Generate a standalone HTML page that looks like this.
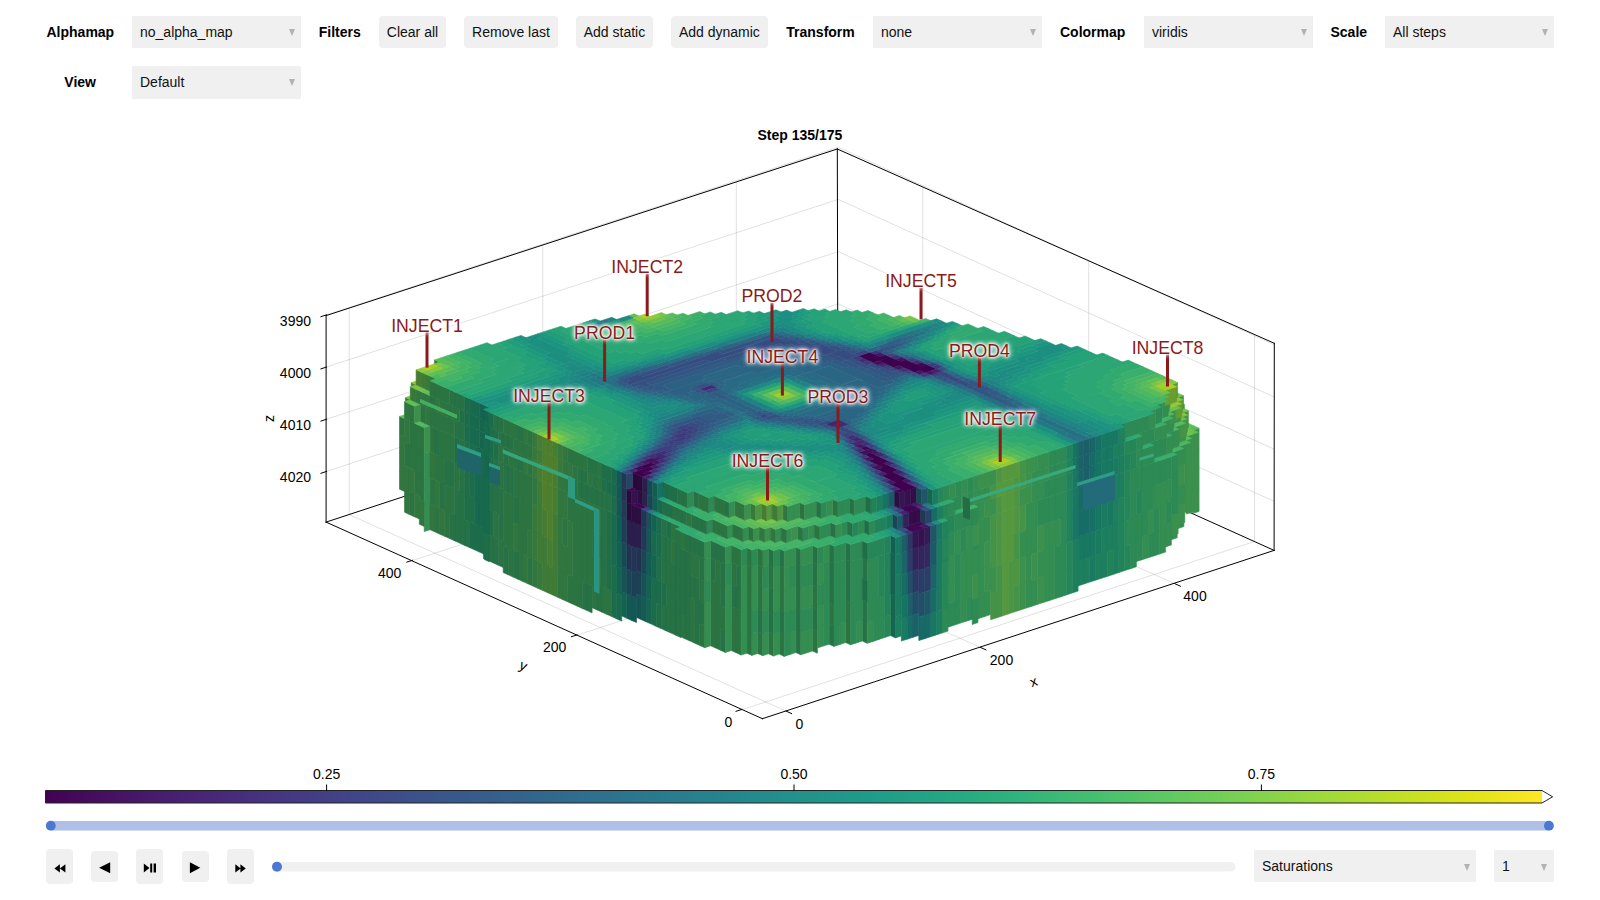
<!DOCTYPE html>
<html><head><meta charset="utf-8"><title>Reservoir plot</title>
<style>
html,body{margin:0;padding:0;background:#fff}
body{width:1600px;height:900px;position:relative;overflow:hidden;font-family:"Liberation Sans",sans-serif;font-size:14px;color:#000}
.lb{position:absolute;font-weight:bold;height:32px;line-height:33.4px;top:16px;white-space:nowrap}
.mn{position:absolute;background:#f0f0f0;height:32px;line-height:33.6px;top:16px;box-sizing:border-box;padding-left:8px;white-space:nowrap;color:#111}
.mn:after{content:"";position:absolute;right:6.5px;top:13.2px;border-left:3.9px solid transparent;border-right:3.9px solid transparent;border-top:7.8px solid #b2b2b2}
.bt{position:absolute;background:#f0f0f0;height:32px;line-height:33.6px;top:16px;border-radius:4px;text-align:center;white-space:nowrap;color:#111}
.pb{position:absolute;background:#f0f0f0;border-radius:4px;width:27px}
svg{position:absolute;left:0;top:0}
svg text{font-family:"Liberation Sans",sans-serif;font-size:14px;fill:#000}
.g{stroke:#000;stroke-opacity:.12;stroke-width:1}
.f{stroke:#000;stroke-width:1;stroke-linecap:square}
.wl{position:absolute;width:120px;text-align:center;font-size:17.7px;line-height:20px;color:#8b1a1a;white-space:nowrap;text-shadow:0 0 2px #fff,0 0 3px #fff,0 0 4px #fff,0 0 5px #fff,0 0 6px rgba(255,255,255,.9)}
</style></head><body>
<div class="lb" style="left:46.5px">Alphamap</div>
<div class="mn" style="left:132px;width:169px">no_alpha_map</div>
<div class="lb" style="left:318.7px">Filters</div>
<div class="bt" style="left:379px;width:67px">Clear all</div>
<div class="bt" style="left:464.2px;width:93.6px">Remove last</div>
<div class="bt" style="left:575.9px;width:77.1px">Add static</div>
<div class="bt" style="left:671px;width:96.8px">Add dynamic</div>
<div class="lb" style="left:786.3px">Transform</div>
<div class="mn" style="left:873px;width:169px">none</div>
<div class="lb" style="left:1060px">Colormap</div>
<div class="mn" style="left:1144px;width:169px">viridis</div>
<div class="lb" style="left:1330.5px">Scale</div>
<div class="mn" style="left:1385px;width:169px">All steps</div>
<div class="lb" style="left:64.3px;top:66.2px">View</div>
<div class="mn" style="left:132px;width:169px;top:66px;height:32.7px">Default</div>

<div class="pb" style="left:46px;top:849px;height:34.6px"></div>
<div class="pb" style="left:91px;top:851px;height:31.4px"></div>
<div class="pb" style="left:136.3px;top:849px;height:34.6px"></div>
<div class="pb" style="left:181.8px;top:851px;height:31.4px"></div>
<div class="pb" style="left:227px;top:849px;height:34.6px"></div>
<svg width="1600" height="900" viewBox="0 0 1600 900">
<defs><linearGradient id="cb" x1="0" x2="1" y1="0" y2="0"><stop offset="0.000" stop-color="#440154"/><stop offset="0.050" stop-color="#471365"/><stop offset="0.100" stop-color="#482475"/><stop offset="0.150" stop-color="#463480"/><stop offset="0.200" stop-color="#414487"/><stop offset="0.250" stop-color="#3b528b"/><stop offset="0.300" stop-color="#355f8d"/><stop offset="0.350" stop-color="#2f6c8e"/><stop offset="0.400" stop-color="#2a788e"/><stop offset="0.450" stop-color="#25848e"/><stop offset="0.500" stop-color="#21918c"/><stop offset="0.550" stop-color="#1e9c89"/><stop offset="0.600" stop-color="#22a884"/><stop offset="0.650" stop-color="#2fb47c"/><stop offset="0.700" stop-color="#44bf70"/><stop offset="0.750" stop-color="#5ec962"/><stop offset="0.800" stop-color="#7ad151"/><stop offset="0.850" stop-color="#9bd93c"/><stop offset="0.900" stop-color="#bddf26"/><stop offset="0.950" stop-color="#dfe318"/><stop offset="1.000" stop-color="#fde725"/></linearGradient></defs>
<text x="799.9" y="139.6" text-anchor="middle" font-weight="bold">Step 135/175</text>
<g><line x1="786.1" y1="711.1" x2="349.2" y2="514.6" class="g"/><line x1="349.2" y1="514.6" x2="349.2" y2="308.1" class="g"/><line x1="980.5" y1="647.4" x2="542.8" y2="451.5" class="g"/><line x1="542.8" y1="451.5" x2="542.8" y2="245.0" class="g"/><line x1="1174.9" y1="583.7" x2="736.3" y2="388.4" class="g"/><line x1="736.3" y1="388.4" x2="736.3" y2="181.9" class="g"/><line x1="741.7" y1="709.8" x2="1254.5" y2="541.5" class="g"/><line x1="1254.5" y1="541.5" x2="1254.5" y2="334.5" class="g"/><line x1="577.3" y1="635.1" x2="1088.7" y2="467.8" class="g"/><line x1="1088.7" y1="467.8" x2="1088.7" y2="260.8" class="g"/><line x1="412.5" y1="560.5" x2="922.8" y2="394.0" class="g"/><line x1="922.8" y1="394.0" x2="922.8" y2="187.0" class="g"/><line x1="326.6" y1="314.8" x2="838.2" y2="147.2" class="g"/><line x1="838.2" y1="147.2" x2="1274.1" y2="344.7" class="g"/><line x1="326.6" y1="367.0" x2="838.2" y2="199.4" class="g"/><line x1="838.2" y1="199.4" x2="1274.1" y2="396.9" class="g"/><line x1="326.6" y1="419.2" x2="838.2" y2="251.6" class="g"/><line x1="838.2" y1="251.6" x2="1274.1" y2="449.1" class="g"/><line x1="326.6" y1="471.4" x2="838.2" y2="303.8" class="g"/><line x1="838.2" y1="303.8" x2="1274.1" y2="501.3" class="g"/></g>
<g><line x1="326.1" y1="315.6" x2="837.3" y2="149.0" class="f"/><line x1="837.3" y1="149.0" x2="1274.3" y2="343.3" class="f"/><line x1="837.3" y1="149.0" x2="837.8" y2="353.8" class="f"/><line x1="326.1" y1="522.1" x2="837.8" y2="353.8" class="f"/><line x1="1274.1" y1="550.4" x2="837.8" y2="353.8" class="f"/><line x1="326.1" y1="315.6" x2="326.1" y2="522.1" class="f"/><line x1="1274.3" y1="343.3" x2="1274.1" y2="550.4" class="f"/></g>
<g stroke-width="0.6" stroke-linejoin="round"><path fill="#2b7442" stroke="#2b7442" d="M779.3 565.7l4.9 2.3 0 22.1-4.9-2.3zM779.3 587.8l4.9 2.3 0 22.1-4.9-2.3zM779.3 632l4.9 2.3 0 22.1-4.9-2.3zM592.1 503.7l4.9 2.2 0 26-4.9-2.2zM592.1 555.7l4.9 2.2 0 26-4.9-2.2zM592.1 581.7l4.9 2.2 0 26-4.9-2.2zM582.2 499.2l5 2.2 0 27.3-5-2.2zM582.2 526.5l5 2.2 0 27.3-5-2.2zM582.2 553.8l5 2.2 0 27.3-5-2.2zM572.4 494.7l4.9 2.3 0 27.3-4.9-2.3zM572.4 522l4.9 2.3 0 27.3-4.9-2.3zM572.4 549.3l4.9 2.3 0 27.3-4.9-2.3zM572.4 576.6l4.9 2.3 0 27.3-4.9-2.3zM845.7 601l4.9 2.2 0 20.8-4.9-2.2zM845.7 621.8l4.9 2.2 0 20.8-4.9-2.2zM671.1 539.5l4.9 2.2 0 23.4-4.9-2.2zM606.9 588.4l5 2.2 0 26-5-2.2zM399.5 416.4l5 2.2 0 18.2-5-2.2zM597 505.9l5 2.3 0 26-5-2.3zM597 557.9l5 2.3 0 26-5-2.3zM715.6 559.6l4.9 2.3 0 22.1-4.9-2.3zM715.6 581.7l4.9 2.3 0 22.1-4.9-2.3zM715.6 603.8l4.9 2.3 0 22.1-4.9-2.3zM715.6 625.9l4.9 2.3 0 22.1-4.9-2.3zM694.9 554.8l4.9 2.3 0 22.1-4.9-2.3zM414.3 423.1l5 2.3 0 23.4-5-2.3zM414.3 446.5l5 2.3 0 23.4-5-2.3zM414.3 469.9l5 2.3 0 23.4-5-2.3zM404.5 442l4.9 2.3 0 23.4-4.9-2.3zM768.5 565.4l4.9 2.3 0 22.1-4.9-2.3zM768.5 631.7l4.9 2.3 0 22.1-4.9-2.3zM720.5 606.1l4.9 2.2 0 22.1-4.9-2.2zM699.8 579.2l5 2.2 0 22.1-5-2.2zM699.8 623.4l5 2.2 0 22.1-5-2.2zM710.6 579.5l5 2.2 0 22.1-5-2.2zM710.6 601.6l5 2.2 0 22.1-5-2.2zM710.6 623.7l5 2.2 0 22.1-5-2.2zM690 552.6l4.9 2.2 0 22.1-4.9-2.2zM690 596.8l4.9 2.2 0 22.1-4.9-2.2zM690 618.9l4.9 2.2 0 22.1-4.9-2.2zM829.1 602.6l4.9 2.2 0 20.8-4.9-2.2zM680.1 614.4l4.9 2.3 0 22.1-4.9-2.3zM493.3 510.9l5 2.3 0 26-5-2.3zM747 564.8l4.9 2.2 0 22.1-4.9-2.2zM747 586.9l4.9 2.2 0 22.1-4.9-2.2zM747 609l4.9 2.2 0 22.1-4.9-2.2zM747 631.1l4.9 2.2 0 22.1-4.9-2.2zM419.3 425.4l4.9 2.2 0 24.7-4.9-2.2zM419.3 450.1l4.9 2.2 0 24.7-4.9-2.2zM419.3 474.8l4.9 2.2 0 24.7-4.9-2.2zM439.9 430.2l5 2.2 0 26-5-2.2zM439.9 456.2l5 2.2 0 26-5-2.2zM757.7 565.1l5 2.2 0 22.1-5-2.2zM757.7 587.2l5 2.2 0 22.1-5-2.2zM757.7 631.4l5 2.2 0 22.1-5-2.2zM409.4 420.9l4.9 2.2 0 23.4-4.9-2.2zM409.4 444.3l4.9 2.2 0 23.4-4.9-2.2zM409.4 491.1l4.9 2.2 0 23.4-4.9-2.2zM430 425.7l5 2.2 0 26-5-2.2zM430 477.7l5 2.2 0 26-5-2.2zM527.9 474.6l4.9 2.2 0 27.3-4.9-2.2zM527.9 501.9l4.9 2.2 0 27.3-4.9-2.2zM527.9 556.5l4.9 2.2 0 27.3-4.9-2.2zM518 470.1l5 2.3 0 27.3-5-2.3zM518 497.4l5 2.3 0 27.3-5-2.3zM518 524.7l5 2.3 0 27.3-5-2.3zM518 552l5 2.3 0 27.3-5-2.3zM508.2 492.9l4.9 2.3 0 27.3-4.9-2.3zM508.2 520.2l4.9 2.3 0 27.3-4.9-2.3zM508.2 547.5l4.9 2.3 0 27.3-4.9-2.3zM736.2 608.6l4.9 2.3 0 22.1-4.9-2.3zM736.2 630.7l4.9 2.3 0 22.1-4.9-2.3zM562.5 517.6l4.9 2.2 0 27.3-4.9-2.2zM498.3 461.2l4.9 2.2 0 26-4.9-2.2zM498.3 539.2l4.9 2.2 0 26-4.9-2.2zM454.7 462.9l5 2.2 0 26-5-2.2zM444.9 432.4l4.9 2.2 0 26-4.9-2.2zM444.9 484.4l4.9 2.2 0 26-4.9-2.2zM444.9 510.4l4.9 2.2 0 26-4.9-2.2zM435 453.9l4.9 2.3 0 26-4.9-2.3zM435 505.9l4.9 2.3 0 26-4.9-2.3zM812.5 584.7l4.9 2.2 0 22.1-4.9-2.2zM812.5 628.9l4.9 2.2 0 22.1-4.9-2.2zM587.2 501.4l4.9 2.3 0 27.3-4.9-2.3zM587.2 528.7l4.9 2.3 0 27.3-4.9-2.3zM587.2 556l4.9 2.3 0 27.3-4.9-2.3zM523 472.4l4.9 2.2 0 27.3-4.9-2.2zM523 499.7l4.9 2.2 0 27.3-4.9-2.2zM523 527l4.9 2.2 0 27.3-4.9-2.2zM577.3 497l4.9 2.2 0 27.3-4.9-2.2zM577.3 524.3l4.9 2.2 0 27.3-4.9-2.2zM577.3 551.6l4.9 2.2 0 27.3-4.9-2.2zM577.3 578.9l4.9 2.2 0 27.3-4.9-2.2zM513.1 467.9l4.9 2.2 0 27.3-4.9-2.2zM567.4 492.5l5 2.2 0 27.3-5-2.2zM567.4 574.4l5 2.2 0 27.3-5-2.2zM503.2 490.7l5 2.2 0 27.3-5-2.2zM503.2 518l5 2.2 0 27.3-5-2.2zM731.3 562.2l4.9 2.2 0 22.1-4.9-2.2zM731.3 606.4l4.9 2.2 0 22.1-4.9-2.2zM731.3 628.5l4.9 2.2 0 22.1-4.9-2.2zM449.8 434.6l4.9 2.3 0 26-4.9-2.3zM449.8 486.6l4.9 2.3 0 26-4.9-2.3zM602 586.2l4.9 2.2 0 26-4.9-2.2z"/>
<path fill="#267145" stroke="#267145" d="M779.3 609.9l4.9 2.3 0 22.1-4.9-2.3zM592.1 529.7l4.9 2.2 0 26-4.9-2.2zM582.2 581.1l5 2.2 0 27.3-5-2.2zM795.9 564.2l4.9 2.2 0 22.1-4.9-2.2zM795.9 586.3l4.9 2.2 0 22.1-4.9-2.2zM795.9 608.4l4.9 2.2 0 22.1-4.9-2.2zM795.9 630.5l4.9 2.2 0 22.1-4.9-2.2zM845.7 559.4l4.9 2.2 0 20.8-4.9-2.2zM845.7 580.2l4.9 2.2 0 20.8-4.9-2.2zM671.1 562.9l4.9 2.2 0 23.4-4.9-2.2zM671.1 586.3l4.9 2.2 0 23.4-4.9-2.2zM671.1 609.7l4.9 2.2 0 23.4-4.9-2.2zM661.2 535l5 2.3 0 23.4-5-2.3zM661.2 558.4l5 2.3 0 23.4-5-2.3zM661.2 605.2l5 2.3 0 23.4-5-2.3zM597 531.9l5 2.3 0 26-5-2.3zM597 583.9l5 2.3 0 26-5-2.3zM694.9 576.9l4.9 2.3 0 22.1-4.9-2.3zM694.9 599l4.9 2.3 0 22.1-4.9-2.3zM694.9 621.1l4.9 2.3 0 22.1-4.9-2.3zM685 550.4l5 2.2 0 22.1-5-2.2zM685 572.5l5 2.2 0 22.1-5-2.2zM685 594.6l5 2.2 0 22.1-5-2.2zM685 616.7l5 2.2 0 22.1-5-2.2zM675.2 545.9l4.9 2.2 0 22.1-4.9-2.2zM675.2 568l4.9 2.2 0 22.1-4.9-2.2zM675.2 590.1l4.9 2.2 0 22.1-4.9-2.2zM675.2 612.2l4.9 2.2 0 22.1-4.9-2.2zM676 541.7l5 2.3 0 23.4-5-2.3zM676 565.1l5 2.3 0 23.4-5-2.3zM676 588.5l5 2.3 0 23.4-5-2.3zM676 611.9l5 2.3 0 23.4-5-2.3zM666.2 537.3l4.9 2.2 0 23.4-4.9-2.2zM666.2 560.7l4.9 2.2 0 23.4-4.9-2.2zM666.2 584.1l4.9 2.2 0 23.4-4.9-2.2zM666.2 607.5l4.9 2.2 0 23.4-4.9-2.2zM768.5 587.5l4.9 2.3 0 22.1-4.9-2.3zM768.5 609.6l4.9 2.3 0 22.1-4.9-2.3zM720.5 561.9l4.9 2.2 0 22.1-4.9-2.2zM720.5 584l4.9 2.2 0 22.1-4.9-2.2zM720.5 628.2l4.9 2.2 0 22.1-4.9-2.2zM699.8 557.1l5 2.2 0 22.1-5-2.2zM699.8 601.3l5 2.2 0 22.1-5-2.2zM710.6 557.4l5 2.2 0 22.1-5-2.2zM690 574.7l4.9 2.2 0 22.1-4.9-2.2zM862.3 557.8l4.9 2.3 0 20.8-4.9-2.3zM862.3 599.4l4.9 2.3 0 20.8-4.9-2.3zM862.3 620.2l4.9 2.3 0 20.8-4.9-2.3zM829.1 561l4.9 2.2 0 20.8-4.9-2.2zM829.1 581.8l4.9 2.2 0 20.8-4.9-2.2zM829.1 623.4l4.9 2.2 0 20.8-4.9-2.2zM680.1 548.1l4.9 2.3 0 22.1-4.9-2.3zM680.1 570.2l4.9 2.3 0 22.1-4.9-2.3zM680.1 592.3l4.9 2.3 0 22.1-4.9-2.3zM493.3 458.9l5 2.3 0 26-5-2.3zM493.3 484.9l5 2.3 0 26-5-2.3zM493.3 536.9l5 2.3 0 26-5-2.3zM439.9 482.2l5 2.2 0 26-5-2.2zM757.7 609.3l5 2.2 0 22.1-5-2.2zM508.2 465.6l4.9 2.3 0 27.3-4.9-2.3zM736.2 564.4l4.9 2.3 0 22.1-4.9-2.3zM736.2 586.5l4.9 2.3 0 22.1-4.9-2.3zM464.6 519.4l4.9 2.2 0 26-4.9-2.2zM498.3 487.2l4.9 2.2 0 26-4.9-2.2zM498.3 513.2l4.9 2.2 0 26-4.9-2.2zM454.7 488.9l5 2.2 0 26-5-2.2zM454.7 514.9l5 2.2 0 26-5-2.2zM488.4 482.7l4.9 2.2 0 26-4.9-2.2zM488.4 534.7l4.9 2.2 0 26-4.9-2.2zM444.9 458.4l4.9 2.2 0 26-4.9-2.2zM435 427.9l4.9 2.3 0 26-4.9-2.3zM812.5 562.6l4.9 2.2 0 22.1-4.9-2.2zM812.5 606.8l4.9 2.2 0 22.1-4.9-2.2zM587.2 583.3l4.9 2.3 0 27.3-4.9-2.3zM513.1 495.2l4.9 2.2 0 27.3-4.9-2.2zM513.1 549.8l4.9 2.2 0 27.3-4.9-2.2zM503.2 463.4l5 2.2 0 27.3-5-2.2zM503.2 545.3l5 2.2 0 27.3-5-2.2zM731.3 584.3l4.9 2.2 0 22.1-4.9-2.2zM459.7 439.1l4.9 2.3 0 26-4.9-2.3zM459.7 465.1l4.9 2.3 0 26-4.9-2.3zM459.7 491.1l4.9 2.3 0 26-4.9-2.3zM459.7 517.1l4.9 2.3 0 26-4.9-2.3zM449.8 460.6l4.9 2.3 0 26-4.9-2.3zM449.8 512.6l4.9 2.3 0 26-4.9-2.3zM602 508.2l4.9 2.2 0 26-4.9-2.2zM602 534.2l4.9 2.2 0 26-4.9-2.2zM602 560.2l4.9 2.2 0 26-4.9-2.2z"/>
<path fill="#348d51" stroke="#348d51" d="M784.2 568l5.8-1.9 0 22.1-5.8 1.9zM784.2 590.1l5.8-1.9 0 22.1-5.8 1.9zM1171.4 456.5l5.8-1.9 0 20.8-5.8 1.9zM1171.4 498.1l5.8-1.9 0 20.8-5.8 1.9zM1171.4 518.9l5.8-1.9 0 20.8-5.8 1.9zM800.8 588.5l5.8-1.9 0 22.1-5.8 1.9zM800.8 632.7l5.8-1.9 0 22.1-5.8 1.9zM1184.8 444.4l5.9-1.9 0 16.9-5.9 1.9zM1184.8 461.3l5.9-1.9 0 16.9-5.9 1.9zM1184.8 478.2l5.9-1.9 0 16.9-5.9 1.9zM1184.8 495.1l5.9-1.9 0 16.9-5.9 1.9zM1048.9 522.7l5.8-1.9 0 26-5.8 1.9zM1048.9 548.7l5.8-1.9 0 26-5.8 1.9zM1048.9 574.7l5.8-1.9 0 26-5.8 1.9zM948.9 556.7l5.8-1.9 0 23.4-5.8 1.9zM948.9 580.1l5.8-1.9 0 23.4-5.8 1.9zM1192.5 434.2l5.8-1.9 0 19.5-5.8 1.9zM1192.5 453.7l5.8-1.9 0 19.5-5.8 1.9zM1192.5 492.7l5.8-1.9 0 19.5-5.8 1.9zM978.9 519.6l5.9-1.9 0 24.7-5.9 1.9zM978.9 544.3l5.9-1.9 0 24.7-5.9 1.9zM978.9 569l5.9-1.9 0 24.7-5.9 1.9zM978.9 593.7l5.9-1.9 0 24.7-5.9 1.9zM1153.9 485.7l5.8-1.9 0 23.4-5.8 1.9zM966.4 527.6l5.8-1.9 0 23.4-5.8 1.9zM966.4 551l5.8-1.9 0 23.4-5.8 1.9zM966.4 574.4l5.8-1.9 0 23.4-5.8 1.9zM806.6 586.6l5.9-1.9 0 22.1-5.9 1.9zM806.6 630.8l5.9-1.9 0 22.1-5.9 1.9zM773.4 567.7l5.9-2 0 22.1-5.9 2zM773.4 589.8l5.9-2 0 22.1-5.9 2zM773.4 634l5.9-2 0 22.1-5.9 2zM725.4 586.2l5.9-1.9 0 22.1-5.9 1.9zM725.4 608.3l5.9-1.9 0 22.1-5.9 1.9zM725.4 630.4l5.9-1.9 0 22.1-5.9 1.9zM704.8 559.3l5.8-1.9 0 22.1-5.8 1.9zM704.8 603.5l5.8-1.9 0 22.1-5.8 1.9zM704.8 625.6l5.8-1.9 0 22.1-5.8 1.9zM1142.2 536.3l5.9-1.9 0 23.4-5.9 1.9zM856.5 622.1l5.8-1.9 0 20.8-5.8 1.9zM1031.4 502.4l5.8-1.9 0 26-5.8 1.9zM1031.4 528.4l5.8-1.9 0 26-5.8 1.9zM1031.4 580.4l5.8-1.9 0 26-5.8 1.9zM954.7 531.4l5.8-1.9 0 23.4-5.8 1.9zM1165.6 480.6l5.8-2 0 22.1-5.8 2zM1165.6 524.8l5.8-2 0 22.1-5.8 2zM1054.7 520.8l5.9-1.9 0 26-5.9 1.9zM867.2 622.5l5.9-1.9 0 20.8-5.9 1.9zM751.9 567l5.8-1.9 0 22.1-5.8 1.9zM751.9 589.1l5.8-1.9 0 22.1-5.8 1.9zM751.9 633.3l5.8-1.9 0 22.1-5.8 1.9zM1019.8 532.2l5.8-1.9 0 26-5.8 1.9zM424.2 453.6l5.8-1.9 0 26-5.8 1.9zM424.2 479.6l5.8-1.9 0 26-5.8 1.9zM424.2 505.6l5.8-1.9 0 26-5.8 1.9zM1043.1 524.6l5.8-1.9 0 26-5.8 1.9zM1043.1 550.6l5.8-1.9 0 26-5.8 1.9zM1043.1 576.6l5.8-1.9 0 26-5.8 1.9zM762.7 589.4l5.8-1.9 0 22.1-5.8 1.9zM762.7 633.6l5.8-1.9 0 22.1-5.8 1.9zM984.8 517.7l5.8-1.9 0 24.7-5.8 1.9zM984.8 591.8l5.8-1.9 0 24.7-5.8 1.9zM1159.7 483.8l5.9-1.9 0 23.4-5.9 1.9zM1159.7 507.2l5.9-1.9 0 23.4-5.9 1.9zM1159.7 530.6l5.9-1.9 0 23.4-5.9 1.9zM790 588.2l5.9-1.9 0 22.1-5.9 1.9zM790 632.4l5.9-1.9 0 22.1-5.9 1.9zM972.2 550.4l5.8-1.9 0 24.7-5.8 1.9zM741.1 566.7l5.9-1.9 0 22.1-5.9 1.9zM741.1 588.8l5.9-1.9 0 22.1-5.9 1.9zM741.1 610.9l5.9-1.9 0 22.1-5.9 1.9zM741.1 633l5.9-1.9 0 22.1-5.9 1.9zM973.1 546.2l5.8-1.9 0 24.7-5.8 1.9zM973.1 570.9l5.8-1.9 0 24.7-5.8 1.9zM973.1 595.6l5.8-1.9 0 24.7-5.8 1.9zM1148.1 511l5.8-1.9 0 23.4-5.8 1.9zM1037.2 552.5l5.9-1.9 0 26-5.9 1.9zM960.5 552.9l5.9-1.9 0 23.4-5.9 1.9zM960.5 576.3l5.9-1.9 0 23.4-5.9 1.9zM960.5 599.7l5.9-1.9 0 23.4-5.9 1.9zM839.9 623.7l5.8-1.9 0 20.8-5.8 1.9zM817.4 564.8l5.9-1.9 0 20.8-5.9 1.9zM817.4 606.4l5.9-1.9 0 20.8-5.9 1.9zM817.4 627.2l5.9-1.9 0 20.8-5.9 1.9zM1025.6 504.3l5.8-1.9 0 26-5.8 1.9zM1025.6 530.3l5.8-1.9 0 26-5.8 1.9zM1025.6 556.3l5.8-1.9 0 26-5.8 1.9zM1025.6 582.3l5.8-1.9 0 26-5.8 1.9zM1178.1 450.5l5.8-1.9 0 19.5-5.8 1.9zM1178.1 470l5.8-1.9 0 19.5-5.8 1.9zM1178.1 489.5l5.8-1.9 0 19.5-5.8 1.9zM1178.1 509l5.8-1.9 0 19.5-5.8 1.9zM1179 446.3l5.8-1.9 0 19.5-5.8 1.9zM1179 485.3l5.8-1.9 0 19.5-5.8 1.9z"/>
<path fill="#2e8a54" stroke="#2e8a54" d="M784.2 612.2l5.8-1.9 0 22.1-5.8 1.9zM784.2 634.3l5.8-1.9 0 22.1-5.8 1.9zM823.3 562.9l5.8-1.9 0 20.8-5.8 1.9zM823.3 583.7l5.8-1.9 0 20.8-5.8 1.9zM823.3 604.5l5.8-1.9 0 20.8-5.8 1.9zM823.3 625.3l5.8-1.9 0 20.8-5.8 1.9zM1171.4 477.3l5.8-1.9 0 20.8-5.8 1.9zM1060.6 492.9l5.8-2 0 26-5.8 2zM1060.6 518.9l5.8-2 0 26-5.8 2zM1060.6 544.9l5.8-2 0 26-5.8 2zM1060.6 570.9l5.8-2 0 26-5.8 2zM800.8 566.4l5.8-1.9 0 22.1-5.8 1.9zM800.8 610.6l5.8-1.9 0 22.1-5.8 1.9zM873.1 558.2l5.8-2 0 20.8-5.8 2zM873.1 579l5.8-2 0 20.8-5.8 2zM873.1 599.8l5.8-2 0 20.8-5.8 2zM873.1 620.6l5.8-2 0 20.8-5.8 2zM850.6 561.6l5.9-1.9 0 20.8-5.9 1.9zM850.6 582.5l5.9-1.9 0 20.8-5.9 1.9zM850.6 603.2l5.9-1.9 0 20.8-5.9 1.9zM850.6 624l5.9-1.9 0 20.8-5.9 1.9zM1048.9 496.7l5.8-1.9 0 26-5.8 1.9zM1172.3 452.4l5.8-1.9 0 20.8-5.8 1.9zM1172.3 473.2l5.8-1.9 0 20.8-5.8 1.9zM1172.3 494l5.8-1.9 0 20.8-5.8 1.9zM1136.4 468l5.8-1.9 0 23.4-5.8 1.9zM1136.4 514.8l5.8-1.9 0 23.4-5.8 1.9zM1136.4 538.2l5.8-1.9 0 23.4-5.8 1.9zM948.9 533.3l5.8-1.9 0 23.4-5.8 1.9zM948.9 603.5l5.8-1.9 0 23.4-5.8 1.9zM1124.7 521.2l5.9-1.9 0 24.7-5.9 1.9zM1153.9 462.3l5.8-1.9 0 23.4-5.8 1.9zM1153.9 509.1l5.8-1.9 0 23.4-5.8 1.9zM1153.9 532.5l5.8-1.9 0 23.4-5.8 1.9zM966.4 597.8l5.8-1.9 0 23.4-5.8 1.9zM806.6 564.5l5.9-1.9 0 22.1-5.9 1.9zM806.6 608.7l5.9-1.9 0 22.1-5.9 1.9zM773.4 611.9l5.9-2 0 22.1-5.9 2zM725.4 564.1l5.9-1.9 0 22.1-5.9 1.9zM704.8 581.4l5.8-1.9 0 22.1-5.8 1.9zM1142.2 466.1l5.9-1.9 0 23.4-5.9 1.9zM1142.2 489.5l5.9-1.9 0 23.4-5.9 1.9zM1142.2 512.9l5.9-1.9 0 23.4-5.9 1.9zM856.5 559.7l5.8-1.9 0 20.8-5.8 1.9zM856.5 580.5l5.8-1.9 0 20.8-5.8 1.9zM856.5 601.3l5.8-1.9 0 20.8-5.8 1.9zM954.7 554.8l5.8-1.9 0 23.4-5.8 1.9zM954.7 578.2l5.8-1.9 0 23.4-5.8 1.9zM954.7 601.6l5.8-1.9 0 23.4-5.8 1.9zM1165.6 458.5l5.8-2 0 22.1-5.8 2zM1165.6 502.7l5.8-2 0 22.1-5.8 2zM1054.7 494.8l5.9-1.9 0 26-5.9 1.9zM1054.7 546.8l5.9-1.9 0 26-5.9 1.9zM1054.7 572.8l5.9-1.9 0 26-5.9 1.9zM867.2 560.1l5.9-1.9 0 20.8-5.9 1.9zM867.2 580.9l5.9-1.9 0 20.8-5.9 1.9zM867.2 601.7l5.9-1.9 0 20.8-5.9 1.9zM834 563.2l5.9-1.9 0 20.8-5.9 1.9zM834 584l5.9-1.9 0 20.8-5.9 1.9zM834 604.8l5.9-1.9 0 20.8-5.9 1.9zM834 625.6l5.9-1.9 0 20.8-5.9 1.9zM751.9 611.2l5.8-1.9 0 22.1-5.8 1.9zM942.1 609.6l5.9-1.9 0 23.4-5.9 1.9zM1043.1 498.6l5.8-1.9 0 26-5.8 1.9zM762.7 567.3l5.8-1.9 0 22.1-5.8 1.9zM762.7 611.5l5.8-1.9 0 22.1-5.8 1.9zM1159.7 460.4l5.9-1.9 0 23.4-5.9 1.9zM790 566.1l5.9-1.9 0 22.1-5.9 1.9zM790 610.3l5.9-1.9 0 22.1-5.9 1.9zM972.2 525.7l5.8-1.9 0 24.7-5.8 1.9zM972.2 599.8l5.8-1.9 0 24.7-5.8 1.9zM1148.1 464.2l5.8-1.9 0 23.4-5.8 1.9zM1148.1 487.6l5.8-1.9 0 23.4-5.8 1.9zM1148.1 534.4l5.8-1.9 0 23.4-5.8 1.9zM1037.2 500.5l5.9-1.9 0 26-5.9 1.9zM960.5 529.5l5.9-1.9 0 23.4-5.9 1.9zM839.9 561.3l5.8-1.9 0 20.8-5.8 1.9zM839.9 582.1l5.8-1.9 0 20.8-5.8 1.9zM839.9 602.9l5.8-1.9 0 20.8-5.8 1.9zM817.4 585.6l5.9-1.9 0 20.8-5.9 1.9zM1130.6 469.9l5.8-1.9 0 24.7-5.8 1.9zM1130.6 494.6l5.8-1.9 0 24.7-5.8 1.9zM1130.6 519.3l5.8-1.9 0 24.7-5.8 1.9zM1130.6 544l5.8-1.9 0 24.7-5.8 1.9zM878.9 597.8l5.8-1.9 0 20.8-5.8 1.9zM878.9 618.6l5.8-1.9 0 20.8-5.8 1.9zM943 558.6l5.9-1.9 0 23.4-5.9 1.9zM943 582l5.9-1.9 0 23.4-5.9 1.9zM943 605.4l5.9-1.9 0 23.4-5.9 1.9z"/>
<path fill="#1c6b4b" stroke="#1c6b4b" d="M656.3 532.8l4.9 2.2 0 23.4-4.9-2.2zM656.3 579.6l4.9 2.2 0 23.4-4.9-2.2zM484.4 532.2l4.9 2.2 0 27.3-4.9-2.2zM474.5 523.8l4.9 2.3 0 26-4.9-2.3zM651.4 577.3l4.9 2.3 0 23.4-4.9-2.3zM651.4 600.7l4.9 2.3 0 23.4-4.9-2.3zM483.5 454.5l4.9 2.2 0 26-4.9-2.2zM483.5 506.5l4.9 2.2 0 26-4.9-2.2zM479.4 526.1l5 2.2 0 26-5-2.2zM469.5 443.6l5 2.2 0 26-5-2.2zM469.5 469.6l5 2.2 0 26-5-2.2zM469.5 521.6l5 2.2 0 26-5-2.2zM611.9 564.6l4.9 2.3 0 26-4.9-2.3zM611.9 590.6l4.9 2.3 0 26-4.9-2.3z"/>
<path fill="#206e48" stroke="#206e48" d="M656.3 556.2l4.9 2.2 0 23.4-4.9-2.2zM656.3 603l4.9 2.2 0 23.4-4.9-2.2zM606.9 510.4l5 2.2 0 26-5-2.2zM606.9 536.4l5 2.2 0 26-5-2.2zM606.9 562.4l5 2.2 0 26-5-2.2zM661.2 581.8l5 2.3 0 23.4-5-2.3zM862.3 578.6l4.9 2.3 0 20.8-4.9-2.3zM483.5 480.5l4.9 2.2 0 26-4.9-2.2zM483.5 532.5l4.9 2.2 0 26-4.9-2.2zM464.6 441.4l4.9 2.2 0 26-4.9-2.2zM464.6 467.4l4.9 2.2 0 26-4.9-2.2zM464.6 493.4l4.9 2.2 0 26-4.9-2.2zM454.7 436.9l5 2.2 0 26-5-2.2zM488.4 456.7l4.9 2.2 0 26-4.9-2.2zM488.4 508.7l4.9 2.2 0 26-4.9-2.2zM469.5 495.6l5 2.2 0 26-5-2.2z"/>
<path fill="#15654f" stroke="#15654f" d="M484.4 450.3l4.9 2.2 0 27.3-4.9-2.2zM646.4 598.5l5 2.2 0 23.4-5-2.2zM890.6 594l4.9 2.3 0 20.8-4.9-2.3zM890.6 614.8l4.9 2.3 0 20.8-4.9-2.3zM651.4 553.9l4.9 2.3 0 23.4-4.9-2.3z"/>
<path fill="#18694d" stroke="#18694d" d="M484.4 477.6l4.9 2.2 0 27.3-4.9-2.2zM484.4 504.9l4.9 2.2 0 27.3-4.9-2.2zM474.5 445.8l4.9 2.3 0 26-4.9-2.3zM474.5 471.8l4.9 2.3 0 26-4.9-2.3zM474.5 497.8l4.9 2.3 0 26-4.9-2.3zM616.8 592.9l4.9 2.2 0 26-4.9-2.2zM651.4 530.5l4.9 2.3 0 23.4-4.9-2.3zM479.4 448.1l5 2.2 0 26-5-2.2zM479.4 474.1l5 2.2 0 26-5-2.2zM479.4 500.1l5 2.2 0 26-5-2.2zM611.9 512.6l4.9 2.3 0 26-4.9-2.3zM611.9 538.6l4.9 2.3 0 26-4.9-2.3z"/>
<path fill="#1d7f5d" stroke="#1d7f5d" d="M1118.9 473.7l5.8-1.9 0 24.7-5.8 1.9zM895.5 617.1l5.8-2 0 20.8-5.8 2zM1083.9 559.3l5.8-1.9 0 24.7-5.8 1.9zM1113.1 475.7l5.8-2 0 24.7-5.8 2zM1113.1 500.4l5.8-2 0 24.7-5.8 2zM1113.1 525.1l5.8-2 0 24.7-5.8 2zM1113.1 549.8l5.8-2 0 24.7-5.8 2zM936.3 611.5l5.8-1.9 0 23.4-5.8 1.9zM1101.4 528.9l5.8-1.9 0 24.7-5.8 1.9zM1101.4 553.6l5.8-1.9 0 24.7-5.8 1.9zM1107.2 527l5.9-1.9 0 24.7-5.9 1.9zM1072.2 541l5.9-1.9 0 26-5.9 1.9zM1072.2 567l5.9-1.9 0 26-5.9 1.9zM1095.6 555.5l5.8-1.9 0 24.7-5.8 1.9zM1078.1 561.2l5.8-1.9 0 24.7-5.8 1.9z"/>
<path fill="#22835b" stroke="#22835b" d="M1118.9 498.4l5.8-1.9 0 24.7-5.8 1.9zM1118.9 523.1l5.8-1.9 0 24.7-5.8 1.9zM1118.9 547.8l5.8-1.9 0 24.7-5.8 1.9zM942.1 539.4l5.9-1.9 0 23.4-5.9 1.9zM1107.2 551.7l5.9-1.9 0 24.7-5.9 1.9zM884.7 554.3l5.9-1.9 0 20.8-5.9 1.9zM884.7 575.1l5.9-1.9 0 20.8-5.9 1.9zM884.7 595.9l5.9-1.9 0 20.8-5.9 1.9zM1066.4 490.9l5.8-1.9 0 26-5.8 1.9zM1066.4 516.9l5.8-1.9 0 26-5.8 1.9z"/>
<path fill="#55983d" stroke="#55983d" d="M1008.1 510.1l5.8-2 0 26-5.8 2zM1008.1 536.1l5.8-2 0 26-5.8 2zM1002.3 512l5.8-1.9 0 26-5.8 1.9zM1002.3 538l5.8-1.9 0 26-5.8 1.9zM1002.3 564l5.8-1.9 0 26-5.8 1.9zM1002.3 590l5.8-1.9 0 26-5.8 1.9z"/>
<path fill="#4d9543" stroke="#4d9543" d="M1008.1 562.1l5.8-2 0 26-5.8 2zM1008.1 588.1l5.8-2 0 26-5.8 2zM996.4 513.9l5.9-1.9 0 26-5.9 1.9zM996.4 539.9l5.9-1.9 0 26-5.9 1.9zM1013.9 508.1l5.9-1.9 0 26-5.9 1.9zM1013.9 560.1l5.9-1.9 0 26-5.9 1.9z"/>
<path fill="#145754" stroke="#145754" d="M646.4 528.3l5 2.2 0 23.4-5-2.2zM626.7 593.5l4.9 2.2 0 24.7-4.9-2.2zM631.6 595.7l4.9 2.2 0 24.7-4.9-2.2z"/>
<path fill="#125c53" stroke="#125c53" d="M646.4 551.7l5 2.2 0 23.4-5-2.2zM616.8 514.9l4.9 2.2 0 26-4.9-2.2zM641.5 596.3l4.9 2.2 0 23.4-4.9-2.2z"/>
<path fill="#136350" stroke="#136350" d="M646.4 575.1l5 2.2 0 23.4-5-2.2zM890.6 552.4l4.9 2.3 0 20.8-4.9-2.3zM890.6 573.2l4.9 2.3 0 20.8-4.9-2.3zM616.8 566.9l4.9 2.2 0 26-4.9-2.2zM621.7 591.2l5 2.3 0 24.7-5-2.3z"/>
<path fill="#2a1f4c" stroke="#2a1f4c" d="M636.5 523.8l5 2.3 0 23.4-5-2.3zM626.7 519.4l4.9 2.2 0 24.7-4.9-2.2zM631.6 521.6l4.9 2.2 0 24.7-4.9-2.2z"/>
<path fill="#233153" stroke="#233153" d="M636.5 547.2l5 2.3 0 23.4-5-2.3zM626.7 544.1l4.9 2.2 0 24.7-4.9-2.2z"/>
<path fill="#1c4155" stroke="#1c4155" d="M636.5 570.6l5 2.3 0 23.4-5-2.3zM631.6 571l4.9 2.2 0 24.7-4.9-2.2z"/>
<path fill="#155355" stroke="#155355" d="M636.5 594l5 2.3 0 23.4-5-2.3zM641.5 572.9l4.9 2.2 0 23.4-4.9-2.2zM621.7 566.5l5 2.3 0 24.7-5-2.3z"/>
<path fill="#187862" stroke="#187862" d="M895.5 554.7l5.8-2 0 20.8-5.8 2zM1083.9 534.6l5.8-1.9 0 24.7-5.8 1.9zM1107.2 502.3l5.9-1.9 0 24.7-5.9 1.9zM1072.2 489l5.9-1.9 0 26-5.9 1.9zM1072.2 515l5.9-1.9 0 26-5.9 1.9zM1095.6 506.1l5.8-1.9 0 24.7-5.8 1.9zM1089.7 532.7l5.9-1.9 0 24.7-5.9 1.9zM1078.1 536.5l5.8-1.9 0 24.7-5.8 1.9zM930.5 613.4l5.8-1.9 0 23.4-5.8 1.9z"/>
<path fill="#1a7b60" stroke="#1a7b60" d="M895.5 575.5l5.8-2 0 20.8-5.8 2zM895.5 596.3l5.8-2 0 20.8-5.8 2zM936.3 541.3l5.8-1.9 0 23.4-5.8 1.9zM936.3 564.7l5.8-1.9 0 23.4-5.8 1.9zM936.3 588.1l5.8-1.9 0 23.4-5.8 1.9zM1101.4 479.5l5.8-1.9 0 24.7-5.8 1.9zM1101.4 504.2l5.8-1.9 0 24.7-5.8 1.9zM1107.2 477.6l5.9-1.9 0 24.7-5.9 1.9zM1095.6 530.8l5.8-1.9 0 24.7-5.8 1.9zM901.3 619l5.9-1.9 0 22.1-5.9 1.9zM1089.7 557.4l5.9-1.9 0 24.7-5.9 1.9z"/>
<path fill="#1a4555" stroke="#1a4555" d="M626.7 568.8l4.9 2.2 0 24.7-4.9-2.2z"/>
<path fill="#459347" stroke="#459347" d="M996.4 565.9l5.9-1.9 0 26-5.9 1.9zM996.4 591.9l5.9-1.9 0 26-5.9 1.9zM990.6 515.8l5.8-1.9 0 26-5.8 1.9zM990.6 541.8l5.8-1.9 0 26-5.8 1.9zM990.6 593.8l5.8-1.9 0 26-5.8 1.9zM1013.9 534.1l5.9-1.9 0 26-5.9 1.9zM1013.9 586.1l5.9-1.9 0 26-5.9 1.9zM1019.8 506.2l5.8-1.9 0 26-5.8 1.9z"/>
<path fill="#3c904d" stroke="#3c904d" d="M1186.6 436.1l5.9-1.9 0 19.5-5.9 1.9zM1186.6 455.6l5.9-1.9 0 19.5-5.9 1.9zM1186.6 475.1l5.9-1.9 0 19.5-5.9 1.9zM1186.6 494.6l5.9-1.9 0 19.5-5.9 1.9zM1172.3 514.8l5.8-1.9 0 20.8-5.8 1.9zM990.6 567.8l5.8-1.9 0 26-5.8 1.9zM1192.5 473.2l5.8-1.9 0 19.5-5.8 1.9zM1193.3 430.1l5.8-1.9 0 20.8-5.8 1.9zM1193.3 450.9l5.8-1.9 0 20.8-5.8 1.9zM1193.3 471.7l5.8-1.9 0 20.8-5.8 1.9zM1193.3 492.5l5.8-1.9 0 20.8-5.8 1.9zM1031.4 554.4l5.8-1.9 0 26-5.8 1.9zM1019.8 558.2l5.8-1.9 0 26-5.8 1.9zM1019.8 584.2l5.8-1.9 0 26-5.8 1.9zM424.2 427.6l5.8-1.9 0 26-5.8 1.9zM984.8 542.4l5.8-1.9 0 24.7-5.8 1.9zM984.8 567.1l5.8-1.9 0 24.7-5.8 1.9zM1185.7 440.3l5.9-1.9 0 18.2-5.9 1.9zM1185.7 458.5l5.9-1.9 0 18.2-5.9 1.9zM1185.7 476.7l5.9-1.9 0 18.2-5.9 1.9zM1185.7 494.9l5.9-1.9 0 18.2-5.9 1.9zM972.2 575.1l5.8-1.9 0 24.7-5.8 1.9zM973.1 521.5l5.8-1.9 0 24.7-5.8 1.9zM1037.2 526.5l5.9-1.9 0 26-5.9 1.9zM1037.2 578.5l5.9-1.9 0 26-5.9 1.9zM1179 465.8l5.8-1.9 0 19.5-5.8 1.9zM1179 504.8l5.8-1.9 0 19.5-5.8 1.9z"/>
<path fill="#126052" stroke="#126052" d="M616.8 540.9l4.9 2.2 0 26-4.9-2.2z"/>
<path fill="#196567" stroke="#196567" d="M1083.9 485.2l5.8-1.9 0 24.7-5.8 1.9zM901.3 552.7l5.9-1.9 0 22.1-5.9 1.9zM930.5 566.6l5.8-1.9 0 23.4-5.8 1.9z"/>
<path fill="#176d66" stroke="#176d66" d="M1083.9 509.9l5.8-1.9 0 24.7-5.8 1.9zM907.2 617.1l5.8-1.9 0 22.1-5.8 1.9zM901.3 574.8l5.9-1.9 0 22.1-5.9 1.9zM1078.1 511.8l5.8-1.9 0 24.7-5.8 1.9zM930.5 590l5.8-1.9 0 23.4-5.8 1.9z"/>
<path fill="#31763f" stroke="#31763f" d="M399.5 434.6l5 2.2 0 18.2-5-2.2zM399.5 452.8l5 2.2 0 18.2-5-2.2zM399.5 471l5 2.2 0 18.2-5-2.2zM414.3 493.3l5 2.3 0 23.4-5-2.3zM404.5 418.6l4.9 2.3 0 23.4-4.9-2.3zM404.5 465.4l4.9 2.3 0 23.4-4.9-2.3zM404.5 488.8l4.9 2.3 0 23.4-4.9-2.3zM419.3 499.5l4.9 2.2 0 24.7-4.9-2.2zM439.9 508.2l5 2.2 0 26-5-2.2zM409.4 467.7l4.9 2.2 0 23.4-4.9-2.2zM430 451.7l5 2.2 0 26-5-2.2zM430 503.7l5 2.2 0 26-5-2.2zM527.9 529.2l4.9 2.2 0 27.3-4.9-2.2zM562.5 490.3l4.9 2.2 0 27.3-4.9-2.2zM562.5 544.9l4.9 2.2 0 27.3-4.9-2.2zM562.5 572.2l4.9 2.2 0 27.3-4.9-2.2zM435 479.9l4.9 2.3 0 26-4.9-2.3zM532.8 476.8l5 2.3 0 27.3-5-2.3zM532.8 558.7l5 2.3 0 27.3-5-2.3zM523 554.3l4.9 2.2 0 27.3-4.9-2.2zM513.1 522.5l4.9 2.2 0 27.3-4.9-2.2zM567.4 519.8l5 2.2 0 27.3-5-2.2zM567.4 547.1l5 2.2 0 27.3-5-2.2zM557.5 488l5 2.3 0 27.3-5-2.3zM557.5 515.3l5 2.3 0 27.3-5-2.3zM557.5 542.6l5 2.3 0 27.3-5-2.3zM557.5 569.9l5 2.3 0 27.3-5-2.3z"/>
<path fill="#278658" stroke="#278658" d="M1136.4 491.4l5.8-1.9 0 23.4-5.8 1.9zM1124.7 471.8l5.9-1.9 0 24.7-5.9 1.9zM1124.7 496.5l5.9-1.9 0 24.7-5.9 1.9zM1124.7 545.9l5.9-1.9 0 24.7-5.9 1.9zM942.1 562.8l5.9-1.9 0 23.4-5.9 1.9zM942.1 586.2l5.9-1.9 0 23.4-5.9 1.9zM884.7 616.7l5.9-1.9 0 20.8-5.9 1.9zM1066.4 542.9l5.8-1.9 0 26-5.8 1.9zM1066.4 568.9l5.8-1.9 0 26-5.8 1.9zM878.9 556.2l5.8-1.9 0 20.8-5.8 1.9zM878.9 577l5.8-1.9 0 20.8-5.8 1.9zM943 535.2l5.9-1.9 0 23.4-5.9 1.9z"/>
<path fill="#1f3b55" stroke="#1f3b55" d="M641.5 526.1l4.9 2.2 0 23.4-4.9-2.2z"/>
<path fill="#194855" stroke="#194855" d="M641.5 549.5l4.9 2.2 0 23.4-4.9-2.2z"/>
<path fill="#223554" stroke="#223554" d="M631.6 546.3l4.9 2.2 0 24.7-4.9-2.2z"/>
<path fill="#33255d" stroke="#33255d" d="M918.8 547l5.9-1.9 0 23.4-5.9 1.9z"/>
<path fill="#2b3c66" stroke="#2b3c66" d="M918.8 570.4l5.9-1.9 0 23.4-5.9 1.9zM907.2 550.8l5.8-1.9 0 22.1-5.8 1.9z"/>
<path fill="#224f68" stroke="#224f68" d="M918.8 593.8l5.9-1.9 0 23.4-5.9 1.9zM907.2 572.9l5.8-1.9 0 22.1-5.8 1.9z"/>
<path fill="#186a66" stroke="#186a66" d="M918.8 617.2l5.9-1.9 0 23.4-5.9 1.9zM924.7 615.3l5.8-1.9 0 23.4-5.8 1.9zM1089.7 483.3l5.9-1.9 0 24.7-5.9 1.9zM1078.1 487.1l5.8-1.9 0 24.7-5.8 1.9z"/>
<path fill="#1c5f68" stroke="#1c5f68" d="M907.2 595l5.8-1.9 0 22.1-5.8 1.9z"/>
<path fill="#167463" stroke="#167463" d="M1095.6 481.4l5.8-1.9 0 24.7-5.8 1.9zM901.3 596.9l5.9-1.9 0 22.1-5.9 1.9z"/>
<path fill="#467d32" stroke="#467d32" d="M552.6 485.8l4.9 2.2 0 27.3-4.9-2.2zM542.7 508.6l5 2.2 0 27.3-5-2.2zM547.7 538.1l4.9 2.3 0 27.3-4.9-2.3z"/>
<path fill="#3f7b37" stroke="#3f7b37" d="M552.6 513.1l4.9 2.2 0 27.3-4.9-2.2zM552.6 540.4l4.9 2.2 0 27.3-4.9-2.2zM552.6 567.7l4.9 2.2 0 27.3-4.9-2.2zM542.7 535.9l5 2.2 0 27.3-5-2.2zM542.7 563.2l5 2.2 0 27.3-5-2.2zM547.7 565.4l4.9 2.3 0 27.3-4.9-2.3zM537.8 479.1l4.9 2.2 0 27.3-4.9-2.2zM537.8 506.4l4.9 2.2 0 27.3-4.9-2.2zM537.8 533.7l4.9 2.2 0 27.3-4.9-2.2z"/>
<path fill="#4f7f2d" stroke="#4f7f2d" d="M542.7 481.3l5 2.2 0 27.3-5-2.2zM547.7 483.5l4.9 2.3 0 27.3-4.9-2.3zM547.7 510.8l4.9 2.3 0 27.3-4.9-2.3z"/>
<path fill="#322a5f" stroke="#322a5f" d="M924.7 545.1l5.8-1.9 0 23.4-5.8 1.9z"/>
<path fill="#294066" stroke="#294066" d="M924.7 568.5l5.8-1.9 0 23.4-5.8 1.9z"/>
<path fill="#1f5768" stroke="#1f5768" d="M924.7 591.9l5.8-1.9 0 23.4-5.8 1.9z"/>
<path fill="#38793b" stroke="#38793b" d="M532.8 504.1l5 2.3 0 27.3-5-2.3zM532.8 531.4l5 2.3 0 27.3-5-2.3zM537.8 561l4.9 2.2 0 27.3-4.9-2.2z"/>
<path fill="#167065" stroke="#167065" d="M1089.7 508l5.9-1.9 0 24.7-5.9 1.9z"/>
<path fill="#34215a" stroke="#34215a" d="M913 548.9l5.8-1.9 0 22.1-5.8 1.9z"/>
<path fill="#2d3764" stroke="#2d3764" d="M913 571l5.8-1.9 0 22.1-5.8 1.9z"/>
<path fill="#234c68" stroke="#234c68" d="M913 593.1l5.8-1.9 0 22.1-5.8 1.9z"/>
<path fill="#1a6267" stroke="#1a6267" d="M913 615.2l5.8-1.9 0 22.1-5.8 1.9z"/>
<path fill="#1d3e55" stroke="#1d3e55" d="M621.7 517.1l5 2.3 0 24.7-5-2.3z"/>
<path fill="#184a55" stroke="#184a55" d="M621.7 541.8l5 2.3 0 24.7-5-2.3z"/>
<path fill="#1d5a68" stroke="#1d5a68" d="M930.5 543.2l5.8-1.9 0 23.4-5.8 1.9z"/>
<path fill="#31aa70" stroke="#31aa70" d="M1153.9 462.3l5.8-1.9-4.9-2.3-5.8 1.9z"/>
<path fill="#3aaf6b" stroke="#3aaf6b" d="M1159.7 460.4l17.5-5.8-4.9-2.2-17.5 5.7z"/>
<path fill="#43b367" stroke="#43b367" d="M1172.3 452.4l11.6-3.8-4.9-2.3-11.7 3.9zM1148 414.1l5.8-1.9-4.9-2.3-5.8 1.9z"/>
<path fill="#4cb762" stroke="#4cb762" d="M1179 446.3l11.7-3.8-5-2.2-11.6 3.8zM1168.7 418.9l5.8-1.9-4.9-2.3-5.9 1.9zM424.2 427.6l5.8-1.9-4.9-2.3-5.8 2z"/>
<path fill="#62be55" stroke="#62be55" d="M1185.7 440.3l5.9-1.9-5-2.3-5.8 1.9zM1192.5 434.2l5.8-1.9-4.9-2.2-5.9 1.9zM1188.4 427.8l5.8-1.9-4.9-2.2-5.8 1.9zM1183.5 425.6l5.8-1.9-4.9-2.3-5.9 2zM404.5 418.6l5.8-1.9-4.9-2.2-5.9 1.9z"/>
<path fill="#6dc24e" stroke="#6dc24e" d="M1186.6 436.1l5.9-1.9-5-2.2-5.8 1.9zM1187.5 432l5.9-1.9-5-2.3-5.8 1.9z"/>
<path fill="#58bb5b" stroke="#58bb5b" d="M1193.3 430.1l5.8-1.9-5-2.3-5.8 1.9zM419.3 425.4l5.8-2-4.9-2.2-5.9 1.9z"/>
<path fill="#267145" stroke="#267145" d="M779.3 548.7l4.9 2.3 0 17-4.9-2.3zM592.1 486.7l4.9 2.2 0 17-4.9-2.2zM582.2 482.2l5 2.2 0 17-5-2.2zM795.9 547.2l4.9 2.2 0 17-4.9-2.2zM845.7 542.4l4.9 2.2 0 17-4.9-2.2zM606.9 493.4l5 2.2 0 17-5-2.2zM661.2 518l5 2.3 0 17-5-2.3zM597 488.9l5 2.3 0 17-5-2.3zM715.6 542.6l4.9 2.3 0 17-4.9-2.3zM694.9 537.8l4.9 2.3 0 17-4.9-2.3zM685 533.4l5 2.2 0 17-5-2.2zM675.2 528.9l4.9 2.2 0 17-4.9-2.2zM676 524.7l5 2.3 0 17-5-2.3zM768.5 548.4l4.9 2.3 0 17-4.9-2.3zM720.5 544.9l4.9 2.2 0 17-4.9-2.2zM699.8 540.1l5 2.2 0 17-5-2.2zM710.6 540.4l5 2.2 0 17-5-2.2zM690 535.6l4.9 2.2 0 17-4.9-2.2zM829.1 544l4.9 2.2 0 17-4.9-2.2zM518 453.1l5 2.3 0 17-5-2.3zM454.7 419.9l5 2.2 0 17-5-2.2zM812.5 545.6l4.9 2.2 0 17-4.9-2.2zM587.2 484.4l4.9 2.3 0 17-4.9-2.3zM577.3 480l4.9 2.2 0 17-4.9-2.2zM503.2 446.4l5 2.2 0 17-5-2.2zM459.7 422.1l4.9 2.3 0 17-4.9-2.3zM602 491.2l4.9 2.2 0 17-4.9-2.2z"/>
<path fill="#348d51" stroke="#348d51" d="M784.2 551l5.8-1.9 0 17-5.8 1.9zM823.3 545.9l5.8-1.9 0 17-5.8 1.9zM1173.2 431.2l5.8-1.9 0 17-5.8 1.9zM800.8 549.4l5.8-1.9 0 17-5.8 1.9zM978.9 502.6l5.9-1.9 0 17-5.9 1.9zM806.6 547.5l5.9-1.9 0 17-5.9 1.9zM725.4 547.1l5.9-1.9 0 17-5.9 1.9zM1167.3 433.2l5.9-2 0 17-5.9 2zM704.8 542.3l5.8-1.9 0 17-5.8 1.9zM1031.4 485.4l5.8-1.9 0 17-5.8 1.9zM762.7 550.3l5.8-1.9 0 17-5.8 1.9zM790 549.1l5.9-1.9 0 17-5.9 1.9zM973.1 504.5l5.8-1.9 0 17-5.8 1.9zM1174.1 427.1l5.8-1.9 0 17-5.8 1.9zM1037.2 483.5l5.9-1.9 0 17-5.9 1.9zM1166.4 437.3l5.9-1.9 0 17-5.9 1.9z"/>
<path fill="#1c6b4b" stroke="#1c6b4b" d="M656.3 515.8l4.9 2.2 0 17-4.9-2.2zM464.6 424.4l4.9 2.2 0 17-4.9-2.2zM488.4 439.7l4.9 2.2 0 17-4.9-2.2zM611.9 495.6l4.9 2.3 0 17-4.9-2.3z"/>
<path fill="#15654f" stroke="#15654f" d="M484.4 433.3l4.9 2.2 0 17-4.9-2.2zM479.4 431.1l5 2.2 0 17-5-2.2z"/>
<path fill="#1d7f5d" stroke="#1d7f5d" d="M1118.9 456.7l5.8-1.9 0 17-5.8 1.9z"/>
<path fill="#55983d" stroke="#55983d" d="M1008.1 493.1l5.8-2 0 17-5.8 2zM1002.3 495l5.8-1.9 0 17-5.8 1.9z"/>
<path fill="#155355" stroke="#155355" d="M646.4 511.3l5 2.2 0 17-5-2.2z"/>
<path fill="#18694d" stroke="#18694d" d="M474.5 428.8l4.9 2.3 0 17-4.9-2.3zM483.5 437.5l4.9 2.2 0 17-4.9-2.2zM469.5 426.6l5 2.2 0 17-5-2.2z"/>
<path fill="#2b0f40" stroke="#2b0f40" d="M636.5 506.8l5 2.3 0 17-5-2.3zM631.6 504.6l4.9 2.2 0 17-4.9-2.2z"/>
<path fill="#2b7442" stroke="#2b7442" d="M572.4 477.7l4.9 2.3 0 17-4.9-2.3zM671.1 522.5l4.9 2.2 0 17-4.9-2.2zM680.1 531.1l4.9 2.3 0 17-4.9-2.3zM747 547.8l4.9 2.2 0 17-4.9-2.2zM439.9 413.2l5 2.2 0 17-5-2.2zM757.7 548.1l5 2.2 0 17-5-2.2zM409.4 403.9l4.9 2.2 0 17-4.9-2.2zM430 408.7l5 2.2 0 17-5-2.2zM527.9 457.6l4.9 2.2 0 17-4.9-2.2zM420.2 404.2l4.9 2.2 0 17-4.9-2.2zM508.2 448.6l4.9 2.3 0 17-4.9-2.3zM736.2 547.4l4.9 2.3 0 17-4.9-2.3zM498.3 444.2l4.9 2.2 0 17-4.9-2.2zM444.9 415.4l4.9 2.2 0 17-4.9-2.2zM435 410.9l4.9 2.3 0 17-4.9-2.3zM513.1 450.9l4.9 2.2 0 17-4.9-2.2zM731.3 545.2l4.9 2.2 0 17-4.9-2.2zM449.8 417.6l4.9 2.3 0 17-4.9-2.3z"/>
<path fill="#126052" stroke="#126052" d="M890.6 535.4l4.9 2.3 0 17-4.9-2.3z"/>
<path fill="#187862" stroke="#187862" d="M895.5 537.7l5.8-2 0 17-5.8 2zM936.3 524.3l5.8-1.9 0 17-5.8 1.9zM1101.4 462.5l5.8-1.9 0 17-5.8 1.9zM1107.2 460.6l5.9-1.9 0 17-5.9 1.9zM1072.2 472l5.9-1.9 0 17-5.9 1.9z"/>
<path fill="#2b0a3b" stroke="#2b0a3b" d="M626.7 502.4l4.9 2.2 0 17-4.9-2.2z"/>
<path fill="#4d9543" stroke="#4d9543" d="M996.4 496.9l5.9-1.9 0 17-5.9 1.9zM1013.9 491.1l5.9-1.9 0 17-5.9 1.9zM1181.7 416.9l5.8-1.9 0 17-5.8 1.9z"/>
<path fill="#2e8a54" stroke="#2e8a54" d="M1060.6 475.9l5.8-2 0 17-5.8 2zM850.6 544.6l5.9-1.9 0 17-5.9 1.9zM1149 443l5.8-1.9 0 17-5.8 1.9zM1048.9 479.7l5.8-1.9 0 17-5.8 1.9zM1136.4 451l5.8-1.9 0 17-5.8 1.9zM1160.6 439.2l5.8-1.9 0 17-5.8 1.9zM966.4 510.6l5.8-1.9 0 17-5.8 1.9zM773.4 550.7l5.9-2 0 17-5.9 2zM1142.2 449.1l5.9-1.9 0 17-5.9 1.9zM856.5 542.7l5.8-1.9 0 17-5.8 1.9zM1154.8 441.1l5.8-1.9 0 17-5.8 1.9zM954.7 514.4l5.8-1.9 0 17-5.8 1.9zM1054.7 477.8l5.9-1.9 0 17-5.9 1.9zM834 546.2l5.9-1.9 0 17-5.9 1.9zM751.9 550l5.8-1.9 0 17-5.8 1.9zM1043.1 481.6l5.8-1.9 0 17-5.8 1.9zM972.2 508.7l5.8-1.9 0 17-5.8 1.9zM741.1 549.7l5.9-1.9 0 17-5.9 1.9zM1148.1 447.2l5.8-1.9 0 17-5.8 1.9zM960.5 512.5l5.9-1.9 0 17-5.9 1.9zM839.9 544.3l5.8-1.9 0 17-5.8 1.9zM817.4 547.8l5.9-1.9 0 17-5.9 1.9z"/>
<path fill="#278658" stroke="#278658" d="M873.1 541.2l5.8-2 0 17-5.8 2zM948.9 516.3l5.8-1.9 0 17-5.8 1.9zM867.2 543.1l5.9-1.9 0 17-5.9 1.9zM1130.6 452.9l5.8-1.9 0 17-5.8 1.9zM878.9 539.2l5.8-1.9 0 17-5.8 1.9zM943 518.2l5.9-1.9 0 17-5.9 1.9z"/>
<path fill="#145754" stroke="#145754" d="M616.8 497.9l4.9 2.2 0 17-4.9-2.2z"/>
<path fill="#1c5f68" stroke="#1c5f68" d="M1083.9 468.2l5.8-1.9 0 17-5.8 1.9zM901.3 535.7l5.9-1.9 0 17-5.9 1.9z"/>
<path fill="#1a7b60" stroke="#1a7b60" d="M1113.1 458.7l5.8-2 0 17-5.8 2z"/>
<path fill="#136350" stroke="#136350" d="M651.4 513.5l4.9 2.3 0 17-4.9-2.3z"/>
<path fill="#3c904d" stroke="#3c904d" d="M1178.5 406.4l5.9-2 0 17-5.9 2zM990.6 498.8l5.8-1.9 0 17-5.8 1.9zM1019.8 489.2l5.8-1.9 0 17-5.8 1.9zM414.3 406.1l5.9-1.9 0 17-5.9 1.9zM984.8 500.7l5.8-1.9 0 17-5.8 1.9zM1025.6 487.3l5.8-1.9 0 17-5.8 1.9zM1179.9 425.2l5.8-1.9 0 17-5.8 1.9z"/>
<path fill="#223554" stroke="#223554" d="M641.5 509.1l4.9 2.2 0 17-4.9-2.2z"/>
<path fill="#22835b" stroke="#22835b" d="M1124.7 454.8l5.9-1.9 0 17-5.9 1.9zM942.1 522.4l5.9-1.9 0 17-5.9 1.9zM884.7 537.3l5.9-1.9 0 17-5.9 1.9zM1066.4 473.9l5.8-1.9 0 17-5.8 1.9z"/>
<path fill="#31763f" stroke="#31763f" d="M404.5 401.6l4.9 2.3 0 17-4.9-2.3zM405.4 397.5l4.9 2.2 0 17-4.9-2.2zM562.5 473.3l4.9 2.2 0 17-4.9-2.2zM425.1 406.4l4.9 2.3 0 17-4.9-2.3zM523 455.4l4.9 2.2 0 17-4.9-2.2zM567.4 475.5l5 2.2 0 17-5-2.2zM557.5 471l5 2.3 0 17-5-2.3z"/>
<path fill="#206e48" stroke="#206e48" d="M666.2 520.3l4.9 2.2 0 17-4.9-2.2zM862.3 540.8l4.9 2.3 0 17-4.9-2.3zM493.3 441.9l5 2.3 0 17-5-2.3z"/>
<path fill="#35124e" stroke="#35124e" d="M918.8 530l5.9-1.9 0 17-5.9 1.9z"/>
<path fill="#2d3764" stroke="#2d3764" d="M907.2 533.8l5.8-1.9 0 17-5.8 1.9z"/>
<path fill="#167463" stroke="#167463" d="M1095.6 464.4l5.8-1.9 0 17-5.8 1.9z"/>
<path fill="#467d32" stroke="#467d32" d="M552.6 468.8l4.9 2.2 0 17-4.9-2.2zM537.8 462.1l4.9 2.2 0 17-4.9-2.2z"/>
<path fill="#4f7f2d" stroke="#4f7f2d" d="M542.7 464.3l5 2.2 0 17-5-2.2zM547.7 466.5l4.9 2.3 0 17-4.9-2.3z"/>
<path fill="#351b56" stroke="#351b56" d="M924.7 528.1l5.8-1.9 0 17-5.8 1.9z"/>
<path fill="#38793b" stroke="#38793b" d="M532.8 459.8l5 2.3 0 17-5-2.3z"/>
<path fill="#186a66" stroke="#186a66" d="M1089.7 466.3l5.9-1.9 0 17-5.9 1.9z"/>
<path fill="#351652" stroke="#351652" d="M913 531.9l5.8-1.9 0 17-5.8 1.9z"/>
<path fill="#459347" stroke="#459347" d="M1180.8 421l5.8-1.9 0 17-5.8 1.9zM1182.6 412.7l5.8-1.9 0 17-5.8 1.9z"/>
<path fill="#196567" stroke="#196567" d="M1078.1 470.1l5.8-1.9 0 17-5.8 1.9z"/>
<path fill="#1f3b55" stroke="#1f3b55" d="M621.7 500.1l5 2.3 0 17-5-2.3z"/>
<path fill="#1f5768" stroke="#1f5768" d="M930.5 526.2l5.8-1.9 0 17-5.8 1.9z"/>
<path fill="#1d947f" stroke="#1d947f" d="M895.5 537.7l5.8-2-4.9-2.2-5.8 1.9z"/>
<path fill="#257384" stroke="#257384" d="M901.3 535.7l5.9-1.9-5-2.2-5.8 1.9z"/>
<path fill="#403579" stroke="#403579" d="M907.2 533.8l5.8-1.9-5-2.2-5.8 1.9z"/>
<path fill="#410755" stroke="#410755" d="M913 531.9l11.7-3.8-5-2.2-11.7 3.8zM908 529.7l17.5-5.7-4.9-2.3-17.5 5.8zM641.5 509.1l5.8-1.9-4.9-2.3-5.9 1.9zM636.5 506.8l5.9-1.9-5-2.2-5.8 1.9z"/>
<path fill="#431763" stroke="#431763" d="M924.7 528.1l5.8-1.9-5-2.2-5.8 1.9z"/>
<path fill="#2b6584" stroke="#2b6584" d="M930.5 526.2l5.8-1.9-4.9-2.3-5.9 2z"/>
<path fill="#1c8f80" stroke="#1c8f80" d="M936.3 524.3l5.8-1.9-4.9-2.3-5.8 1.9z"/>
<path fill="#2ba674" stroke="#2ba674" d="M942.1 522.4l5.9-1.9-5-2.3-5.8 1.9zM873.1 541.2l11.6-3.9-4.9-2.2-11.7 3.8zM874 537l5.8-1.9-5-2.2-5.8 1.9zM666.2 520.3l5.8-2-4.9-2.2-5.9 1.9z"/>
<path fill="#31aa70" stroke="#31aa70" d="M867.2 543.1l5.9-1.9-5-2.3-5.8 1.9zM954.7 514.4l5.8-1.9-4.9-2.2-5.8 1.9zM850.6 544.6l23.4-7.6-5-2.2-23.3 7.6zM1142.2 449.1l11.7-3.8-4.9-2.3-11.7 3.9zM834 546.2l35-11.4-4.9-2.3-35 11.5zM834.9 542.1l17.5-5.7-4.9-2.3-17.5 5.7zM699.8 540.1l5.9-1.9-5-2.3-5.8 1.9zM694.9 537.8l5.8-1.9-4.9-2.2-5.8 1.9zM690 535.6l11.6-3.8-4.9-2.3-11.7 3.9zM685 533.4l11.7-3.9-4.9-2.2-11.7 3.8zM680.1 531.1l11.7-3.8-5-2.2-11.6 3.8zM681 527l5.8-1.9-4.9-2.3-5.9 1.9zM676 524.7l5.9-1.9-5-2.2-5.8 1.9zM671.1 522.5l5.8-1.9-4.9-2.3-5.8 2z"/>
<path fill="#25a277" stroke="#25a277" d="M884.7 537.3l5.9-1.9-5-2.2-5.8 1.9zM879.8 535.1l5.8-1.9-4.9-2.3-5.9 2zM661.2 518l5.9-1.9-5-2.2-5.8 1.9z"/>
<path fill="#1e997d" stroke="#1e997d" d="M890.6 535.4l5.8-1.9-5-2.2-5.8 1.9zM656.3 515.8l5.8-1.9-4.9-2.3-5.8 1.9z"/>
<path fill="#208183" stroke="#208183" d="M896.4 533.5l5.8-1.9-4.9-2.2-5.9 1.9z"/>
<path fill="#345182" stroke="#345182" d="M902.2 531.6l5.8-1.9-4.9-2.2-5.8 1.9z"/>
<path fill="#3aaf6b" stroke="#3aaf6b" d="M960.5 512.5l11.7-3.8-4.9-2.3-11.7 3.9zM1166.4 437.3l5.9-1.9-5-2.2-5.8 1.9zM817.4 547.8l17.5-5.7-4.9-2.3-17.5 5.8zM800.8 549.4l35-11.5-4.9-2.2-35 11.5zM784.2 551l5.8-1.9-4.9-2.3-5.8 1.9zM813.4 541.4l5.8-1.9-4.9-2.2-5.9 1.9zM741.1 549.7l5.9-1.9-5-2.3-5.8 1.9zM736.2 547.4l5.8-1.9-4.9-2.2-5.8 1.9zM725.4 547.1l5.9-1.9-5-2.2-5.8 1.9zM720.5 544.9l5.8-1.9-4.9-2.3-5.8 1.9zM715.6 542.6l5.8-1.9-5-2.2-5.8 1.9zM704.8 542.3l17.5-5.7-5-2.3-17.5 5.8zM705.7 538.2l11.6-3.9-4.9-2.2-11.7 3.8zM700.7 535.9l5.9-1.9-5-2.2-5.8 1.9z"/>
<path fill="#43b367" stroke="#43b367" d="M972.2 508.7l5.8-1.9-4.9-2.3-5.8 1.9zM790 549.1l23.4-7.7-5-2.2-23.3 7.6zM773.4 550.7l29.2-9.6-4.9-2.2-29.2 9.5zM762.7 550.3l11.6-3.8-4.9-2.2-11.7 3.8zM751.9 550l11.7-3.8-5-2.3-11.6 3.9zM747 547.8l11.6-3.9-4.9-2.2-11.7 3.8zM742 545.5l5.9-1.9-5-2.2-5.8 1.9zM731.3 545.2l11.6-3.8-4.9-2.3-11.7 3.9zM726.3 543l11.7-3.9-5-2.2-11.6 3.8zM721.4 540.7l5.8-1.9-4.9-2.2-5.9 1.9z"/>
<path fill="#219d7a" stroke="#219d7a" d="M885.6 533.2l5.8-1.9-4.9-2.3-5.8 1.9z"/>
<path fill="#1d8b82" stroke="#1d8b82" d="M891.4 531.3l5.9-1.9-5-2.3-5.8 1.9z"/>
<path fill="#4cb762" stroke="#4cb762" d="M1173.2 431.2l5.8-1.9-4.9-2.2-5.9 1.9zM774.3 546.5l11.7-3.8-4.9-2.3-11.7 3.9zM763.6 546.2l11.6-3.8-4.9-2.3-11.7 3.8zM758.6 543.9l5.9-1.9-5-2.2-5.8 1.9zM747.9 543.6l5.8-1.9-4.9-2.2-5.9 1.9z"/>
<path fill="#58bb5b" stroke="#58bb5b" d="M1174.1 427.1l11.6-3.8-4.9-2.3-11.7 3.9zM1178.5 406.4l5.9-2-5-2.2-5.8 1.9zM1173.6 404.1l5.8-1.9-4.9-2.2-5.8 1.9z"/>
<path fill="#6dc24e" stroke="#6dc24e" d="M1180.8 421l5.8-1.9-4.9-2.2-5.8 1.9z"/>
<path fill="#86c83e" stroke="#86c83e" d="M1181.7 416.9l5.8-1.9-4.9-2.3-5.9 2z"/>
<path fill="#7ac546" stroke="#7ac546" d="M1182.6 412.7l5.8-1.9-4.9-2.2-5.9 1.9zM410.3 399.7l5.8-1.9-4.9-2.2-5.8 1.9z"/>
<path fill="#227d84" stroke="#227d84" d="M651.4 513.5l5.8-1.9-4.9-2.2-5.9 1.9z"/>
<path fill="#394680" stroke="#394680" d="M646.4 511.3l5.9-1.9-5-2.2-5.8 1.9z"/>
<path fill="#62be55" stroke="#62be55" d="M414.3 406.1l5.9-1.9-5-2.2-5.8 1.9zM409.4 403.9l5.8-1.9-4.9-2.3-5.8 1.9z"/>
<path fill="#206e48" stroke="#206e48" d="M864.1 519.5l4.9 2.3 0 13-4.9-2.3zM662.1 500.9l5 2.2 0 13-5-2.2zM667.1 503.1l4.9 2.2 0 13-4.9-2.2zM493.3 428.9l5 2.3 0 13-5-2.3zM488.4 426.7l4.9 2.2 0 13-4.9-2.2zM459.7 409.1l4.9 2.3 0 13-4.9-2.3zM602 478.2l4.9 2.2 0 13-4.9-2.2z"/>
<path fill="#2e8a54" stroke="#2e8a54" d="M869 521.8l5.8-1.9 0 13-5.8 1.9zM1060.6 462.9l5.8-2 0 13-5.8 2zM1149 430l5.8-1.9 0 13-5.8 1.9zM1048.9 466.7l5.8-1.9 0 13-5.8 1.9zM1136.4 438l5.8-1.9 0 13-5.8 1.9zM1137.3 433.9l5.8-1.9 0 13-5.8 1.9zM948.9 503.3l5.8-1.9 0 13-5.8 1.9zM841.6 523l5.9-1.9 0 13-5.9 1.9zM819.2 526.5l5.8-1.9 0 13-5.8 1.9zM1054.7 464.8l5.9-1.9 0 13-5.9 1.9zM1143.1 432l5.9-2 0 13-5.9 2zM706.6 521l5.8-1.9 0 13-5.8 1.9zM825 524.6l5.9-1.9 0 13-5.9 1.9zM802.6 528.1l5.8-1.9 0 13-5.8 1.9zM949.8 499.2l5.8-1.9 0 13-5.8 1.9zM967.3 493.4l5.8-1.9 0 13-5.8 1.9zM955.6 497.3l5.8-2 0 13-5.8 2zM858.2 521.4l5.9-1.9 0 13-5.9 1.9z"/>
<path fill="#267145" stroke="#267145" d="M830.9 522.7l4.9 2.2 0 13-4.9-2.2zM592.1 473.7l4.9 2.2 0 13-4.9-2.2zM582.2 469.2l5 2.2 0 13-5-2.2zM676.9 507.6l5 2.2 0 13-5-2.2zM701.6 518.8l5 2.2 0 13-5-2.2zM430 395.7l5 2.2 0 13-5-2.2zM691.8 514.3l4.9 2.2 0 13-4.9-2.2zM681.9 509.8l4.9 2.3 0 13-4.9-2.3zM508.2 435.6l4.9 2.3 0 13-4.9-2.3zM672 505.3l4.9 2.3 0 13-4.9-2.3zM498.3 431.2l4.9 2.2 0 13-4.9-2.2zM847.5 521.1l4.9 2.3 0 13-4.9-2.3zM696.7 516.5l4.9 2.3 0 13-4.9-2.3zM577.3 467l4.9 2.2 0 13-4.9-2.2zM503.2 433.4l5 2.2 0 13-5-2.2z"/>
<path fill="#348d51" stroke="#348d51" d="M835.8 524.9l5.8-1.9 0 13-5.8 1.9zM1161.5 422.1l5.8-1.9 0 13-5.8 1.9zM1160.6 426.2l5.8-1.9 0 13-5.8 1.9zM978.9 489.6l5.9-1.9 0 13-5.9 1.9zM727.2 525.8l5.8-1.9 0 13-5.8 1.9zM1167.3 420.2l5.9-2 0 13-5.9 2zM1031.4 472.4l5.8-1.9 0 13-5.8 1.9zM1154.8 428.1l5.8-1.9 0 13-5.8 1.9zM775.2 529.4l5.9-2 0 13-5.9 2zM1043.1 468.6l5.8-1.9 0 13-5.8 1.9zM961.4 495.3l5.9-1.9 0 13-5.9 1.9zM742.9 528.4l5.9-1.9 0 13-5.9 1.9zM984.8 487.7l5.8-1.9 0 13-5.8 1.9zM973.1 491.5l5.8-1.9 0 13-5.8 1.9zM1037.2 470.5l5.9-1.9 0 13-5.9 1.9zM1168.2 416l5.9-1.9 0 13-5.9 1.9zM808.4 526.2l5.9-1.9 0 13-5.9 1.9zM786 529.7l5.8-1.9 0 13-5.8 1.9z"/>
<path fill="#15654f" stroke="#15654f" d="M484.4 420.3l4.9 2.2 0 13-4.9-2.2zM479.4 418.1l5 2.2 0 13-5-2.2z"/>
<path fill="#1d7f5d" stroke="#1d7f5d" d="M1118.9 443.7l5.8-1.9 0 13-5.8 1.9zM1113.1 445.7l5.8-2 0 13-5.8 2zM937.2 507.1l5.8-1.9 0 13-5.8 1.9z"/>
<path fill="#55983d" stroke="#55983d" d="M1008.1 480.1l5.8-2 0 13-5.8 2zM996.4 483.9l5.9-1.9 0 13-5.9 1.9zM1002.3 482l5.8-1.9 0 13-5.8 1.9z"/>
<path fill="#2b7442" stroke="#2b7442" d="M748.8 526.5l4.9 2.2 0 13-4.9-2.2zM572.4 464.7l4.9 2.3 0 13-4.9-2.3zM717.3 521.3l5 2.3 0 13-5-2.3zM597 475.9l5 2.3 0 13-5-2.3zM814.3 524.3l4.9 2.2 0 13-4.9-2.2zM722.3 523.6l4.9 2.2 0 13-4.9-2.2zM686.8 512.1l5 2.2 0 13-5-2.2zM733 523.9l5 2.2 0 13-5-2.2zM439.9 400.2l5 2.2 0 13-5-2.2zM527.9 444.6l4.9 2.2 0 13-4.9-2.2zM738 526.1l4.9 2.3 0 13-4.9-2.3zM518 440.1l5 2.3 0 13-5-2.3zM797.7 525.9l4.9 2.2 0 13-4.9-2.2zM454.7 406.9l5 2.2 0 13-5-2.2zM444.9 402.4l4.9 2.2 0 13-4.9-2.2zM587.2 471.4l4.9 2.3 0 13-4.9-2.3zM523 442.4l4.9 2.2 0 13-4.9-2.2zM513.1 437.9l4.9 2.2 0 13-4.9-2.2zM449.8 404.6l4.9 2.3 0 13-4.9-2.3zM781.1 527.5l4.9 2.3 0 13-4.9-2.3zM712.4 519.1l4.9 2.2 0 13-4.9-2.2z"/>
<path fill="#3c904d" stroke="#3c904d" d="M753.7 528.7l5.8-1.9 0 13-5.8 1.9zM764.5 529l5.8-1.9 0 13-5.8 1.9zM1175 409.9l5.8-1.9 0 13-5.8 1.9zM791.8 527.8l5.9-1.9 0 13-5.9 1.9zM1025.6 474.3l5.8-1.9 0 13-5.8 1.9zM1169.1 411.9l5.9-2 0 13-5.9 2z"/>
<path fill="#176d66" stroke="#176d66" d="M931.4 509l5.8-1.9 0 13-5.8 1.9z"/>
<path fill="#18694d" stroke="#18694d" d="M474.5 415.8l4.9 2.3 0 13-4.9-2.3zM657.2 498.6l4.9 2.3 0 13-4.9-2.3zM483.5 424.5l4.9 2.2 0 13-4.9-2.2zM469.5 413.6l5 2.2 0 13-5-2.2zM611.9 482.6l4.9 2.3 0 13-4.9-2.3z"/>
<path fill="#31763f" stroke="#31763f" d="M759.5 526.8l5 2.2 0 13-5-2.2zM770.3 527.1l4.9 2.3 0 13-4.9-2.3zM420.2 391.2l4.9 2.2 0 13-4.9-2.2zM562.5 460.3l4.9 2.2 0 13-4.9-2.2zM435 397.9l4.9 2.3 0 13-4.9-2.3zM425.1 393.4l4.9 2.3 0 13-4.9-2.3zM415.2 389l5 2.2 0 13-5-2.2zM567.4 462.5l5 2.2 0 13-5-2.2z"/>
<path fill="#2b0a3b" stroke="#2b0a3b" d="M626.7 489.4l4.9 2.2 0 13-4.9-2.2z"/>
<path fill="#35124e" stroke="#35124e" d="M631.6 491.6l5.8-1.9 0 13-5.8 1.9z"/>
<path fill="#467d32" stroke="#467d32" d="M411.2 382.6l4.9 2.2 0 13-4.9-2.2z"/>
<path fill="#145754" stroke="#145754" d="M616.8 484.9l4.9 2.2 0 13-4.9-2.2z"/>
<path fill="#1c5f68" stroke="#1c5f68" d="M1083.9 455.2l5.8-1.9 0 13-5.8 1.9z"/>
<path fill="#1c6b4b" stroke="#1c6b4b" d="M606.9 480.4l5 2.2 0 13-5-2.2zM464.6 411.4l4.9 2.2 0 13-4.9-2.2z"/>
<path fill="#459347" stroke="#459347" d="M1177.6 397.5l5.9-1.9 0 13-5.9 1.9zM990.6 485.8l5.8-1.9 0 13-5.8 1.9zM1019.8 476.2l5.8-1.9 0 13-5.8 1.9z"/>
<path fill="#187862" stroke="#187862" d="M1101.4 449.5l5.8-1.9 0 13-5.8 1.9zM1107.2 447.6l5.9-1.9 0 13-5.9 1.9z"/>
<path fill="#278658" stroke="#278658" d="M1124.7 441.8l5.9-1.9 0 13-5.9 1.9zM852.4 523.4l5.8-2 0 13-5.8 2zM1130.6 439.9l5.8-1.9 0 13-5.8 1.9zM943 505.2l5.9-1.9 0 13-5.9 1.9z"/>
<path fill="#4d9543" stroke="#4d9543" d="M1013.9 478.1l5.9-1.9 0 13-5.9 1.9z"/>
<path fill="#126052" stroke="#126052" d="M652.3 496.4l4.9 2.2 0 13-4.9-2.2z"/>
<path fill="#29224e" stroke="#29224e" d="M642.4 491.9l4.9 2.3 0 13-4.9-2.3z"/>
<path fill="#340c48" stroke="#340c48" d="M908.9 512.5l5.9-1.9 0 13-5.9 1.9zM914.8 510.6l5.8-1.9 0 13-5.8 1.9z"/>
<path fill="#1a4555" stroke="#1a4555" d="M647.3 494.2l5 2.2 0 13-5-2.2zM892.3 514.1l5 2.3 0 13-5-2.3z"/>
<path fill="#1a7b60" stroke="#1a7b60" d="M886.5 516l5.8-1.9 0 13-5.8 1.9z"/>
<path fill="#2b0f40" stroke="#2b0f40" d="M637.4 489.7l5 2.2 0 13-5-2.2z"/>
<path fill="#1f5768" stroke="#1f5768" d="M897.3 516.4l5.8-1.9 0 13-5.8 1.9z"/>
<path fill="#167463" stroke="#167463" d="M1072.2 459l5.9-1.9 0 13-5.9 1.9zM1095.6 451.4l5.8-1.9 0 13-5.8 1.9z"/>
<path fill="#22835b" stroke="#22835b" d="M874.8 519.9l5.9-2 0 13-5.9 2zM880.7 517.9l5.8-1.9 0 13-5.8 1.9zM1066.4 460.9l5.8-1.9 0 13-5.8 1.9z"/>
<path fill="#38793b" stroke="#38793b" d="M410.3 386.7l4.9 2.3 0 13-4.9-2.3zM532.8 446.8l5 2.3 0 13-5-2.3zM557.5 458l5 2.3 0 13-5-2.3z"/>
<path fill="#609b37" stroke="#609b37" d="M1175.9 405.8l5.8-1.9 0 13-5.8 1.9zM1176.7 401.7l5.9-2 0 13-5.9 2z"/>
<path fill="#4f7f2d" stroke="#4f7f2d" d="M552.6 455.8l4.9 2.2 0 13-4.9-2.2zM542.7 451.3l5 2.2 0 13-5-2.2zM547.7 453.5l4.9 2.3 0 13-4.9-2.3z"/>
<path fill="#203854" stroke="#203854" d="M920.6 508.7l4.9 2.3 0 13-4.9-2.3z"/>
<path fill="#274467" stroke="#274467" d="M925.5 511l5.9-2 0 13-5.9 2z"/>
<path fill="#186a66" stroke="#186a66" d="M1089.7 453.3l5.9-1.9 0 13-5.9 1.9z"/>
<path fill="#34215a" stroke="#34215a" d="M903.1 514.5l5.8-2 0 13-5.8 2z"/>
<path fill="#1a6267" stroke="#1a6267" d="M1078.1 457.1l5.8-1.9 0 13-5.8 1.9z"/>
<path fill="#223554" stroke="#223554" d="M621.7 487.1l5 2.3 0 13-5-2.3z"/>
<path fill="#3f7b37" stroke="#3f7b37" d="M537.8 449.1l4.9 2.2 0 13-4.9-2.2z"/>
<path fill="#345182" stroke="#345182" d="M925.5 511l5.9-2-5-2.2-5.8 1.9z"/>
<path fill="#1e8683" stroke="#1e8683" d="M931.4 509l5.8-1.9-4.9-2.2-5.9 1.9zM887.4 511.9l5.8-1.9-4.9-2.3-5.8 1.9z"/>
<path fill="#25a277" stroke="#25a277" d="M937.2 507.1l5.8-1.9-4.9-2.2-5.8 1.9zM1124.7 441.8l5.9-1.9-5-2.2-5.8 1.9zM880.7 517.9l5.8-1.9-4.9-2.2-5.9 1.9zM875.7 515.7l5.9-1.9-5-2.2-5.8 1.9z"/>
<path fill="#31aa70" stroke="#31aa70" d="M943 505.2l11.7-3.8-4.9-2.2-11.7 3.8zM1136.4 438l5.8-1.9-4.9-2.2-5.8 1.9zM852.4 523.4l17.5-5.8-4.9-2.2-17.5 5.7zM841.6 523l23.4-7.6-5-2.3-23.3 7.7zM842.5 518.9l11.7-3.8-4.9-2.3-11.7 3.8zM691.8 514.3l5.8-1.9-5-2.3-5.8 2zM686.8 512.1l11.7-3.9-5-2.2-11.6 3.8zM681.9 509.8l5.8-1.9-4.9-2.2-5.9 1.9zM676.9 507.6l5.9-1.9-5-2.3-5.8 1.9zM672 505.3l5.8-1.9-4.9-2.2-5.8 1.9z"/>
<path fill="#296a84" stroke="#296a84" d="M897.3 516.4l5.8-1.9-4.9-2.3-5.9 1.9z"/>
<path fill="#43236d" stroke="#43236d" d="M903.1 514.5l5.8-2-4.9-2.2-5.8 1.9z"/>
<path fill="#410755" stroke="#410755" d="M908.9 512.5l11.7-3.8-4.9-2.2-11.7 3.8zM904 510.3l11.7-3.8-5-2.3-11.6 3.9zM631.6 491.6l5.8-1.9-4.9-2.3-5.8 2z"/>
<path fill="#403579" stroke="#403579" d="M920.6 508.7l5.8-1.9-4.9-2.2-5.8 1.9z"/>
<path fill="#237884" stroke="#237884" d="M926.4 506.8l5.9-1.9-5-2.2-5.8 1.9zM892.3 514.1l5.9-1.9-5-2.2-5.8 1.9z"/>
<path fill="#2ba674" stroke="#2ba674" d="M1130.6 439.9l5.8-1.9-4.9-2.2-5.9 1.9zM869 521.8l11.7-3.9-5-2.2-11.6 3.8zM869.9 517.6l5.8-1.9-4.9-2.2-5.8 1.9zM865 515.4l5.8-1.9-4.9-2.3-5.9 1.9zM667.1 503.1l5.8-1.9-4.9-2.2-5.9 1.9z"/>
<path fill="#1d947f" stroke="#1d947f" d="M886.5 516l5.8-1.9-4.9-2.2-5.8 1.9z"/>
<path fill="#3b417e" stroke="#3b417e" d="M898.2 512.2l5.8-1.9-4.9-2.2-5.9 1.9z"/>
<path fill="#431d68" stroke="#431d68" d="M915.7 506.5l5.8-1.9-4.9-2.3-5.9 1.9z"/>
<path fill="#3aaf6b" stroke="#3aaf6b" d="M1154.8 428.1l11.6-3.8-4.9-2.2-11.7 3.8zM835.8 524.9l5.8-1.9-4.9-2.2-5.8 1.9zM819.2 526.5l23.3-7.6-4.9-2.3-23.3 7.7zM825.9 520.5l11.7-3.9-4.9-2.2-11.7 3.8zM706.6 521l11.6-3.8-4.9-2.2-11.7 3.8zM701.6 518.8l17.5-5.8-4.9-2.2-17.5 5.7zM696.7 516.5l11.7-3.8-5-2.2-11.6 3.8zM697.6 512.4l5.8-1.9-4.9-2.3-5.9 1.9z"/>
<path fill="#1e997d" stroke="#1e997d" d="M881.6 513.8l5.8-1.9-4.9-2.3-5.9 2z"/>
<path fill="#305b83" stroke="#305b83" d="M893.2 510l5.9-1.9-5-2.3-5.8 1.9z"/>
<path fill="#43b367" stroke="#43b367" d="M1161.5 422.1l11.7-3.9-5-2.2-11.6 3.8zM802.6 528.1l23.3-7.6-4.9-2.3-23.3 7.7zM809.3 522l11.7-3.8-4.9-2.2-11.7 3.8zM727.2 525.8l5.8-1.9-4.9-2.2-5.8 1.9zM1153 386.3l5.8-1.9-5-2.2-5.8 1.9zM722.3 523.6l5.8-1.9-4.9-2.3-5.9 1.9zM717.3 521.3l11.7-3.8-4.9-2.2-11.7 3.8zM718.2 517.2l5.9-1.9-5-2.3-5.8 2z"/>
<path fill="#58bb5b" stroke="#58bb5b" d="M1168.2 416l5.9-1.9-5-2.2-5.8 1.9zM775.2 529.4l29.2-9.6-4.9-2.2-29.2 9.5zM764.5 529l5.8-1.9-4.9-2.2-5.9 1.9zM753.7 528.7l5.8-1.9-4.9-2.2-5.8 1.9zM748.8 526.5l5.8-1.9-5-2.3-5.8 1.9zM1162.8 390.8l5.9-1.9-5-2.3-5.8 2zM743.8 524.2l5.8-1.9-4.9-2.2-5.8 1.9zM738.9 522l5.8-1.9-4.9-2.3-5.9 2zM733.9 519.8l5.9-2-5-2.2-5.8 1.9zM430 395.7l5.9-1.9-5-2.3-5.8 1.9z"/>
<path fill="#62be55" stroke="#62be55" d="M1169.1 411.9l5.9-2-5-2.2-5.8 1.9zM770.3 527.1l17.5-5.7-4.9-2.2-17.5 5.7zM759.5 526.8l5.9-1.9-5-2.3-5.8 2zM1167.8 393l5.8-1.9-4.9-2.2-5.9 1.9zM754.6 524.6l5.8-2-4.9-2.2-5.9 1.9zM749.6 522.3l5.9-1.9-5-2.2-5.8 1.9zM425.1 393.4l5.8-1.9-4.9-2.2-5.8 1.9z"/>
<path fill="#6dc24e" stroke="#6dc24e" d="M1175 409.9l5.8-1.9-4.9-2.2-5.9 1.9zM1177.6 397.5l5.9-1.9-5-2.2-5.8 1.9zM1172.7 395.3l5.8-1.9-4.9-2.3-5.8 1.9zM765.4 524.9l5.8-1.9-4.9-2.3-5.9 1.9zM420.2 391.2l5.8-1.9-4.9-2.2-5.9 1.9z"/>
<path fill="#92ca37" stroke="#92ca37" d="M1170 407.7l11.7-3.8-5-2.2-11.6 3.8zM1176.7 401.7l5.9-2-5-2.2-5.8 1.9zM416.1 384.8l5.9-1.9-5-2.2-5.8 1.9z"/>
<path fill="#4cb762" stroke="#4cb762" d="M786 529.7l23.3-7.7-4.9-2.2-23.3 7.6zM742.9 528.4l5.9-1.9-5-2.3-5.8 1.9zM738 526.1l5.8-1.9-4.9-2.2-5.9 1.9zM1157.9 388.6l5.8-2-4.9-2.2-5.8 1.9zM733 523.9l5.9-1.9-5-2.2-5.8 1.9zM728.1 521.7l5.8-1.9-4.9-2.3-5.8 1.9z"/>
<path fill="#7ac546" stroke="#7ac546" d="M771.2 523l5.8-1.9-4.9-2.3-5.8 1.9zM760.4 522.6l5.9-1.9-5-2.2-5.8 1.9zM415.2 389l5.9-1.9-5-2.3-5.8 1.9z"/>
<path fill="#219d7a" stroke="#219d7a" d="M662.1 500.9l5.9-1.9-5-2.3-5.8 1.9z"/>
<path fill="#adcf25" stroke="#adcf25" d="M422 382.9l5.8-1.9-5-2.2-5.8 1.9z"/>
<path fill="#a1cd2d" stroke="#a1cd2d" d="M427.8 381l5.8-1.9-4.9-2.3-5.9 2z"/>
<path fill="#86c83e" stroke="#86c83e" d="M433.6 379.1l5.8-1.9-4.9-2.3-5.8 1.9z"/>
<path fill="#267145" stroke="#267145" d="M493.3 413.9l5 2.3 0 15-5-2.3zM849.3 497.8l4.9 2.3 0 15-4.9-2.3zM592.1 458.7l4.9 2.2 0 15-4.9-2.2zM693.5 491l5 2.2 0 15-5-2.2zM587.2 456.4l4.9 2.3 0 15-4.9-2.3zM682.8 490.7l4.9 2.2 0 15-4.9-2.2zM816.1 501l4.9 2.2 0 15-4.9-2.2zM518 425.1l5 2.3 0 15-5-2.3zM677.8 488.4l5 2.3 0 15-5-2.3zM459.7 394.1l4.9 2.3 0 15-4.9-2.3zM724.1 500.3l4.9 2.2 0 15-4.9-2.2zM449.8 389.6l4.9 2.3 0 15-4.9-2.3zM498.3 416.2l4.9 2.2 0 15-4.9-2.2zM454.7 391.9l5 2.2 0 15-5-2.2z"/>
<path fill="#2e8a54" stroke="#2e8a54" d="M1155.7 409l5.8-1.9 0 15-5.8 1.9zM854.2 500.1l5.8-2 0 15-5.8 2zM1125.6 422.7l5.9-1.9 0 15-5.9 1.9zM1143.1 417l5.9-2 0 15-5.9 2zM708.4 497.7l5.8-1.9 0 15-5.8 1.9zM1131.5 420.8l5.8-1.9 0 15-5.8 1.9zM837.6 501.6l5.8-1.9 0 15-5.8 1.9zM687.7 492.9l5.8-1.9 0 15-5.8 1.9zM821 503.2l5.8-1.9 0 15-5.8 1.9zM1060.6 447.9l5.8-2 0 15-5.8 2zM967.3 478.4l5.8-1.9 0 15-5.8 1.9zM1048.9 451.7l5.8-1.9 0 15-5.8 1.9zM955.6 482.3l5.8-2 0 15-5.8 2zM1156.6 404.8l5.8-1.9 0 15-5.8 1.9zM1054.7 449.8l5.9-1.9 0 15-5.9 1.9zM943.9 486.1l5.9-1.9 0 15-5.9 1.9zM843.4 499.7l5.9-1.9 0 15-5.9 1.9zM860 498.1l5.9-1.9 0 15-5.9 1.9zM1137.3 418.9l5.8-1.9 0 15-5.8 1.9z"/>
<path fill="#4f7f2d" stroke="#4f7f2d" d="M542.7 436.3l5 2.2 0 15-5-2.2zM547.7 438.5l4.9 2.3 0 15-4.9-2.3z"/>
<path fill="#31763f" stroke="#31763f" d="M434.5 359.9l4.9 2.3 0 15-4.9-2.3zM523 427.4l4.9 2.2 0 15-4.9-2.2zM739.8 502.8l4.9 2.3 0 15-4.9-2.3zM562.5 445.3l4.9 2.2 0 15-4.9-2.2zM734.8 500.6l5 2.2 0 15-5-2.2zM430.9 376.5l5 2.3 0 15-5-2.3zM782.9 504.2l4.9 2.2 0 15-4.9-2.2z"/>
<path fill="#55983d" stroke="#55983d" d="M1002.3 467l5.8-1.9 0 15-5.8 1.9zM766.3 505.7l5.8-1.9 0 15-5.8 1.9zM1008.1 465.1l5.8-2 0 15-5.8 2zM1013.9 463.1l5.9-1.9 0 15-5.9 1.9zM1171.8 384.4l5.8-1.9 0 15-5.8 1.9z"/>
<path fill="#38793b" stroke="#38793b" d="M426 374.3l4.9 2.2 0 15-4.9-2.2zM532.8 431.8l5 2.3 0 15-5-2.3zM750.5 503.2l5 2.2 0 15-5-2.2zM557.5 443l5 2.3 0 15-5-2.3z"/>
<path fill="#459347" stroke="#459347" d="M1019.8 461.2l5.8-1.9 0 15-5.8 1.9zM1164.2 394.6l5.8-1.9 0 15-5.8 1.9z"/>
<path fill="#467d32" stroke="#467d32" d="M761.3 503.5l5 2.2 0 15-5-2.2zM416.1 369.8l5 2.3 0 15-5-2.3zM552.6 440.8l4.9 2.2 0 15-4.9-2.2zM537.8 434.1l4.9 2.2 0 15-4.9-2.2z"/>
<path fill="#2b7442" stroke="#2b7442" d="M703.4 495.5l5 2.2 0 15-5-2.2zM435 382.9l4.9 2.3 0 15-4.9-2.3zM582.2 454.2l5 2.2 0 15-5-2.2zM439.9 385.2l5 2.2 0 15-5-2.2zM572.4 449.7l4.9 2.3 0 15-4.9-2.3zM698.5 493.2l4.9 2.3 0 15-4.9-2.3zM832.7 499.4l4.9 2.2 0 15-4.9-2.2zM430 380.7l5 2.2 0 15-5-2.2zM527.9 429.6l4.9 2.2 0 15-4.9-2.2zM577.3 452l4.9 2.2 0 15-4.9-2.2zM513.1 422.9l4.9 2.2 0 15-4.9-2.2zM567.4 447.5l5 2.2 0 15-5-2.2zM503.2 418.4l5 2.2 0 15-5-2.2zM719.1 498l5 2.3 0 15-5-2.3zM508.2 420.6l4.9 2.3 0 15-4.9-2.3zM799.5 502.6l4.9 2.2 0 15-4.9-2.2zM714.2 495.8l4.9 2.2 0 15-4.9-2.2zM597 460.9l5 2.3 0 15-5-2.3zM444.9 387.4l4.9 2.2 0 15-4.9-2.2z"/>
<path fill="#187862" stroke="#187862" d="M1101.4 434.5l5.8-1.9 0 15-5.8 1.9zM1107.2 432.6l5.9-1.9 0 15-5.9 1.9zM1113.1 430.7l5.8-2 0 15-5.8 2z"/>
<path fill="#3c904d" stroke="#3c904d" d="M990.6 470.8l5.8-1.9 0 15-5.8 1.9zM1025.6 459.3l5.8-1.9 0 15-5.8 1.9zM978.9 474.6l5.9-1.9 0 15-5.9 1.9zM984.8 472.7l5.8-1.9 0 15-5.8 1.9zM744.7 505.1l5.8-1.9 0 15-5.8 1.9zM1163.3 398.8l5.8-1.9 0 15-5.8 1.9zM1031.4 457.4l5.8-1.9 0 15-5.8 1.9z"/>
<path fill="#18694d" stroke="#18694d" d="M483.5 409.5l4.9 2.2 0 15-4.9-2.2zM474.5 400.8l4.9 2.3 0 15-4.9-2.3zM469.5 398.6l5 2.2 0 15-5-2.2zM611.9 467.6l4.9 2.3 0 15-4.9-2.3z"/>
<path fill="#340c48" stroke="#340c48" d="M910.7 489.2l5.9-1.9 0 15-5.9 1.9z"/>
<path fill="#15654f" stroke="#15654f" d="M484.4 405.3l4.9 2.2 0 15-4.9-2.2zM927.3 487.7l5 2.2 0 15-5-2.2z"/>
<path fill="#1d7f5d" stroke="#1d7f5d" d="M1118.9 428.7l5.8-1.9 0 15-5.8 1.9zM876.6 496.6l5.9-2 0 15-5.9 2z"/>
<path fill="#194855" stroke="#194855" d="M647.3 479.2l5 2.2 0 15-5-2.2zM916.6 487.3l4.9 2.3 0 15-4.9-2.3z"/>
<path fill="#196567" stroke="#196567" d="M1089.7 438.3l5.9-1.9 0 15-5.9 1.9z"/>
<path fill="#348d51" stroke="#348d51" d="M1043.1 453.6l5.8-1.9 0 15-5.8 1.9zM961.4 480.3l5.9-1.9 0 15-5.9 1.9zM810.2 502.9l5.9-1.9 0 15-5.9 1.9zM826.8 501.3l5.9-1.9 0 15-5.9 1.9zM729 502.5l5.8-1.9 0 15-5.8 1.9zM1149 415l5.8-1.9 0 15-5.8 1.9zM1149.8 410.9l5.9-1.9 0 15-5.9 1.9zM804.4 504.8l5.8-1.9 0 15-5.8 1.9zM949.8 484.2l5.8-1.9 0 15-5.8 1.9zM973.1 476.5l5.8-1.9 0 15-5.8 1.9zM1037.2 455.5l5.9-1.9 0 15-5.9 1.9zM787.8 506.4l5.8-1.9 0 15-5.8 1.9zM1162.4 402.9l5.8-1.9 0 15-5.8 1.9zM793.6 504.5l5.9-1.9 0 15-5.9 1.9z"/>
<path fill="#1a7b60" stroke="#1a7b60" d="M932.3 489.9l5.8-1.9 0 15-5.8 1.9z"/>
<path fill="#4d9543" stroke="#4d9543" d="M755.5 505.4l5.8-1.9 0 15-5.8 1.9zM777 506.1l5.9-1.9 0 15-5.9 1.9zM996.4 468.9l5.9-1.9 0 15-5.9 1.9z"/>
<path fill="#125c53" stroke="#125c53" d="M652.3 481.4l4.9 2.2 0 15-4.9-2.2z"/>
<path fill="#167065" stroke="#167065" d="M657.2 483.6l5.8-1.9 0 15-5.8 1.9zM1095.6 436.4l5.8-1.9 0 15-5.8 1.9z"/>
<path fill="#3f7b37" stroke="#3f7b37" d="M421.1 372.1l4.9 2.2 0 15-4.9-2.2zM772.1 503.8l4.9 2.3 0 15-4.9-2.3z"/>
<path fill="#2b0a3b" stroke="#2b0a3b" d="M637.4 474.7l5 2.2 0 15-5-2.2zM632.5 472.4l4.9 2.3 0 15-4.9-2.3z"/>
<path fill="#35124e" stroke="#35124e" d="M904.9 491.2l5.8-2 0 15-5.8 2z"/>
<path fill="#1f5768" stroke="#1f5768" d="M921.5 489.6l5.8-1.9 0 15-5.8 1.9z"/>
<path fill="#136350" stroke="#136350" d="M479.4 403.1l5 2.2 0 15-5-2.2z"/>
<path fill="#2a1f4c" stroke="#2a1f4c" d="M642.4 476.9l4.9 2.3 0 15-4.9-2.3z"/>
<path fill="#167463" stroke="#167463" d="M1072.2 444l5.9-1.9 0 15-5.9 1.9zM882.5 494.6l5.8-1.9 0 15-5.8 1.9z"/>
<path fill="#22835b" stroke="#22835b" d="M1119.8 424.6l5.8-1.9 0 15-5.8 1.9zM1066.4 445.9l5.8-1.9 0 15-5.8 1.9zM870.8 498.5l5.8-1.9 0 15-5.8 1.9z"/>
<path fill="#206e48" stroke="#206e48" d="M672.9 486.2l4.9 2.2 0 15-4.9-2.2zM606.9 465.4l5 2.2 0 15-5-2.2zM668 484l4.9 2.2 0 15-4.9-2.2zM865.9 496.2l4.9 2.3 0 15-4.9-2.3zM602 463.2l4.9 2.2 0 15-4.9-2.2z"/>
<path fill="#1a6267" stroke="#1a6267" d="M1078.1 442.1l5.8-1.9 0 15-5.8 1.9z"/>
<path fill="#2b0f40" stroke="#2b0f40" d="M894.1 490.8l5 2.3 0 15-5-2.3z"/>
<path fill="#351652" stroke="#351652" d="M899.1 493.1l5.8-1.9 0 15-5.8 1.9z"/>
<path fill="#145754" stroke="#145754" d="M616.8 469.9l4.9 2.2 0 15-4.9-2.2z"/>
<path fill="#1c5f68" stroke="#1c5f68" d="M1083.9 440.2l5.8-1.9 0 15-5.8 1.9z"/>
<path fill="#1c6b4b" stroke="#1c6b4b" d="M663 481.7l5 2.3 0 15-5-2.3zM464.6 396.4l4.9 2.2 0 15-4.9-2.2zM488.4 411.7l4.9 2.2 0 15-4.9-2.2z"/>
<path fill="#203854" stroke="#203854" d="M621.7 472.1l5 2.3 0 15-5-2.3z"/>
<path fill="#274467" stroke="#274467" d="M626.7 474.4l5.8-2 0 15-5.8 2z"/>
<path fill="#278658" stroke="#278658" d="M938.1 488l5.8-1.9 0 15-5.8 1.9z"/>
<path fill="#1d5a68" stroke="#1d5a68" d="M888.3 492.7l5.8-1.9 0 15-5.8 1.9z"/>
<path fill="#699d31" stroke="#699d31" d="M1170.9 388.6l5.8-1.9 0 15-5.8 1.9zM1165.1 390.5l5.8-1.9 0 15-5.8 1.9z"/>
<path fill="#1e997d" stroke="#1e997d" d="M932.3 489.9l5.8-1.9-4.9-2.3-5.9 2zM1118.9 428.7l5.8-1.9-4.9-2.2-5.8 1.9zM1114 426.5l5.8-1.9-4.9-2.2-5.9 1.9zM876.6 496.6l5.9-2-5-2.2-5.8 1.9zM923.3 481.3l5.8-1.9-4.9-2.3-5.8 1.9zM1093.3 421.7l5.8-1.9-4.9-2.2-5.8 1.9zM872.6 490.2l5.8-1.9-4.9-2.3-5.8 1.9zM1088.4 419.5l5.8-1.9-4.9-2.3-5.9 1.9zM867.7 487.9l5.8-1.9-5-2.2-5.8 1.9zM914.3 472.6l5.8-1.9-4.9-2.2-5.8 1.9zM1083.4 417.2l5.9-1.9-5-2.2-5.8 1.9zM1078.5 415l5.8-1.9-4.9-2.3-5.8 2zM863.6 481.5l5.8-1.9-4.9-2.2-5.8 1.9zM1073.6 412.8l5.8-2-4.9-2.2-5.9 1.9zM858.7 479.3l5.8-1.9-4.9-2.2-5.9 1.9zM905.3 464l5.9-1.9-5-2.2-5.8 1.9zM854.6 472.9l5.9-1.9-5-2.2-5.8 1.9zM849.7 470.7l5.8-1.9-4.9-2.3-5.8 1.9zM1048 405.7l5.8-1.9-4.9-2.2-5.9 1.9zM844.8 468.4l5.8-1.9-5-2.2-5.8 1.9zM891.4 453.2l5.8-2-4.9-2.2-5.8 1.9zM1043 403.5l5.9-1.9-5-2.3-5.8 1.9zM1038.1 401.2l5.8-1.9-4.9-2.2-5.8 1.9zM840.7 462.1l5.8-2-4.9-2.2-5.8 1.9zM887.4 446.8l5.8-1.9-4.9-2.3-5.9 1.9zM992.3 412.4l5.9-1.9-5-2.3-5.8 1.9zM1033.2 399l5.8-1.9-4.9-2.3-5.9 2zM835.8 459.8l5.8-1.9-4.9-2.2-5.9 1.9zM888.3 442.6l11.6-3.8-4.9-2.2-11.7 3.8zM987.4 410.1l5.8-1.9-4.9-2.2-5.8 1.9zM1028.2 396.8l5.9-2-5-2.2-5.8 1.9zM830.8 457.6l5.9-1.9-5-2.3-5.8 1.9zM906.6 432.7l23.4-7.6-5-2.2-23.3 7.6zM982.5 407.9l5.8-1.9-4.9-2.3-5.9 2zM1023.3 394.5l5.8-1.9-4.9-2.2-5.9 1.9zM820.1 457.3l5.8-2-4.9-2.2-5.9 1.9zM936.7 419l46.7-15.3-5-2.2-46.6 15.3zM1018.3 392.3l5.9-1.9-5-2.3-5.8 1.9zM809.3 456.9l5.8-1.9-4.9-2.2-5.8 1.9zM1013.4 390l5.8-1.9-4.9-2.2-5.8 1.9zM798.5 456.6l5.9-1.9-5-2.2-5.8 1.9zM1014.3 385.9l11.7-3.8-5-2.3-11.6 3.9zM787.8 456.3l5.8-1.9-5-2.3-5.8 1.9zM1021 379.8l11.7-3.8-4.9-2.2-11.7 3.8zM777 455.9l5.8-1.9-4.9-2.2-5.9 1.9zM817.8 442.6l11.7-3.9-5-2.2-11.6 3.8zM1033.6 371.9l17.5-5.8-5-2.2-17.5 5.7zM766.2 455.6l5.8-1.9-4.9-2.2-5.8 1.9zM801.2 444.2l11.7-3.9-5-2.2-11.6 3.8zM818.7 438.4l5.8-1.9-4.9-2.2-5.8 1.9zM894.5 413.6l29.2-9.6-5-2.2-29.1 9.5zM1046.1 363.9l17.5-5.7-4.9-2.3-17.5 5.8zM755.4 455.3l5.9-1.9-5-2.3-5.8 2zM790.4 443.8l11.7-3.8-4.9-2.2-11.7 3.8zM895.4 409.4l40.8-13.3-4.9-2.3-40.8 13.4zM1064.5 354l17.5-5.7-4.9-2.3-17.5 5.8zM668.9 479.8l5.8-1.9-5-2.2-5.8 1.9zM738.8 456.9l11.7-3.8-4.9-2.3-11.7 3.8zM779.7 443.5l5.8-1.9-4.9-2.2-5.9 1.9zM803 435.9l5.8-2-4.9-2.2-5.8 1.9zM896.3 405.3l11.7-3.8-5-2.3-11.6 3.8zM931.3 393.8l5.8-1.9-4.9-2.2-5.8 1.9zM681.4 471.8l5.8-1.9-4.9-2.2-5.8 1.9zM728.1 456.6l5.8-2-4.9-2.2-5.9 1.9zM768.9 443.2l5.8-1.9-4.9-2.3-5.8 1.9zM903 399.2l5.9-1.9-5-2.2-5.8 1.9zM926.4 391.6l5.8-1.9-5-2.3-5.8 1.9zM978.8 374.4l11.7-3.8-4.9-2.3-11.7 3.8zM694 463.9l29.1-9.6-4.9-2.2-29.2 9.5zM758.1 442.8l5.9-1.9-5-2.2-5.8 1.9zM787.3 433.3l5.8-1.9-4.9-2.3-5.9 2zM909.8 393.2l11.6-3.9-4.9-2.2-11.7 3.8zM968.1 374.1l5.8-2-4.9-2.2-5.9 1.9zM991.4 366.4l29.2-9.5-5-2.3-29.1 9.6zM747.4 442.5l5.8-1.9-5-2.2-5.8 1.9zM776.5 433l5.8-1.9-4.9-2.3-5.8 1.9zM963.1 371.8l5.9-1.9-5-2.2-5.8 1.9zM1021.5 352.7l17.5-5.7-5-2.3-17.5 5.8zM742.4 440.3l5.8-1.9-4.9-2.3-5.8 1.9zM958.2 369.6l5.8-1.9-4.9-2.3-5.8 1.9zM1039.8 342.8l5.9-1.9-5-2.2-5.8 1.9zM737.5 438l11.6-3.8-4.9-2.2-11.7 3.8zM760.8 430.4l5.8-1.9-4.9-2.2-5.8 1.9zM744.2 432l11.7-3.8-5-2.3-11.6 3.8zM616.8 469.9l5.8-1.9-4.9-2.3-5.8 1.9zM623.5 463.8l5.9-1.9-5-2.2-5.8 1.9zM938.4 360.6l5.9-1.9-5-2.2-5.8 1.9zM776 410l5.9-1.9-5-2.3-5.8 1.9zM933.5 358.4l5.8-1.9-4.9-2.3-5.8 1.9zM811.9 394.4l5.9-1.9-5-2.3-5.8 1.9zM928.6 356.1l5.8-1.9-4.9-2.2-5.9 1.9zM637.9 447.5l5.8-1.9-4.9-2.2-5.9 1.9zM807 392.1l5.8-1.9-4.9-2.2-5.8 1.9zM923.6 353.9l5.9-1.9-5-2.2-5.8 1.9zM644.6 441.5l5.8-1.9-4.9-2.3-5.8 1.9zM802.1 389.9l5.8-1.9-5-2.3-5.8 2zM645.5 437.3l5.8-1.9-4.9-2.2-5.9 1.9zM797.1 387.7l5.8-2-4.9-2.2-5.8 1.9zM919.6 347.5l5.8-1.9-4.9-2.2-5.9 1.9zM646.4 433.2l5.8-1.9-4.9-2.3-5.9 2zM751.4 398.8l5.8-1.9-5-2.3-5.8 2zM792.2 385.4l5.8-1.9-4.9-2.2-5.9 1.9zM932.1 339.6l5.9-2-5-2.2-5.8 1.9zM746.4 396.6l5.8-2-4.9-2.2-5.8 1.9zM944.7 331.6l5.8-1.9-4.9-2.3-5.8 1.9zM642.3 426.8l5.9-1.9-5-2.2-5.8 1.9zM643.2 422.7l5.9-2-5-2.2-5.8 1.9zM644.1 418.5l5.9-1.9-5-2.2-5.8 1.9zM639.2 416.3l5.8-1.9-4.9-2.3-5.9 1.9zM860.8 343.6l5.8-1.9-4.9-2.2-5.8 1.9zM640.1 412.1l5.8-1.9-4.9-2.2-5.9 1.9zM635.1 409.9l5.9-1.9-5-2.3-5.8 1.9zM630.2 407.6l5.8-1.9-4.9-2.2-5.8 1.9zM840.2 338.8l5.8-1.9-5-2.2-5.8 1.9zM625.3 405.4l5.8-1.9-4.9-2.2-5.9 1.9zM620.3 403.2l5.9-1.9-5-2.3-5.8 1.9zM824.4 336.3l5.9-1.9-5-2.3-5.8 1.9zM615.4 400.9l5.8-1.9-4.9-2.2-5.9 1.9zM610.5 398.7l5.9-1.9-5-2.3-5.8 2zM605.5 396.5l5.8-2-4.9-2.2-5.8 1.9zM600.6 394.2l5.8-1.9-4.9-2.2-5.9 1.9zM804.7 327.3l5.8-1.9-4.9-2.2-5.8 1.9zM589.8 393.9l5.8-1.9-4.9-2.3-5.8 1.9zM799.8 325.1l5.8-1.9-5-2.3-5.8 2zM579 393.6l5.9-2-5-2.2-5.8 1.9zM800.6 320.9l5.9-1.9-5-2.2-5.8 1.9zM550.8 399l23.3-7.7-4.9-2.2-23.4 7.6zM801.5 316.8l5.9-1.9-5-2.3-5.8 2zM522.5 404.4l23.3-7.7-4.9-2.2-23.3 7.6zM668.3 356.6l23.3-7.6-4.9-2.3-23.3 7.7zM761.6 326l11.7-3.8-5-2.2-11.6 3.8zM802.4 312.6l5.9-1.9-5-2.2-5.8 1.9zM488.4 411.7l23.3-7.7-4.9-2.2-23.3 7.7zM622.5 367.7l17.5-5.7-4.9-2.2-17.5 5.7zM768.3 320l5.9-2-5-2.2-5.8 1.9zM605.9 369.3l5.9-1.9-5-2.2-5.8 1.9zM769.2 315.8l5.9-1.9-5-2.2-5.8 1.9zM601 367.1l5.8-1.9-4.9-2.3-5.8 1.9zM514.4 391.6l40.8-13.4-4.9-2.2-40.8 13.4zM596.1 364.8l5.8-1.9-4.9-2.2-5.9 1.9zM474.5 400.8l11.6-3.8-4.9-2.2-11.7 3.8zM550.3 376l11.7-3.8-5-2.3-11.6 3.8zM591.1 362.6l5.9-1.9-5-2.2-5.8 1.9zM586.2 360.4l5.8-1.9-4.9-2.3-5.9 1.9zM552.1 367.7l5.8-1.9-4.9-2.3-5.8 1.9zM581.2 358.1l5.9-1.9-5-2.2-5.8 1.9zM547.1 365.4l5.8-1.9-5-2.2-5.8 1.9zM576.3 355.9l5.8-1.9-4.9-2.3-5.8 2zM571.4 353.7l5.8-2-4.9-2.2-5.9 1.9zM543.1 359.1l5.8-2-4.9-2.2-5.8 1.9zM538.2 356.8l5.8-1.9-4.9-2.2-5.9 1.9zM533.2 354.6l5.9-1.9-5-2.3-5.8 1.9zM562.4 345l5.8-1.9-4.9-2.2-5.8 1.9zM528.3 352.3l5.8-1.9-4.9-2.2-5.8 1.9zM557.5 342.8l5.8-1.9-5-2.3-5.8 2zM552.5 340.6l5.8-2-4.9-2.2-5.8 1.9zM524.2 346l5.9-2-5-2.2-5.8 1.9zM547.6 338.3l5.8-1.9-4.9-2.2-5.9 1.9zM588.4 324.9l5.8-1.9-4.9-2.2-5.8 1.9zM519.3 343.7l5.8-1.9-4.9-2.2-5.8 1.9zM542.6 336.1l5.9-1.9-5-2.3-5.8 1.9zM514.4 341.5l5.8-1.9-4.9-2.3-5.9 1.9z"/>
<path fill="#25a277" stroke="#25a277" d="M938.1 488l5.8-1.9-4.9-2.3-5.8 1.9zM933.2 485.7l5.8-1.9-4.9-2.2-5.9 1.9zM1125.6 422.7l5.9-1.9-5-2.3-5.8 1.9zM1114.9 422.4l11.6-3.9-4.9-2.2-11.7 3.8zM870.8 498.5l5.8-1.9-4.9-2.3-5.8 1.9zM929.1 479.4l5.9-2-5-2.2-5.8 1.9zM1109.9 420.1l11.7-3.8-5-2.2-11.6 3.8zM860 498.1l11.7-3.8-4.9-2.2-11.7 3.8zM924.2 477.1l5.8-1.9-4.9-2.2-5.9 1.9zM1105 417.9l5.8-1.9-4.9-2.3-5.9 1.9zM860.9 494l5.9-1.9-5-2.3-5.8 2zM1100 415.6l5.9-1.9-5-2.2-5.8 1.9zM856 491.8l11.7-3.9-5-2.2-11.7 3.8zM1095.1 413.4l5.8-1.9-4.9-2.2-5.8 1.9zM856.9 487.6l5.8-1.9-4.9-2.2-5.9 1.9zM915.2 468.5l5.8-1.9-4.9-2.3-5.8 2zM1090.2 411.2l5.8-1.9-4.9-2.3-5.9 1.9zM851.9 485.4l5.9-1.9-5-2.3-5.8 1.9zM1021.1 429.9l5.8-2-4.9-2.2-5.9 1.9zM1079.4 410.8l11.7-3.8-5-2.2-11.6 3.8zM847 483.1l11.7-3.8-5-2.2-11.6 3.8zM911.2 462.1l5.8-1.9-4.9-2.2-5.9 1.9zM1016.1 427.7l5.9-1.9-5-2.2-5.8 1.9zM1074.5 408.6l11.6-3.8-4.9-2.3-11.7 3.9zM842.1 480.9l11.6-3.8-4.9-2.3-11.7 3.9zM906.2 459.9l5.9-1.9-5-2.3-5.8 1.9zM1011.2 425.5l5.8-1.9-4.9-2.3-5.8 1.9zM1069.5 406.4l11.7-3.9-5-2.2-11.6 3.8zM837.1 478.7l11.7-3.9-4.9-2.2-11.7 3.8zM907.1 455.7l5.8-1.9-4.9-2.2-5.8 1.9zM1000.4 425.1l11.7-3.8-4.9-2.2-11.7 3.8zM1064.6 404.1l11.6-3.8-4.9-2.2-11.7 3.8zM838 474.5l5.9-1.9-5-2.2-5.8 1.9zM902.2 453.5l5.8-1.9-4.9-2.3-5.9 1.9zM995.5 422.9l11.7-3.8-5-2.3-11.6 3.9zM1059.6 401.9l17.5-5.7-4.9-2.3-17.5 5.7zM833.1 472.3l5.8-1.9-4.9-2.3-5.9 1.9zM897.2 451.2l17.5-5.7-4.9-2.2-17.5 5.7zM978.9 424.5l23.3-7.7-4.9-2.2-23.4 7.7zM1054.7 399.6l17.5-5.7-4.9-2.2-17.5 5.7zM828.1 470l11.7-3.8-4.9-2.2-11.7 3.8zM898.1 447.1l99.2-32.5-5-2.2-99.1 32.5zM1049.8 397.4l17.5-5.7-5-2.3-17.5 5.8zM823.2 467.8l11.7-3.8-5-2.3-11.6 3.9zM904.9 441l81.6-26.7-4.9-2.3-81.7 26.8zM1044.8 395.2l23.4-7.7-5-2.2-23.3 7.6zM812.4 467.5l17.5-5.8-4.9-2.2-17.5 5.7zM934.9 427.3l46.7-15.3-5-2.2-46.6 15.3zM1045.7 391l23.3-7.6-4.9-2.3-23.3 7.7zM807.5 465.2l11.7-3.8-5-2.2-11.6 3.8zM1040.8 388.8l29.1-9.6-4.9-2.2-29.2 9.5zM796.7 464.9l11.7-3.8-4.9-2.3-11.7 3.9zM1035.8 386.5l35-11.4-4.9-2.3-35 11.5zM786 464.6l17.5-5.8-5-2.2-17.5 5.7zM1036.7 382.4l46.7-15.3-4.9-2.2-46.7 15.3zM775.2 464.2l17.5-5.7-4.9-2.2-17.5 5.7zM1043.5 376.3l64.1-21-4.9-2.2-64.2 21zM764.4 463.9l17.5-5.7-4.9-2.3-17.5 5.8zM1056 368.4l40.8-13.4-4.9-2.2-40.8 13.3zM753.7 463.6l11.6-3.8-4.9-2.3-11.7 3.9zM1068.6 360.4l23.3-7.6-4.9-2.3-23.4 7.7zM672.9 486.2l17.5-5.7-4.9-2.3-17.5 5.8zM737 465.2l17.5-5.8-4.9-2.2-17.5 5.7zM673.8 482l70-22.9-5-2.2-69.9 22.9zM692.2 472.2l40.8-13.4-4.9-2.2-40.9 13.3zM764.8 436.8l5.9-1.9-5-2.3-5.8 1.9zM969.9 365.8l46.6-15.3-4.9-2.3-46.7 15.3zM964.9 363.5l70-22.9-4.9-2.3-70 23zM960 361.3l70-23-5-2.2-70 22.9zM949.2 360.9l17.5-5.8-4.9-2.2-17.5 5.7zM1007.5 341.8l11.7-3.8-4.9-2.2-11.7 3.8zM611.9 467.6l5.8-1.9-5-2.2-5.8 1.9zM944.3 358.7l11.6-3.8-4.9-2.2-11.7 3.8zM612.7 463.5l11.7-3.8-4.9-2.3-11.7 3.9zM939.3 356.5l11.7-3.8-4.9-2.3-11.7 3.8zM619.5 457.4l11.6-3.8-4.9-2.2-11.7 3.8zM934.4 354.2l11.7-3.8-5-2.2-11.6 3.8zM626.2 451.4l11.7-3.9-5-2.2-11.6 3.8zM929.5 352l5.8-1.9-4.9-2.3-5.9 2zM632.9 445.3l5.9-1.9-5-2.2-5.8 1.9zM924.5 349.8l11.7-3.9-4.9-2.2-11.7 3.8zM633.8 441.2l11.7-3.9-5-2.2-11.6 3.8zM931.3 343.7l11.6-3.8-4.9-2.3-11.7 3.9zM634.7 437l5.8-1.9-4.9-2.2-5.8 1.9zM943.8 335.7l5.8-1.9-4.9-2.2-5.8 1.9zM629.8 434.8l11.6-3.8-4.9-2.3-11.7 3.8zM752.2 394.6l35-11.4-4.9-2.3-35 11.5zM956.4 327.8l5.8-2-4.9-2.2-5.9 1.9zM630.7 430.6l11.6-3.8-4.9-2.2-11.7 3.8zM631.6 426.5l5.8-1.9-4.9-2.3-5.9 1.9zM626.6 424.2l11.7-3.8-4.9-2.2-11.7 3.8zM627.5 420.1l11.7-3.8-5-2.3-11.6 3.9zM866.6 341.7l35-11.4-4.9-2.3-35 11.5zM622.6 417.9l11.6-3.9-4.9-2.2-11.7 3.8zM861.7 339.5l5.8-1.9-4.9-2.2-5.8 1.9zM617.6 415.6l11.7-3.8-4.9-2.2-11.7 3.8zM612.7 413.4l11.7-3.8-5-2.3-11.6 3.8zM846 336.9l5.8-1.9-4.9-2.2-5.9 1.9zM607.8 411.1l11.6-3.8-4.9-2.2-11.7 3.8zM841 334.7l5.9-1.9-5-2.3-5.8 2zM602.8 408.9l11.7-3.8-4.9-2.3-11.7 3.9zM830.3 334.4l11.6-3.9-4.9-2.2-11.7 3.8zM597.9 406.7l17.5-5.8-5-2.2-17.4 5.7zM825.3 332.1l11.7-3.8-4.9-2.2-11.7 3.8zM593 404.4l17.4-5.7-4.9-2.2-17.5 5.7zM820.4 329.9l11.7-3.8-5-2.3-11.6 3.9zM582.2 404.1l17.5-5.7-5-2.3-17.5 5.8zM815.5 327.7l11.6-3.9-4.9-2.2-11.7 3.8zM571.4 403.8l23.3-7.7-4.9-2.2-23.3 7.6zM816.4 323.5l11.6-3.8-4.9-2.3-11.7 3.9zM554.8 405.4l23.3-7.7-4.9-2.2-23.3 7.6zM811.4 321.3l17.5-5.8-4.9-2.2-17.5 5.7zM532.4 408.8l23.3-7.6-4.9-2.2-23.4 7.6zM812.3 317.1l17.5-5.7-4.9-2.3-17.5 5.8zM498.3 416.2l35-11.5-5-2.2-35 11.4zM813.2 313l5.8-1.9-4.9-2.3-5.8 1.9zM663.4 354.4l93.3-30.6-5-2.3-93.3 30.6zM629.3 361.7l35-11.5-5-2.2-35 11.4zM745.9 323.5l11.7-3.9-5-2.2-11.6 3.8zM612.7 363.3l29.1-9.6-4.9-2.2-29.2 9.5zM746.8 319.3l11.7-3.8-5-2.3-11.6 3.9zM607.7 361l23.4-7.6-5-2.3-23.3 7.7zM747.7 315.2l5.8-2-4.9-2.2-5.8 1.9zM602.8 358.8l17.5-5.7-5-2.3-17.5 5.7zM469.5 398.6l70-22.9-4.9-2.3-70 23zM597.8 356.5l11.7-3.8-4.9-2.2-11.7 3.8zM464.6 396.4l5.8-2-4.9-2.2-5.8 1.9zM511.3 381.1l35-11.5-5-2.2-35 11.4zM592.9 354.3l11.7-3.8-5-2.3-11.6 3.9zM523.8 373.1l17.5-5.7-4.9-2.3-17.5 5.8zM588 352.1l11.6-3.9-4.9-2.2-11.7 3.8zM524.7 368.9l17.5-5.7-4.9-2.2-17.5 5.7zM583 349.8l11.7-3.8-4.9-2.2-11.7 3.8zM525.6 364.8l11.7-3.8-5-2.3-11.6 3.9zM578.1 347.6l11.7-3.8-5-2.3-11.6 3.9zM520.7 362.6l11.6-3.9-4.9-2.2-11.7 3.8zM573.2 345.4l11.6-3.9-4.9-2.2-11.7 3.8zM521.6 358.4l5.8-1.9-4.9-2.2-5.9 1.9zM568.2 343.1l11.7-3.8-5-2.2-11.6 3.8zM516.6 356.2l11.7-3.9-4.9-2.2-11.7 3.8zM569.1 339l5.8-1.9-4.9-2.3-5.8 1.9zM511.7 353.9l11.7-3.8-5-2.2-11.6 3.8zM564.2 336.7l5.8-1.9-4.9-2.2-5.9 1.9zM506.8 351.7l11.6-3.8-4.9-2.3-11.7 3.9zM559.2 334.5l5.9-1.9-5-2.3-5.8 2zM507.6 347.5l5.9-1.9-5-2.2-5.8 1.9zM554.3 332.3l11.7-3.9-5-2.2-11.6 3.8zM502.7 345.3l5.8-1.9-4.9-2.2-5.8 1.9z"/>
<path fill="#2ba674" stroke="#2ba674" d="M943.9 486.1l11.7-3.8-4.9-2.3-11.7 3.8zM1060.6 447.9l5.8-2-4.9-2.2-5.9 1.9zM939 483.8l11.7-3.8-5-2.2-11.6 3.8zM1055.6 445.6l5.9-1.9-5-2.2-5.8 1.9zM1131.5 420.8l23.3-7.7-5-2.2-23.3 7.6zM934.1 481.6l11.6-3.8-4.9-2.3-11.7 3.9zM1050.7 443.4l5.8-1.9-4.9-2.3-5.8 1.9zM1126.5 418.5l23.3-7.6-4.9-2.2-23.3 7.6zM935 477.4l5.8-1.9-5-2.2-5.8 1.9zM1039.9 443.1l11.7-3.9-4.9-2.2-11.7 3.8zM1121.6 416.3l17.5-5.7-5-2.3-17.5 5.8zM854.2 500.1l5.8-2-4.9-2.2-5.8 1.9zM930 475.2l11.7-3.8-5-2.2-11.6 3.8zM1035 440.8l11.7-3.8-5-2.2-11.6 3.8zM1110.8 416l23.3-7.7-4.9-2.2-23.3 7.6zM837.6 501.6l23.3-7.6-4.9-2.2-23.3 7.6zM925.1 473l11.6-3.8-4.9-2.3-11.7 3.8zM1030.1 438.6l11.6-3.8-4.9-2.3-11.7 3.8zM1105.9 413.7l23.3-7.6-4.9-2.3-23.4 7.7zM838.5 497.5l17.5-5.7-5-2.3-17.4 5.8zM920.1 470.7l17.5-5.7-4.9-2.2-17.5 5.7zM1019.3 438.2l17.5-5.7-5-2.2-17.5 5.7zM1100.9 411.5l17.5-5.7-4.9-2.3-17.5 5.8zM833.6 495.3l23.3-7.7-5-2.2-23.3 7.6zM921 466.6l11.7-3.8-4.9-2.3-11.7 3.8zM1008.5 437.9l23.3-7.6-4.9-2.3-23.3 7.7zM1096 409.3l17.5-5.8-4.9-2.2-17.5 5.7zM834.4 491.1l17.5-5.7-4.9-2.3-17.5 5.8zM916.1 464.3l23.3-7.6-4.9-2.2-23.3 7.6zM997.7 437.6l23.4-7.6-5-2.3-23.3 7.7zM1091.1 407l23.3-7.6-5-2.3-23.3 7.7zM829.5 488.9l17.5-5.8-4.9-2.2-17.5 5.7zM917 460.2l23.3-7.6-4.9-2.3-23.3 7.7zM987 437.3l29.1-9.6-4.9-2.2-29.2 9.5zM1086.1 404.8l23.3-7.7-4.9-2.2-23.3 7.6zM824.6 486.6l17.5-5.7-5-2.2-17.5 5.7zM912.1 458l99.1-32.5-4.9-2.3-99.2 32.5zM1081.2 402.5l23.3-7.6-4.9-2.2-23.4 7.6zM819.6 484.4l17.5-5.7-4.9-2.3-17.5 5.8zM912.9 453.8l87.5-28.7-4.9-2.2-87.5 28.7zM1076.2 400.3l29.2-9.6-4.9-2.2-29.2 9.6zM814.7 482.1l23.3-7.7-4.9-2.2-23.3 7.6zM908 451.6l87.5-28.7-4.9-2.2-87.5 28.6zM1077.1 396.2l23.4-7.7-5-2.2-23.3 7.6zM809.8 479.9l23.3-7.6-5-2.3-23.3 7.7zM914.7 445.5l64.2-21-5-2.2-64.1 21zM1072.2 393.9l29.2-9.5-5-2.3-29.1 9.6zM804.8 477.7l23.3-7.7-4.9-2.2-23.3 7.6zM1067.3 391.7l40.8-13.4-5-2.2-40.8 13.3zM794 477.3l29.2-9.5-4.9-2.2-29.2 9.5zM1068.2 387.5l46.6-15.3-4.9-2.2-46.7 15.3zM789.1 475.1l23.3-7.6-4.9-2.3-23.3 7.7zM1069 383.4l64.2-21-4.9-2.3-64.2 21zM778.3 474.8l29.2-9.6-4.9-2.2-29.2 9.5zM1069.9 379.2l52.5-17.2-4.9-2.2-52.5 17.2zM767.6 474.5l29.1-9.6-4.9-2.2-29.2 9.5zM1070.8 375.1l46.7-15.3-4.9-2.2-46.7 15.2zM698.5 493.2l11.6-3.8-4.9-2.2-11.7 3.8zM751 476l35-11.4-5-2.3-35 11.5zM1083.4 367.1l29.2-9.5-5-2.3-29.1 9.6zM687.7 492.9l87.5-28.7-4.9-2.2-87.5 28.7zM682.8 490.7l81.6-26.8-4.9-2.2-81.7 26.7zM677.8 488.4l75.9-24.8-5-2.2-75.8 24.8zM690.4 480.5l46.6-15.3-4.9-2.3-46.6 15.3zM966.7 355.2l40.8-13.4-4.9-2.2-40.8 13.4zM955.9 354.9l58.4-19.1-5-2.3-58.3 19.2zM606.9 465.4l5.8-1.9-4.9-2.2-5.8 1.9zM781.9 408.1l5.8-1.9-4.9-2.3-5.9 1.9zM811 398.5l5.9-1.9-5-2.2-5.8 1.9zM951 352.7l58.3-19.2-4.9-2.2-58.3 19.1zM602 463.2l17.5-5.8-5-2.2-17.5 5.7zM946.1 350.4l52.5-17.2-5-2.2-52.5 17.2zM597 460.9l29.2-9.5-4.9-2.3-29.2 9.6zM935.3 350.1l58.3-19.1-4.9-2.3-58.3 19.1zM609.6 453l23.3-7.7-4.9-2.2-23.3 7.6zM936.2 345.9l17.5-5.7-5-2.2-17.4 5.7zM982.8 330.6l5.9-1.9-5-2.2-5.8 1.9zM616.3 446.9l17.5-5.7-4.9-2.3-17.5 5.8zM942.9 339.9l11.7-3.8-5-2.3-11.6 3.8zM617.2 442.7l17.5-5.7-4.9-2.2-17.5 5.7zM949.6 333.8l11.7-3.8-4.9-2.2-11.7 3.8zM618.1 438.6l11.7-3.8-5-2.3-11.6 3.9zM619 434.4l11.7-3.8-5-2.2-11.6 3.8zM614.1 432.2l17.5-5.7-5-2.3-17.5 5.8zM615 428.1l11.6-3.9-4.9-2.2-11.7 3.8zM610 425.8l17.5-5.7-4.9-2.2-17.5 5.7zM901.6 330.3l11.7-3.9-4.9-2.2-11.7 3.8zM605.1 423.6l17.5-5.7-5-2.3-17.5 5.7zM867.5 337.6l11.7-3.8-4.9-2.3-11.7 3.9zM600.1 421.3l17.5-5.7-4.9-2.2-17.5 5.7zM856.8 337.3l11.6-3.9-4.9-2.2-11.7 3.8zM595.2 419.1l17.5-5.7-4.9-2.3-17.5 5.8zM851.8 335l11.7-3.8-5-2.2-11.6 3.8zM590.3 416.9l17.5-5.8-5-2.2-17.5 5.7zM846.9 332.8l11.6-3.8-4.9-2.3-11.7 3.8zM579.5 416.5l23.3-7.6-4.9-2.2-23.3 7.6zM841.9 330.5l17.5-5.7-4.9-2.2-17.5 5.7zM574.6 414.3l23.3-7.6-4.9-2.3-23.4 7.7zM837 328.3l17.5-5.7-4.9-2.3-17.5 5.8zM563.8 414l29.2-9.6-5-2.2-29.1 9.5zM832.1 326.1l23.3-7.7-4.9-2.2-23.4 7.6zM553 413.7l29.2-9.6-5-2.2-29.1 9.5zM827.1 323.8l29.2-9.5-4.9-2.3-29.2 9.6zM536.4 415.2l35-11.4-4.9-2.3-35 11.5zM828 319.7l23.4-7.7-5-2.2-23.3 7.6zM514 418.7l40.8-13.3-4.9-2.3-40.9 13.4zM828.9 315.5l11.7-3.8-5-2.2-11.6 3.8zM503.2 418.4l29.2-9.6-5-2.2-29.1 9.6zM664.3 350.2l81.6-26.7-4.9-2.3-81.7 26.8zM641.8 353.7l105-34.4-4.9-2.2-105 34.4zM631.1 353.4l34.9-11.5-4.9-2.2-35 11.4zM712.7 326.6l35-11.4-4.9-2.3-35 11.5zM620.3 353.1l29.1-9.6-4.9-2.2-29.2 9.5zM713.6 322.5l29.2-9.6-5-2.2-29.1 9.5zM609.5 352.7l29.2-9.5-5-2.3-29.1 9.6zM720.3 316.4l5.9-1.9-5-2.2-5.8 1.9zM470.4 394.4l40.9-13.3-5-2.3-40.8 13.4zM604.6 350.5l29.1-9.6-4.9-2.2-29.2 9.5zM459.7 394.1l64.1-21-4.9-2.2-64.2 21zM599.6 348.2l23.4-7.6-5-2.2-23.3 7.6zM483.9 382.3l40.8-13.4-4.9-2.2-40.8 13.4zM594.7 346l23.3-7.6-4.9-2.3-23.3 7.7zM496.5 374.3l29.2-9.5-4.9-2.2-29.2 9.5zM589.8 343.8l17.5-5.8-5-2.2-17.5 5.7zM497.3 370.2l23.4-7.6-5-2.3-23.3 7.7zM584.8 341.5l17.5-5.7-4.9-2.2-17.5 5.7zM498.2 366.1l23.4-7.6-5-2.2-23.3 7.6zM579.9 339.3l17.5-5.7-5-2.3-17.5 5.8zM493.3 363.8l23.3-7.6-4.9-2.3-23.3 7.7zM574.9 337.1l17.5-5.8-4.9-2.2-17.5 5.7zM604.1 327.5l5.8-1.9-4.9-2.2-5.8 1.9zM494.2 359.7l17.5-5.8-4.9-2.2-17.5 5.7zM570 334.8l23.3-7.6-4.9-2.3-23.3 7.7zM489.3 357.4l17.5-5.7-5-2.2-17.5 5.7zM565.1 332.6l23.3-7.7-4.9-2.2-23.4 7.6zM484.3 355.2l23.3-7.7-4.9-2.2-23.3 7.6zM479.4 352.9l23.3-7.6-4.9-2.2-23.4 7.6zM474.4 350.7l17.5-5.7-4.9-2.3-17.5 5.8z"/>
<path fill="#31aa70" stroke="#31aa70" d="M955.6 482.3l11.7-3.9-5-2.2-11.6 3.8zM1048.9 451.7l11.7-3.8-5-2.3-11.6 3.8zM950.7 480l11.6-3.8-4.9-2.2-11.7 3.8zM1044 449.4l11.6-3.8-4.9-2.2-11.7 3.8zM945.7 477.8l11.7-3.8-5-2.3-11.6 3.8zM1039 447.2l11.7-3.8-4.9-2.3-11.7 3.9zM1149.8 410.9l11.7-3.8-4.9-2.3-11.7 3.9zM940.8 475.5l11.6-3.8-4.9-2.2-11.7 3.8zM1028.3 446.9l11.6-3.8-4.9-2.3-11.7 3.8zM1139.1 410.6l11.6-3.9-4.9-2.2-11.7 3.8zM941.7 471.4l11.6-3.8-4.9-2.3-11.7 3.9zM1023.3 444.6l11.7-3.8-4.9-2.2-11.7 3.8zM1134.1 408.3l11.7-3.8-4.9-2.2-11.7 3.8zM936.7 469.2l11.7-3.9-4.9-2.2-11.7 3.8zM1012.6 444.3l17.5-5.7-5-2.3-17.5 5.8zM1129.2 406.1l11.7-3.8-5-2.3-11.6 3.8zM821 503.2l17.5-5.7-4.9-2.2-17.5 5.7zM937.6 465l11.7-3.8-4.9-2.3-11.7 3.9zM1007.6 442.1l11.7-3.9-5-2.2-11.6 3.8zM1118.4 405.8l11.7-3.9-4.9-2.2-11.7 3.8zM821.9 499.1l11.7-3.8-5-2.3-11.6 3.8zM932.7 462.8l23.3-7.7-4.9-2.2-23.3 7.6zM991 443.7l17.5-5.8-4.9-2.2-17.5 5.7zM1113.5 403.5l11.7-3.8-5-2.2-11.6 3.8zM822.8 494.9l11.6-3.8-4.9-2.2-11.7 3.8zM939.4 456.7l58.3-19.1-4.9-2.2-58.3 19.1zM1114.4 399.4l11.6-3.8-4.9-2.3-11.7 3.8zM817.8 492.7l11.7-3.8-4.9-2.3-11.7 3.8zM940.3 452.6l46.7-15.3-5-2.3-46.6 15.3zM1109.4 397.1l11.7-3.8-4.9-2.2-11.7 3.8zM812.9 490.4l11.7-3.8-5-2.2-11.6 3.8zM1104.5 394.9l11.7-3.8-5-2.3-11.6 3.9zM808 488.2l11.6-3.8-4.9-2.2-11.7 3.8zM1105.4 390.7l11.7-3.8-5-2.2-11.6 3.8zM803 486l11.7-3.8-4.9-2.3-11.7 3.8zM1100.5 388.5l17.5-5.7-5-2.3-17.5 5.8zM798.1 483.7l11.7-3.8-5-2.2-11.6 3.8zM1101.4 384.4l23.3-7.7-5-2.2-23.3 7.6zM787.3 483.4l17.5-5.7-4.9-2.3-17.5 5.8zM1108.1 378.3l35-11.5-5-2.2-35 11.5zM782.4 481.2l11.6-3.9-4.9-2.2-11.7 3.8zM1114.8 372.2l23.3-7.6-4.9-2.2-23.3 7.6zM771.6 480.8l17.5-5.7-4.9-2.2-17.5 5.7zM708.4 497.7l17.5-5.7-5-2.3-17.5 5.8zM755 482.4l23.3-7.6-4.9-2.3-23.3 7.7zM703.4 495.5l64.2-21-5-2.3-64.1 21zM710.1 489.4l40.9-13.4-5-2.2-40.8 13.4zM787.7 406.2l23.3-7.7-4.9-2.2-23.3 7.6zM592.1 458.7l17.5-5.7-4.9-2.3-17.5 5.7zM953.7 340.2l29.1-9.6-4.9-2.2-29.2 9.6zM587.2 456.4l29.1-9.5-4.9-2.2-29.2 9.5zM954.6 336.1l23.3-7.7-4.9-2.2-23.4 7.6zM593.9 450.4l23.3-7.7-4.9-2.2-23.3 7.7zM786.3 387.3l5.9-1.9-5-2.2-5.8 1.9zM961.3 330l11.7-3.8-5-2.3-11.6 3.9zM600.6 444.3l17.5-5.7-4.9-2.2-17.5 5.7zM601.5 440.2l17.5-5.8-4.9-2.2-17.5 5.7zM602.4 436l11.7-3.8-5-2.2-11.6 3.8zM597.5 433.8l17.5-5.7-5-2.3-17.5 5.8zM598.4 429.6l11.6-3.8-4.9-2.2-11.7 3.8zM913.3 326.4l5.8-1.9-4.9-2.2-5.8 1.9zM593.4 427.4l11.7-3.8-5-2.3-11.6 3.9zM879.2 333.8l11.7-3.9-5-2.2-11.6 3.8zM588.5 425.2l11.6-3.9-4.9-2.2-11.7 3.8zM868.4 333.4l11.7-3.8-5-2.2-11.6 3.8zM583.5 422.9l11.7-3.8-4.9-2.2-11.7 3.8zM863.5 331.2l11.6-3.8-4.9-2.3-11.7 3.9zM572.8 422.6l17.5-5.7-5-2.3-17.5 5.8zM858.5 329l17.5-5.8-4.9-2.2-17.5 5.7zM567.8 420.4l11.7-3.9-4.9-2.2-11.7 3.8zM859.4 324.8l11.7-3.8-4.9-2.2-11.7 3.8zM557.1 420l17.5-5.7-5-2.2-17.5 5.7zM854.5 322.6l17.5-5.8-4.9-2.2-17.5 5.7zM546.3 419.7l17.5-5.7-4.9-2.3-17.5 5.8zM855.4 318.4l17.5-5.7-4.9-2.2-17.5 5.7zM529.7 421.3l23.3-7.6-4.9-2.3-23.3 7.7zM856.3 314.3l5.8-1.9-4.9-2.3-5.8 1.9zM513.1 422.9l23.3-7.7-4.9-2.2-23.3 7.6zM508.2 420.6l5.8-1.9-5-2.2-5.8 1.9zM666 341.9l46.7-15.3-4.9-2.2-46.7 15.3zM649.4 343.5l64.2-21-4.9-2.3-64.2 21.1zM638.7 343.2l23.3-7.7-4.9-2.2-23.4 7.6zM697 324.1l23.3-7.7-4.9-2.2-23.3 7.6zM633.7 340.9l11.7-3.8-4.9-2.2-11.7 3.8zM703.7 318l11.7-3.8-5-2.3-11.6 3.9zM623 340.6l11.6-3.8-4.9-2.3-11.7 3.9zM454.7 391.9l29.2-9.6-4.9-2.2-29.2 9.5zM618 338.4l11.7-3.9-4.9-2.2-11.7 3.8zM449.8 389.6l46.6-15.3-4.9-2.2-46.6 15.3zM607.3 338l11.6-3.8-4.9-2.2-11.7 3.8zM474 377.8l23.3-7.6-4.9-2.2-23.3 7.6zM602.3 335.8l11.7-3.8-5-2.3-11.6 3.9zM480.7 371.8l17.5-5.8-4.9-2.2-17.5 5.7zM597.4 333.6l11.6-3.9-4.9-2.2-11.7 3.8zM481.6 367.6l11.7-3.8-4.9-2.2-11.7 3.8zM592.4 331.3l11.7-3.8-4.9-2.2-11.7 3.8zM482.5 363.5l11.7-3.8-4.9-2.3-11.7 3.8zM477.6 361.2l11.7-3.8-5-2.2-11.6 3.8zM472.7 359l11.6-3.8-4.9-2.3-11.7 3.9zM467.7 356.8l11.7-3.9-5-2.2-11.6 3.8zM462.8 354.5l11.6-3.8-4.9-2.2-11.7 3.8z"/>
<path fill="#3aaf6b" stroke="#3aaf6b" d="M967.3 478.4l11.6-3.8-4.9-2.2-11.7 3.8zM1037.2 455.5l11.7-3.8-4.9-2.3-11.7 3.9zM962.3 476.2l11.7-3.8-4.9-2.3-11.7 3.9zM1032.3 453.3l11.7-3.9-5-2.2-11.6 3.8zM957.4 474l11.7-3.9-5-2.2-11.7 3.8zM1027.4 451l11.6-3.8-4.9-2.2-11.7 3.8zM952.5 471.7l11.7-3.8-4.9-2.2-11.7 3.8zM1022.4 448.8l5.9-1.9-5-2.3-5.8 1.9zM1150.7 406.7l11.7-3.8-4.9-2.2-11.7 3.8zM953.3 467.6l5.9-1.9-5-2.3-5.8 1.9zM1011.7 448.5l11.6-3.9-4.9-2.2-11.7 3.8zM1145.8 404.5l5.8-1.9-4.9-2.2-5.8 1.9zM948.4 465.3l11.7-3.8-5-2.2-11.6 3.8zM1006.7 446.2l5.9-1.9-5-2.2-5.8 1.9zM1140.9 402.3l5.8-1.9-4.9-2.3-5.9 1.9zM949.3 461.2l17.5-5.8-4.9-2.2-17.5 5.7zM990.1 447.8l17.5-5.7-4.9-2.3-17.5 5.8zM1130.1 401.9l11.7-3.8-5-2.2-11.6 3.8zM810.2 502.9l11.7-3.8-4.9-2.3-11.7 3.9zM956 455.1l35-11.4-4.9-2.3-35 11.5zM1125.2 399.7l11.6-3.8-4.9-2.3-11.7 3.9zM811.1 498.7l11.7-3.8-5-2.2-11.6 3.8zM1126 395.6l5.9-2-5-2.2-5.8 1.9zM812 494.6l5.8-1.9-4.9-2.3-5.8 2zM1121.1 393.3l5.8-1.9-4.9-2.2-5.8 1.9zM807.1 492.4l5.8-2-4.9-2.2-5.9 1.9zM1116.2 391.1l11.6-3.8-4.9-2.3-11.7 3.8zM802.1 490.1l5.9-1.9-5-2.2-5.8 1.9zM1117.1 386.9l11.6-3.8-4.9-2.2-11.7 3.8zM797.2 487.9l5.8-1.9-4.9-2.3-5.8 1.9zM1118 382.8l35-11.5-5-2.2-35 11.4zM786.4 487.6l11.7-3.9-4.9-2.2-11.7 3.8zM1124.7 376.7l23.3-7.6-4.9-2.3-23.4 7.7zM781.5 485.3l5.8-1.9-4.9-2.2-5.8 1.9zM724.1 500.3l5.8-1.9-4.9-2.3-5.9 1.9zM770.7 485l11.7-3.8-5-2.3-11.6 3.9zM719.1 498l17.5-5.7-4.9-2.2-17.5 5.7zM754.1 486.6l17.5-5.8-4.9-2.2-17.5 5.7zM725.9 492l29.1-9.6-4.9-2.2-29.2 9.5zM776.9 405.8l5.9-1.9-5-2.2-5.8 1.9zM806.1 396.3l5.8-1.9-4.9-2.3-5.8 1.9zM772 403.6l5.8-1.9-4.9-2.3-5.8 2zM801.2 394l5.8-1.9-4.9-2.2-5.9 1.9zM796.2 391.8l5.9-1.9-5-2.2-5.8 1.9zM762.1 399.1l5.9-1.9-5-2.2-5.8 1.9zM791.3 389.6l5.8-1.9-4.9-2.3-5.9 1.9zM582.2 454.2l11.7-3.8-4.9-2.2-11.7 3.8zM757.2 396.9l5.8-1.9-4.9-2.3-5.9 1.9zM583.1 450.1l17.5-5.8-4.9-2.2-17.5 5.7zM589.8 444l11.7-3.8-4.9-2.3-11.7 3.9zM590.7 439.9l11.7-3.9-4.9-2.2-11.7 3.8zM591.6 435.7l5.9-1.9-5-2.2-5.8 1.9zM586.7 433.5l11.7-3.9-5-2.2-11.6 3.8zM919.1 324.5l5.9-1.9-5-2.2-5.8 1.9zM587.6 429.3l5.8-1.9-4.9-2.2-5.8 1.9zM890.9 329.9l11.6-3.8-4.9-2.2-11.7 3.8zM576.8 429l11.7-3.8-5-2.3-11.6 3.9zM880.1 329.6l11.6-3.8-4.9-2.2-11.7 3.8zM571.9 426.8l11.6-3.9-4.9-2.2-11.7 3.8zM875.1 327.4l11.7-3.8-4.9-2.3-11.7 3.8zM566.9 424.5l5.9-1.9-5-2.2-5.8 1.9zM876 323.2l5.9-1.9-5-2.2-5.8 1.9zM556.2 424.2l11.6-3.8-4.9-2.3-11.7 3.8zM871.1 321l11.7-3.8-5-2.3-11.6 3.9zM545.4 423.9l11.7-3.9-5-2.2-11.6 3.8zM872 316.8l5.8-1.9-4.9-2.2-5.8 1.9zM523 427.4l23.3-7.7-4.9-2.2-23.4 7.6zM518 425.1l11.7-3.8-4.9-2.2-11.7 3.8zM662 335.5l35-11.4-4.9-2.3-35 11.5zM645.4 337.1l17.5-5.7-4.9-2.3-17.5 5.8zM686.2 323.7l17.5-5.7-4.9-2.2-17.5 5.7zM634.6 336.8l11.7-3.8-4.9-2.3-11.7 3.8zM693 317.7l11.6-3.9-4.9-2.2-11.7 3.8zM629.7 334.5l5.8-1.9-4.9-2.2-5.8 1.9zM618.9 334.2l11.7-3.8-5-2.2-11.6 3.8zM444.9 387.4l29.1-9.6-4.9-2.2-29.2 9.6zM614 332l11.6-3.8-4.9-2.3-11.7 3.8zM439.9 385.2l11.7-3.9-5-2.2-11.6 3.8zM463.2 377.5l17.5-5.7-4.9-2.3-17.5 5.8zM609 329.7l11.7-3.8-4.9-2.2-11.7 3.8zM470 371.5l11.6-3.9-4.9-2.2-11.7 3.8zM470.9 367.3l11.6-3.8-4.9-2.3-11.7 3.9zM471.8 363.2l5.8-2-4.9-2.2-5.9 1.9zM466.8 360.9l5.9-1.9-5-2.2-5.8 1.9zM461.9 358.7l5.8-1.9-4.9-2.3-5.9 1.9zM456.9 356.4l5.9-1.9-5-2.2-5.8 1.9z"/>
<path fill="#43b367" stroke="#43b367" d="M978.9 474.6l5.9-1.9-5-2.2-5.8 1.9zM1031.4 457.4l5.8-1.9-4.9-2.2-5.8 1.9zM974 472.4l5.8-1.9-4.9-2.3-5.8 1.9zM1026.5 455.2l5.8-1.9-4.9-2.3-5.9 1.9zM969.1 470.1l5.8-1.9-5-2.2-5.8 1.9zM1021.5 452.9l5.9-1.9-5-2.2-5.8 1.9zM964.1 467.9l5.8-1.9-4.9-2.3-5.8 2zM1016.6 450.7l5.8-1.9-4.9-2.3-5.8 2zM1162.4 402.9l5.8-1.9-4.9-2.2-5.8 1.9zM959.2 465.7l11.6-3.9-4.9-2.2-11.7 3.8zM1005.8 450.4l5.9-1.9-5-2.3-5.8 1.9zM1151.6 402.6l11.7-3.8-4.9-2.3-11.7 3.9zM960.1 461.5l11.6-3.8-4.9-2.3-11.7 3.9zM995.1 450l11.6-3.8-4.9-2.2-11.7 3.8zM1146.7 400.4l5.8-2-4.9-2.2-5.8 1.9zM966.8 455.4l23.3-7.6-4.9-2.2-23.3 7.6zM1141.8 398.1l5.8-1.9-5-2.2-5.8 1.9zM804.4 504.8l5.8-1.9-4.9-2.2-5.8 1.9zM1136.8 395.9l5.8-1.9-4.9-2.3-5.8 1.9zM805.3 500.7l5.8-2-4.9-2.2-5.8 1.9zM1131.9 393.6l5.8-1.9-4.9-2.2-5.9 1.9zM800.4 498.4l11.6-3.8-4.9-2.2-11.7 3.8zM1126.9 391.4l11.7-3.8-4.9-2.3-11.7 3.9zM801.2 494.3l5.9-1.9-5-2.3-5.8 1.9zM1127.8 387.3l11.7-3.9-4.9-2.2-11.7 3.8zM796.3 492l5.8-1.9-4.9-2.2-5.8 1.9zM1128.7 383.1l29.2-9.5-4.9-2.3-29.2 9.6zM791.4 489.8l5.8-1.9-4.9-2.3-5.9 2zM780.6 489.5l5.8-1.9-4.9-2.3-5.8 1.9zM729 502.5l11.7-3.8-5-2.2-11.6 3.8zM769.8 489.1l11.7-3.8-4.9-2.2-11.7 3.8zM729.9 498.4l11.7-3.9-5-2.2-11.6 3.8zM753.2 490.7l17.5-5.7-4.9-2.2-17.5 5.7zM736.6 492.3l17.5-5.7-4.9-2.3-17.5 5.8zM767.1 401.4l5.8-2-4.9-2.2-5.9 1.9zM763 395l23.3-7.7-4.9-2.2-23.3 7.6zM577.3 452l5.8-1.9-4.9-2.3-5.8 1.9zM572.4 449.7l17.4-5.7-4.9-2.2-17.5 5.7zM584.9 441.8l5.8-1.9-4.9-2.3-5.8 1.9zM585.8 437.6l5.8-1.9-4.9-2.2-5.8 1.9zM580.9 435.4l5.8-1.9-4.9-2.3-5.9 1.9zM925 322.6l5.8-1.9-5-2.2-5.8 1.9zM575.9 433.1l11.7-3.8-4.9-2.2-11.7 3.8zM902.5 326.1l5.9-1.9-5-2.2-5.8 1.9zM571 430.9l5.8-1.9-4.9-2.2-5.9 1.9zM891.7 325.8l5.9-1.9-5-2.3-5.8 2zM566 428.7l5.9-1.9-5-2.3-5.8 1.9zM886.8 323.6l5.8-2-4.9-2.2-5.8 1.9zM555.3 428.3l11.6-3.8-4.9-2.2-11.7 3.8zM881.9 321.3l11.6-3.8-4.9-2.2-11.7 3.8zM544.5 428l11.7-3.8-5-2.3-11.6 3.9zM882.8 317.2l5.8-1.9-4.9-2.3-5.9 1.9zM527.9 429.6l17.5-5.7-4.9-2.3-17.5 5.8zM662.9 331.4l23.3-7.7-4.9-2.2-23.3 7.6zM646.3 333l11.7-3.9-5-2.2-11.6 3.8zM681.3 321.5l11.7-3.8-5-2.3-11.7 3.9zM635.5 332.6l11.7-3.8-5-2.2-11.6 3.8zM682.2 317.3l5.8-1.9-4.9-2.2-5.9 1.9zM630.6 330.4l5.8-1.9-4.9-2.3-5.9 2zM625.6 328.2l5.9-2-5-2.2-5.8 1.9zM451.6 381.3l11.6-3.8-4.9-2.2-11.7 3.8zM620.7 325.9l11.7-3.8-5-2.2-11.6 3.8zM435 382.9l35-11.4-5-2.3-35 11.5zM459.2 371.1l11.7-3.8-5-2.2-11.6 3.8zM460.1 367l11.7-3.8-5-2.3-11.6 3.8zM461 362.8l5.8-1.9-4.9-2.2-5.8 1.9zM456.1 360.6l5.8-1.9-5-2.3-5.8 2zM451.1 358.4l5.8-2-4.9-2.2-5.8 1.9z"/>
<path fill="#4cb762" stroke="#4cb762" d="M984.8 472.7l5.8-1.9-4.9-2.3-5.9 2zM1025.6 459.3l5.8-1.9-4.9-2.2-5.9 1.9zM979.8 470.5l5.9-2-5-2.2-5.8 1.9zM1020.6 457.1l5.9-1.9-5-2.3-5.8 1.9zM974.9 468.2l5.8-1.9-4.9-2.2-5.9 1.9zM1015.7 454.8l5.8-1.9-4.9-2.2-5.8 1.9zM969.9 466l5.9-1.9-5-2.3-5.8 1.9zM1010.8 452.6l5.8-1.9-4.9-2.2-5.9 1.9zM970.8 461.8l5.9-1.9-5-2.2-5.8 1.9zM1000 452.3l5.8-1.9-4.9-2.3-5.8 1.9zM1163.3 398.8l5.8-1.9-4.9-2.3-5.8 1.9zM971.7 457.7l23.4-7.7-5-2.2-23.3 7.6zM1152.5 398.4l5.9-1.9-5-2.2-5.8 1.9zM1147.6 396.2l5.8-1.9-4.9-2.2-5.9 1.9zM1142.7 394l5.9-1.9-5-2.3-5.8 1.9zM793.6 504.5l11.7-3.8-4.9-2.3-11.7 3.8zM1137.7 391.7l5.8-1.9-4.9-2.2-5.8 1.9zM794.5 500.3l5.9-1.9-5-2.2-5.8 1.9zM1138.6 387.6l5.8-1.9-4.9-2.3-5.8 1.9zM795.4 496.2l5.8-1.9-4.9-2.3-5.8 1.9zM1139.5 383.4l23.3-7.6-4.9-2.2-23.3 7.6zM790.5 493.9l5.8-1.9-4.9-2.2-5.9 1.9zM785.5 491.7l5.9-1.9-5-2.2-5.8 1.9zM739.8 502.8l5.8-1.9-4.9-2.2-5.9 1.9zM774.8 491.4l5.8-1.9-4.9-2.3-5.9 1.9zM740.7 498.7l5.8-1.9-4.9-2.3-5.9 2zM764 491.1l5.8-2-4.9-2.2-5.8 1.9zM741.6 494.5l11.6-3.8-4.9-2.2-11.7 3.8zM782.8 403.9l5.8-1.9-4.9-2.2-5.9 1.9zM800.3 398.2l5.8-1.9-4.9-2.3-5.9 2zM567.4 447.5l17.5-5.7-4.9-2.3-17.5 5.8zM574.1 441.4l11.7-3.8-4.9-2.2-11.7 3.8zM575 437.3l5.9-1.9-5-2.3-5.8 1.9zM570.1 435.1l5.8-1.9-4.9-2.2-5.8 1.9zM565.2 432.8l5.8-1.9-5-2.2-5.8 1.9zM897.6 323.9l5.8-1.9-4.9-2.3-5.9 1.9zM560.2 430.6l5.8-1.9-4.9-2.3-5.8 1.9zM892.6 321.6l5.9-1.9-5-2.2-5.8 1.9zM549.4 430.2l5.9-1.9-5-2.2-5.8 1.9zM532.8 431.8l11.7-3.8-4.9-2.2-11.7 3.8zM658 329.1l23.3-7.6-5-2.2-23.3 7.6zM647.2 328.8l5.8-1.9-4.9-2.2-5.9 1.9zM676.3 319.3l5.9-2-5-2.2-5.8 1.9zM636.4 328.5l5.8-1.9-4.9-2.3-5.8 1.9zM631.5 326.2l5.8-1.9-4.9-2.2-5.9 1.9zM632.4 322.1l5.8-1.9-4.9-2.3-5.9 2zM435.9 378.8l5.8-1.9-4.9-2.3-5.9 1.9zM447.5 375l11.7-3.9-4.9-2.2-11.7 3.8zM454.3 368.9l5.8-1.9-4.9-2.3-5.9 2zM455.2 364.7l5.8-1.9-4.9-2.2-5.9 1.9zM450.2 362.5l5.9-1.9-5-2.2-5.8 1.9zM445.3 360.3l5.8-1.9-4.9-2.3-5.9 1.9z"/>
<path fill="#62be55" stroke="#62be55" d="M990.6 470.8l5.8-1.9-4.9-2.3-5.8 1.9zM985.7 468.5l5.8-1.9-5-2.2-5.8 1.9zM1014.8 459l5.8-1.9-4.9-2.3-5.8 2zM980.7 466.3l5.8-1.9-4.9-2.2-5.8 1.9zM981.6 462.2l5.8-2-4.9-2.2-5.8 1.9zM999.1 456.4l5.8-1.9-4.9-2.2-5.8 1.9zM1149.4 387.9l5.8-1.9-4.9-2.2-5.9 1.9zM1150.3 383.8l11.6-3.9-4.9-2.2-11.7 3.8zM773.9 495.5l5.8-1.9-4.9-2.2-5.9 1.9zM751.4 499l5.9-1.9-5-2.2-5.8 1.9zM763.1 495.2l5.8-1.9-4.9-2.2-5.8 1.9zM777.8 401.7l5.9-1.9-5-2.3-5.8 1.9zM795.3 396l5.9-2-5-2.2-5.8 1.9zM772.9 399.4l5.8-1.9-4.9-2.2-5.8 1.9zM790.4 393.7l5.8-1.9-4.9-2.2-5.8 1.9zM768 397.2l5.8-1.9-5-2.2-5.8 1.9zM785.5 391.5l5.8-1.9-5-2.3-5.8 1.9zM562.5 445.3l5.8-2-4.9-2.2-5.9 1.9zM564.3 437l5.8-2-4.9-2.2-5.9 1.9zM559.3 434.7l5.9-1.9-5-2.2-5.8 1.9zM903.4 322l5.8-1.9-4.9-2.3-5.8 1.9zM537.8 434.1l5.8-1.9-4.9-2.3-5.9 1.9zM648.1 324.7l5.8-1.9-4.9-2.3-5.9 1.9zM665.6 318.9l5.8-1.9-4.9-2.2-5.9 1.9zM637.3 324.3l5.8-1.9-4.9-2.2-5.8 1.9zM633.3 317.9l5.8-1.9-4.9-2.2-5.9 1.9zM430.9 376.5l17.5-5.7-4.9-2.2-17.5 5.7z"/>
<path fill="#7ac546" stroke="#7ac546" d="M996.4 468.9l5.9-1.9-5-2.3-5.8 1.9zM1013.9 463.1l5.9-1.9-5-2.2-5.8 1.9zM986.5 464.4l5.9-1.9-5-2.3-5.8 2zM1004 458.7l5.9-1.9-5-2.3-5.8 1.9zM1159.3 392.4l5.8-1.9-5-2.3-5.8 1.9zM1154.3 390.1l5.8-1.9-4.9-2.2-5.8 1.9zM1155.2 386l5.8-1.9-4.9-2.3-5.8 2zM777 506.1l5.9-1.9-5-2.3-5.8 1.9zM768 497.4l5.9-1.9-5-2.2-5.8 1.9zM773.8 395.3l11.7-3.8-5-2.3-11.7 3.9zM909.2 320.1l5.9-1.9-5-2.3-5.8 1.9zM542.7 436.3l5.9-1.9-5-2.2-5.8 1.9zM643.1 322.4l5.9-1.9-5-2.2-5.8 1.9zM660.6 316.7l5.9-1.9-5-2.3-5.8 2zM426 374.3l5.8-1.9-4.9-2.3-5.8 2zM438.6 366.3l5.8-1.9-5-2.2-5.8 1.9z"/>
<path fill="#92ca37" stroke="#92ca37" d="M1002.3 467l11.6-3.9-4.9-2.2-11.7 3.8zM992.4 462.5l11.6-3.8-4.9-2.3-11.7 3.8zM766.3 505.7l5.8-1.9-5-2.2-5.8 1.9zM773 499.7l5.8-1.9-4.9-2.3-5.9 1.9zM762.2 499.3l5.8-1.9-4.9-2.2-5.8 1.9zM649 320.5l11.6-3.8-4.9-2.2-11.7 3.8zM421.1 372.1l5.8-2-4.9-2.2-5.9 1.9z"/>
<path fill="#58bb5b" stroke="#58bb5b" d="M1019.8 461.2l5.8-1.9-5-2.2-5.8 1.9zM1009.9 456.8l5.8-2-4.9-2.2-5.9 1.9zM975.8 464.1l5.8-1.9-4.9-2.3-5.9 1.9zM1004.9 454.5l5.9-1.9-5-2.2-5.8 1.9zM976.7 459.9l23.3-7.6-4.9-2.3-23.4 7.7zM1158.4 396.5l5.8-1.9-4.9-2.2-5.9 1.9zM1153.4 394.3l5.9-1.9-5-2.3-5.8 2zM1148.5 392.1l5.8-2-4.9-2.2-5.9 1.9zM787.8 506.4l5.8-1.9-4.9-2.3-5.8 2zM1143.5 389.8l5.9-1.9-5-2.2-5.8 1.9zM788.7 502.2l5.8-1.9-4.9-2.2-5.9 1.9zM1144.4 385.7l5.9-1.9-5-2.3-5.8 1.9zM1161.9 379.9l5.9-1.9-5-2.2-5.8 1.9zM789.6 498.1l5.8-1.9-4.9-2.3-5.9 2zM784.6 495.9l5.9-2-5-2.2-5.8 1.9zM744.7 505.1l5.8-1.9-4.9-2.3-5.8 1.9zM779.7 493.6l5.8-1.9-4.9-2.2-5.8 1.9zM745.6 500.9l5.8-1.9-4.9-2.2-5.8 1.9zM768.9 493.3l5.9-1.9-5-2.3-5.8 2zM746.5 496.8l17.5-5.7-4.9-2.3-17.5 5.7zM788.6 402l11.7-3.8-5-2.2-11.6 3.8zM568.3 443.3l5.8-1.9-4.9-2.2-5.8 1.9zM569.2 439.2l5.8-1.9-4.9-2.3-5.8 2zM908.3 324.2l5.8-1.9-5-2.2-5.8 1.9zM554.4 432.5l5.8-1.9-4.9-2.3-5.9 1.9zM898.5 319.7l5.8-1.9-4.9-2.2-5.9 1.9zM543.6 432.2l5.8-2-4.9-2.2-5.8 1.9zM653 326.9l23.3-7.6-4.9-2.3-23.3 7.7zM642.2 326.6l5.9-1.9-5-2.3-5.8 1.9zM671.4 317l5.8-1.9-4.9-2.2-5.8 1.9zM441.7 376.9l5.8-1.9-4.9-2.3-5.8 1.9zM448.4 370.8l5.9-1.9-5-2.2-5.8 1.9zM449.3 366.7l5.9-2-5-2.2-5.8 1.9zM444.4 364.4l5.8-1.9-4.9-2.2-5.9 1.9zM439.4 362.2l5.9-1.9-5-2.3-5.8 1.9z"/>
<path fill="#219d7a" stroke="#219d7a" d="M1066.4 445.9l5.8-1.9-4.9-2.2-5.8 1.9zM1061.5 443.7l5.8-1.9-4.9-2.2-5.9 1.9zM1119.8 424.6l5.8-1.9-4.9-2.3-5.8 2zM928.2 483.5l5.9-1.9-5-2.2-5.8 1.9zM1056.5 441.5l5.9-1.9-5-2.3-5.8 1.9zM1109 424.3l5.9-1.9-5-2.3-5.8 1.9zM1051.6 439.2l5.8-1.9-4.9-2.2-5.8 1.9zM1104.1 422l5.8-1.9-4.9-2.2-5.9 1.9zM871.7 494.3l5.8-1.9-4.9-2.2-5.8 1.9zM1046.7 437l5.8-1.9-4.9-2.3-5.9 2zM1099.1 419.8l5.9-1.9-5-2.3-5.8 2zM866.8 492.1l5.8-1.9-4.9-2.3-5.9 1.9zM919.2 474.9l5.9-1.9-5-2.3-5.8 1.9zM1041.7 434.8l5.9-2-5-2.2-5.8 1.9zM1094.2 417.6l5.8-2-4.9-2.2-5.8 1.9zM1036.8 432.5l5.8-1.9-4.9-2.2-5.9 1.9zM1089.3 415.3l5.8-1.9-4.9-2.2-5.9 1.9zM862.7 485.7l5.8-1.9-4.9-2.3-5.8 2zM1031.8 430.3l5.9-1.9-5-2.3-5.8 1.9zM1084.3 413.1l5.9-1.9-5-2.3-5.8 1.9zM857.8 483.5l5.8-2-4.9-2.2-5.9 1.9zM910.3 466.3l5.8-2-4.9-2.2-5.9 1.9zM1026.9 428l5.8-1.9-4.9-2.2-5.8 1.9zM1022 425.8l5.8-1.9-4.9-2.2-5.9 1.9zM1068.6 410.5l5.9-1.9-5-2.2-5.8 1.9zM853.7 477.1l5.9-1.9-5-2.3-5.8 1.9zM1017 423.6l5.9-1.9-5-2.3-5.8 1.9zM1063.7 408.3l5.8-1.9-4.9-2.3-5.9 1.9zM848.8 474.8l5.8-1.9-4.9-2.2-5.8 1.9zM901.3 457.6l5.8-1.9-4.9-2.2-5.9 1.9zM1012.1 421.3l5.8-1.9-4.9-2.2-5.8 1.9zM1058.7 406l5.9-1.9-5-2.2-5.8 1.9zM843.9 472.6l5.8-1.9-4.9-2.3-5.9 2zM896.3 455.4l5.9-1.9-5-2.3-5.8 2zM1007.2 419.1l5.8-1.9-5-2.3-5.8 1.9zM1053.8 403.8l5.8-1.9-4.9-2.3-5.8 2zM838.9 470.4l5.9-2-5-2.2-5.8 1.9zM1002.2 416.8l5.8-1.9-4.9-2.2-5.8 1.9zM1048.9 401.6l5.8-2-4.9-2.2-5.9 1.9zM839.8 466.2l5.8-1.9-4.9-2.2-5.8 1.9zM892.3 449l5.8-1.9-4.9-2.2-5.8 1.9zM997.3 414.6l5.8-1.9-4.9-2.2-5.9 1.9zM1043.9 399.3l5.9-1.9-5-2.2-5.8 1.9zM834.9 464l5.8-1.9-4.9-2.3-5.9 1.9zM893.2 444.9l11.7-3.9-5-2.2-11.6 3.8zM986.5 414.3l5.8-1.9-4.9-2.3-5.8 1.9zM1039 397.1l5.8-1.9-4.9-2.3-5.8 1.9zM829.9 461.7l5.9-1.9-5-2.2-5.8 1.9zM899.9 438.8l35-11.5-4.9-2.2-35 11.5zM981.6 412l5.8-1.9-4.9-2.2-5.9 1.9zM1034.1 394.8l11.6-3.8-4.9-2.2-11.7 3.8zM819.2 461.4l11.6-3.8-4.9-2.3-11.7 3.9zM930 425.1l52.5-17.2-5-2.2-52.5 17.2zM1029.1 392.6l11.7-3.8-5-2.3-11.6 3.9zM808.4 461.1l11.7-3.8-5-2.3-11.6 3.8zM1024.2 390.4l11.6-3.9-4.9-2.2-11.7 3.8zM803.5 458.8l5.8-1.9-4.9-2.2-5.9 1.9zM1019.2 388.1l17.5-5.7-4.9-2.2-17.5 5.7zM792.7 458.5l5.8-1.9-4.9-2.2-5.8 1.9zM1026 382.1l17.5-5.8-5-2.2-17.5 5.7zM781.9 458.2l5.9-1.9-5-2.3-5.8 1.9zM1032.7 376l23.3-7.6-4.9-2.3-23.3 7.7zM765.3 459.8l11.7-3.9-5-2.2-11.6 3.8zM1051.1 366.1l17.5-5.7-5-2.2-17.5 5.7zM754.5 459.4l11.7-3.8-4.9-2.2-11.7 3.8zM812.9 440.3l5.8-1.9-4.9-2.2-5.9 1.9zM1063.6 358.2l23.4-7.7-5-2.2-23.3 7.6zM668 484l5.8-2-4.9-2.2-5.9 1.9zM743.8 459.1l11.6-3.8-4.9-2.2-11.7 3.8zM802.1 440l11.7-3.8-5-2.3-11.6 3.9zM674.7 477.9l17.5-5.7-5-2.3-17.5 5.8zM733 458.8l5.8-1.9-4.9-2.3-5.8 2zM785.5 441.6l17.5-5.7-4.9-2.3-17.5 5.8zM908 401.5l23.3-7.7-4.9-2.2-23.4 7.6zM687.2 469.9l40.9-13.3-5-2.3-40.8 13.4zM774.7 441.3l23.4-7.7-5-2.2-23.3 7.6zM908.9 397.3l17.5-5.7-5-2.3-17.5 5.8zM764 440.9l23.3-7.6-5-2.2-23.3 7.6zM973.9 372.1l17.5-5.7-4.9-2.2-17.5 5.7zM753.2 440.6l11.6-3.8-4.9-2.3-11.7 3.9zM770.7 434.9l5.8-1.9-4.9-2.3-5.9 1.9zM969 369.9l52.5-17.2-5-2.2-52.5 17.2zM748.2 438.4l23.4-7.7-5-2.2-23.3 7.6zM964 367.7l5.9-1.9-5-2.3-5.8 1.9zM1016.5 350.5l23.3-7.7-4.9-2.2-23.3 7.6zM749.1 434.2l11.7-3.8-4.9-2.2-11.7 3.8zM959.1 365.4l5.8-1.9-4.9-2.2-5.8 1.9zM954.2 363.2l5.8-1.9-5-2.3-5.8 2zM617.7 465.7l5.8-1.9-4.9-2.2-5.9 1.9zM624.4 459.7l5.8-1.9-4.9-2.3-5.8 1.9zM631.1 453.6l5.9-1.9-5-2.2-5.8 1.9zM771.1 407.7l5.8-1.9-4.9-2.2-5.8 1.9zM766.2 405.5l5.8-1.9-4.9-2.2-5.9 1.9zM638.8 443.4l5.8-1.9-4.9-2.3-5.9 2zM761.2 403.3l5.9-1.9-5-2.3-5.8 1.9zM918.7 351.7l5.8-1.9-4.9-2.3-5.8 1.9zM756.3 401l5.8-1.9-4.9-2.2-5.8 1.9zM925.4 345.6l5.9-1.9-5-2.2-5.8 1.9zM640.5 435.1l5.9-1.9-5-2.2-5.8 1.9zM938 337.6l5.8-1.9-4.9-2.2-5.9 1.9zM641.4 431l5.9-2-5-2.2-5.8 1.9zM950.5 329.7l5.9-1.9-5-2.3-5.8 1.9zM637.4 424.6l5.8-1.9-4.9-2.3-5.8 1.9zM638.3 420.4l5.8-1.9-4.9-2.2-5.8 1.9zM634.2 414l5.9-1.9-5-2.2-5.8 1.9zM855.9 341.4l5.8-1.9-4.9-2.2-5.9 1.9zM629.3 411.8l5.8-1.9-4.9-2.3-5.8 2zM850.9 339.2l5.9-1.9-5-2.3-5.8 1.9zM624.4 409.6l5.8-2-4.9-2.2-5.9 1.9zM619.4 407.3l5.9-1.9-5-2.2-5.8 1.9zM835.2 336.6l5.8-1.9-4.9-2.2-5.8 1.9zM614.5 405.1l5.8-1.9-4.9-2.3-5.8 1.9zM819.5 334l5.8-1.9-4.9-2.2-5.8 1.9zM814.6 331.8l5.8-1.9-4.9-2.2-5.9 1.9zM599.7 398.4l5.8-1.9-4.9-2.3-5.9 1.9zM809.6 329.6l5.9-1.9-5-2.3-5.8 1.9zM594.7 396.1l5.9-1.9-5-2.2-5.8 1.9zM810.5 325.4l5.9-1.9-5-2.2-5.8 1.9zM578.1 397.7l11.7-3.8-4.9-2.3-11.7 3.9zM805.6 323.2l5.8-1.9-4.9-2.3-5.9 1.9zM555.7 401.2l23.3-7.6-4.9-2.3-23.3 7.7zM806.5 319l5.8-1.9-4.9-2.2-5.9 1.9zM533.3 404.7l17.5-5.7-5-2.3-17.5 5.8zM807.4 314.9l5.8-1.9-4.9-2.3-5.9 1.9zM493.3 413.9l29.2-9.5-4.9-2.3-29.2 9.6zM691.6 349l70-23-4.9-2.2-70 22.9zM640 362l23.4-7.6-5-2.3-23.3 7.7zM756.7 323.8l11.6-3.8-4.9-2.3-11.7 3.8zM611.8 367.4l17.5-5.7-5-2.3-17.5 5.8zM757.6 319.6l11.6-3.8-4.9-2.2-11.7 3.8zM606.8 365.2l5.9-1.9-5-2.3-5.8 1.9zM758.5 315.5l5.8-1.9-4.9-2.3-5.9 1.9zM601.9 362.9l5.8-1.9-4.9-2.2-5.8 1.9zM486.1 397l64.2-21-4.9-2.3-64.2 21.1zM597 360.7l5.8-1.9-5-2.3-5.8 2zM539.5 375.7l17.5-5.8-4.9-2.2-17.5 5.7zM592 358.5l5.8-2-4.9-2.2-5.8 1.9zM546.3 369.6l5.8-1.9-4.9-2.3-5.9 2zM587.1 356.2l5.8-1.9-4.9-2.2-5.9 1.9zM541.3 367.4l5.9-2-5-2.2-5.8 1.9zM582.1 354l5.9-1.9-5-2.3-5.8 1.9zM542.2 363.2l5.8-1.9-4.9-2.2-5.8 1.9zM577.2 351.7l5.8-1.9-4.9-2.2-5.8 1.9zM537.3 361l5.8-1.9-4.9-2.3-5.9 1.9zM572.3 349.5l5.8-1.9-4.9-2.2-5.9 1.9zM532.3 358.7l5.9-1.9-5-2.2-5.8 1.9zM567.3 347.3l5.9-1.9-5-2.3-5.8 1.9zM527.4 356.5l5.8-1.9-4.9-2.3-5.8 2zM563.3 340.9l5.8-1.9-4.9-2.3-5.9 1.9zM609.9 325.6l5.9-1.9-5-2.3-5.8 2zM523.4 350.1l5.8-1.9-5-2.2-5.8 1.9zM558.3 338.6l5.9-1.9-5-2.2-5.8 1.9zM518.4 347.9l5.8-1.9-4.9-2.3-5.8 1.9zM553.4 336.4l5.8-1.9-4.9-2.2-5.8 1.9zM513.5 345.6l5.8-1.9-4.9-2.2-5.9 1.9zM548.5 334.2l5.8-1.9-4.9-2.3-5.9 1.9zM508.5 343.4l5.9-1.9-5-2.3-5.8 2z"/>
<path fill="#1d8b82" stroke="#1d8b82" d="M1072.2 444l5.9-1.9-5-2.2-5.8 1.9zM1067.3 441.8l5.8-1.9-4.9-2.3-5.8 2zM1096.5 432.2l5.8-1.9-4.9-2.2-5.9 1.9zM1062.4 439.6l5.8-2-4.9-2.2-5.9 1.9zM1091.5 430l5.9-1.9-5-2.2-5.8 1.9zM882.5 494.6l5.8-1.9-4.9-2.2-5.9 1.9zM1057.4 437.3l5.9-1.9-5-2.2-5.8 1.9zM1086.6 427.8l5.8-1.9-4.9-2.3-5.9 1.9zM1081.6 425.5l5.9-1.9-5-2.2-5.8 1.9zM873.5 486l5.8-1.9-4.9-2.2-5.9 1.9zM904.4 468.2l5.9-1.9-5-2.3-5.8 1.9zM860.5 471l5.8-1.9-4.9-2.2-5.9 1.9zM895.5 459.5l5.9-1.9-5-2.2-5.8 1.9zM1017.9 419.4l5.9-1.9-5-2.2-5.8 1.9zM1013 417.2l5.8-1.9-4.9-2.3-5.9 1.9zM1008 414.9l5.9-1.9-5-2.2-5.8 1.9zM851.5 462.4l5.8-1.9-4.9-2.3-5.9 1.9zM1003.1 412.7l5.8-1.9-4.9-2.2-5.8 1.9zM881.5 448.7l5.9-1.9-5-2.3-5.8 1.9zM998.2 410.5l5.8-1.9-4.9-2.3-5.9 1.9zM993.2 408.2l5.9-1.9-5-2.2-5.8 1.9zM842.5 453.8l5.8-2-4.9-2.2-5.8 1.9zM877.5 442.3l5.8-1.9-4.9-2.3-5.9 2zM988.3 406l5.8-1.9-4.9-2.3-5.8 1.9zM837.6 451.5l5.8-1.9-5-2.2-5.8 1.9zM983.4 403.7l5.8-1.9-5-2.2-5.8 1.9zM838.4 447.4l5.9-1.9-5-2.3-5.8 1.9zM873.4 435.9l17.5-5.7-4.9-2.3-17.5 5.8zM978.4 401.5l5.8-1.9-4.9-2.2-5.8 1.9zM1007.6 392l5.8-2-4.9-2.2-5.9 1.9zM868.5 433.7l11.7-3.9-5-2.2-11.6 3.8zM1002.6 389.7l5.9-1.9-5-2.2-5.8 1.9zM869.4 429.5l5.8-1.9-4.9-2.2-5.8 1.9zM939.4 406.6l29.1-9.6-4.9-2.2-29.2 9.6zM870.3 425.4l5.8-1.9-4.9-2.3-5.8 1.9zM946.1 400.5l17.5-5.7-4.9-2.2-17.5 5.7zM998.6 383.3l5.8-1.9-4.9-2.2-5.8 1.9zM952.8 394.5l5.9-1.9-5-2.3-5.8 1.9zM993.7 381.1l17.5-5.7-5-2.3-17.5 5.8zM819.6 434.3l5.8-1.9-4.9-2.3-5.8 1.9zM877.9 415.2l5.8-1.9-4.9-2.3-5.8 1.9zM988.7 378.9l5.9-2-5-2.2-5.8 1.9zM1000.4 375l23.3-7.6-4.9-2.2-23.4 7.6zM884.6 409.1l5.9-1.9-5-2.2-5.8 1.9zM1030.4 361.3l5.9-1.9-5-2.2-5.8 1.9zM938 387.8l5.9-2-5-2.2-5.8 1.9zM793.1 431.4l5.8-1.9-4.9-2.3-5.8 1.9zM933.1 385.5l5.8-1.9-4.9-2.2-5.9 1.9zM683.2 463.5l5.8-1.9-4.9-2.2-5.8 1.9zM724 450.2l11.7-3.9-4.9-2.2-11.7 3.8zM899 392.8l5.8-1.9-4.9-2.2-5.9 1.9zM928.1 383.3l5.9-1.9-5-2.3-5.8 1.9zM957.3 373.7l5.8-1.9-4.9-2.2-5.8 1.9zM695.8 455.6l11.6-3.9-4.9-2.2-11.7 3.8zM713.3 449.8l17.5-5.7-5-2.2-17.5 5.7zM952.4 371.5l5.8-1.9-4.9-2.3-5.9 1.9zM720 443.8l5.8-1.9-4.9-2.3-5.9 1.9zM766.6 428.5l5.9-1.9-5-2.3-5.8 2zM720.9 439.6l5.8-1.9-4.9-2.2-5.9 1.9zM622.6 468l5.9-1.9-5-2.3-5.8 1.9zM733.4 431.7l11.7-3.9-4.9-2.2-11.7 3.8zM750.9 425.9l5.9-1.9-5-2.2-5.8 1.9zM629.4 461.9l5.8-1.9-5-2.2-5.8 1.9zM781 412.2l5.8-1.9-4.9-2.2-5.9 1.9zM821.8 398.8l5.8-1.9-4.9-2.2-5.8 1.9zM636.1 455.8l5.8-1.9-4.9-2.2-5.9 1.9zM927.7 360.3l5.8-1.9-4.9-2.3-5.9 2zM642.8 449.8l5.8-1.9-4.9-2.3-5.8 1.9zM907.9 351.3l5.9-1.9-5-2.2-5.8 1.9zM652.2 431.3l5.8-1.9-4.9-2.3-5.8 1.9zM920.5 343.4l5.8-1.9-4.9-2.3-5.9 1.9zM653.1 427.1l5.8-1.9-4.9-2.2-5.8 1.9zM933 335.4l5.9-1.9-5-2.2-5.8 1.9zM654 423l5.8-1.9-4.9-2.3-5.8 1.9zM753.1 390.5l23.4-7.7-5-2.2-23.3 7.7zM654.9 418.8l5.8-1.9-4.9-2.2-5.8 1.9zM672.4 413.1l17.5-5.7-5-2.3-17.5 5.8zM655.8 414.7l11.6-3.8-4.9-2.3-11.7 3.8zM679.1 407l5.8-1.9-4.9-2.2-5.8 1.9zM668.3 406.7l5.9-1.9-5-2.2-5.8 1.9zM651.7 408.3l11.7-3.8-4.9-2.3-11.7 3.9zM646.8 406.1l5.8-2-4.9-2.2-5.8 1.9zM641.9 403.8l5.8-1.9-4.9-2.2-5.9 1.9zM636.9 401.6l5.9-1.9-5-2.3-5.8 1.9zM632 399.3l5.8-1.9-4.9-2.2-5.8 1.9zM818.6 338.2l5.8-1.9-4.9-2.3-5.8 2zM802.9 335.6l5.8-1.9-4.9-2.2-5.8 1.9zM798 333.4l5.8-1.9-4.9-2.3-5.9 2zM793 331.2l5.9-2-5-2.2-5.8 1.9zM601.5 390.1l5.8-1.9-4.9-2.3-5.9 1.9zM788.1 328.9l5.8-1.9-4.9-2.2-5.8 1.9zM777.3 328.6l11.7-3.8-5-2.3-11.6 3.8zM585.8 387.5l5.8-1.9-4.9-2.2-5.9 1.9zM684.9 355l11.7-3.8-5-2.2-11.6 3.8zM621.6 371.9l17.5-5.7-4.9-2.3-17.5 5.7zM570.1 384.9l5.8-1.9-5-2.2-5.8 1.9zM605 373.5l5.9-1.9-5-2.3-5.8 1.9zM570.9 380.8l5.9-1.9-5-2.3-5.8 1.9zM571.8 376.6l5.9-1.9-5-2.2-5.8 1.9zM589.3 370.9l5.9-1.9-5-2.2-5.8 1.9zM572.7 372.5l17.5-5.7-4.9-2.3-17.5 5.7zM567.8 370.2l11.7-3.8-5-2.2-11.6 3.8zM568.7 366.1l5.8-1.9-4.9-2.2-5.8 1.9zM627.4 319.9l5.9-2-5-2.2-5.8 1.9z"/>
<path fill="#257384" stroke="#257384" d="M1078.1 442.1l5.8-1.9-4.9-2.2-5.9 1.9zM1073.1 439.9l5.9-1.9-5-2.3-5.8 1.9zM1068.2 437.6l5.8-1.9-4.9-2.2-5.8 1.9zM870.3 475.5l5.9-1.9-5-2.3-5.8 1.9zM1023.8 417.5l5.8-1.9-5-2.2-5.8 1.9zM1035.4 413.7l5.8-1.9-4.9-2.3-5.8 1.9zM1018.8 415.3l5.8-1.9-4.9-2.3-5.8 1.9zM885.6 455.1l5.8-1.9-4.9-2.3-5.9 1.9zM1013.9 413l5.8-1.9-4.9-2.2-5.9 1.9zM857.3 460.5l5.8-1.9-4.9-2.3-5.8 1.9zM1008.9 410.8l5.9-1.9-5-2.3-5.8 2zM996.8 391.6l5.8-1.9-4.9-2.2-5.8 1.9zM991.9 389.4l5.8-1.9-4.9-2.3-5.9 2zM859.5 425l5.9-1.9-5-2.2-5.8 1.9zM867.1 414.8l5.9-1.9-5-2.2-5.8 1.9zM809.7 429.8l5.8-1.9-4.9-2.3-5.8 2zM873.9 408.8l5.8-1.9-4.9-2.3-5.9 1.9zM934 381.4l5.8-1.9-4.9-2.3-5.9 1.9zM783.2 426.9l5.9-1.9-5-2.2-5.8 1.9zM888.2 392.5l5.8-1.9-4.9-2.2-5.8 1.9zM900.8 384.5l5.8-1.9-4.9-2.2-5.9 1.9zM691.7 449.2l5.8-1.9-4.9-2.3-5.8 1.9zM942.5 367l5.8-1.9-4.9-2.2-5.8 1.9zM704.3 441.2l5.8-1.9-4.9-2.2-5.9 1.9zM785.9 414.5l11.7-3.9-5-2.2-11.6 3.8zM820.9 403l11.7-3.8-5-2.3-11.6 3.9zM937.6 364.8l5.8-1.9-5-2.3-5.8 1.9zM716.8 433.2l5.9-1.9-5-2.2-5.8 1.9zM751.8 421.8l5.9-1.9-5-2.3-5.8 1.9zM741.1 421.4l5.8-1.9-5-2.2-5.8 1.9zM741.9 417.3l5.9-1.9-5-2.2-5.8 1.9zM916.9 360l5.8-1.9-4.9-2.3-5.8 1.9zM912 357.7l5.8-1.9-4.9-2.2-5.9 1.9zM662.1 435.8l5.8-2-4.9-2.2-5.9 1.9zM727.1 410.6l5.9-1.9-5-2.3-5.8 1.9zM896.3 355.2l5.8-1.9-4.9-2.3-5.9 1.9zM670.6 421.4l23.3-7.6-4.9-2.3-23.3 7.7zM915.5 341.1l5.9-1.9-5-2.2-5.8 1.9zM922.3 335.1l5.8-1.9-4.9-2.3-5.9 1.9zM695.7 405.5l5.8-2-4.9-2.2-5.8 1.9zM754 386.3l11.7-3.8-4.9-2.2-11.7 3.8zM864.8 350l5.9-1.9-5-2.2-5.8 1.9zM894 340.5l23.3-7.7-4.9-2.2-23.3 7.6zM849.1 347.5l5.9-1.9-5-2.3-5.8 1.9zM675.1 400.7l5.8-2-4.9-2.2-5.9 1.9zM659.4 398.1l5.8-1.9-4.9-2.3-5.9 1.9zM643.7 395.5l5.8-1.9-5-2.2-5.8 1.9zM797.1 337.5l5.8-1.9-4.9-2.2-5.9 1.9zM623 390.7l5.8-1.9-4.9-2.2-5.8 1.9zM770.6 334.6l5.8-1.9-4.9-2.2-5.8 1.9zM684 359.2l17.5-5.8-4.9-2.2-17.5 5.7zM609.1 379.9l23.3-7.7-4.9-2.2-23.3 7.6zM598.3 379.5l5.9-1.9-5-2.2-5.8 1.9zM599.2 325.3l11.6-3.9-4.9-2.2-11.7 3.8z"/>
<path fill="#276f84" stroke="#276f84" d="M1083.9 440.2l5.8-1.9-4.9-2.2-5.8 1.9zM1079 438l5.8-1.9-4.9-2.3-5.9 1.9zM1074 435.7l5.9-1.9-5-2.2-5.8 1.9zM1069.1 433.5l5.8-1.9-4.9-2.3-5.8 2zM1064.2 431.3l5.8-2-5-2.2-5.8 1.9zM1059.2 429l5.8-1.9-4.9-2.2-5.8 1.9zM879.3 484.1l5.8-1.9-4.9-2.2-5.8 1.9zM1054.3 426.8l5.8-1.9-4.9-2.3-5.9 1.9zM1049.3 424.5l5.9-1.9-5-2.2-5.8 1.9zM1044.4 422.3l5.8-1.9-4.9-2.2-5.8 1.9zM1039.5 420.1l5.8-1.9-4.9-2.3-5.9 1.9zM1030.5 411.4l5.8-1.9-4.9-2.2-5.9 1.9zM1025.5 409.2l5.9-1.9-5-2.2-5.8 1.9zM1004 408.6l5.8-2-4.9-2.2-5.8 1.9zM999.1 406.3l5.8-1.9-4.9-2.2-5.9 1.9zM871.7 444.2l5.8-1.9-5-2.2-5.8 1.9zM994.1 404.1l5.9-1.9-5-2.3-5.8 1.9zM989.2 401.8l5.8-1.9-4.9-2.2-5.9 1.9zM984.2 399.6l5.9-1.9-5-2.3-5.8 2zM979.3 397.4l5.8-2-4.9-2.2-5.8 1.9zM857.7 433.3l5.9-1.9-5-2.2-5.8 1.9zM974.4 395.1l5.8-1.9-4.9-2.2-5.9 1.9zM969.4 392.9l5.9-1.9-5-2.3-5.8 1.9zM986.9 387.2l5.9-2-5-2.2-5.8 1.9zM853.7 427l5.8-2-4.9-2.2-5.8 1.9zM982 384.9l5.8-1.9-4.9-2.2-5.8 1.9zM860.4 420.9l5.8-1.9-4.9-2.3-5.8 2zM868 410.7l5.9-1.9-5-2.3-5.8 1.9zM874.8 404.6l5.8-1.9-4.9-2.2-5.9 1.9zM794 427.2l5.8-1.9-4.9-2.2-5.8 1.9zM881.5 398.6l5.8-1.9-4.9-2.3-5.8 1.9zM946.5 373.4l5.9-1.9-5-2.3-5.8 2zM679.2 457.2l5.8-2-5-2.2-5.8 1.9zM894.9 386.4l5.9-1.9-5-2.2-5.8 1.9zM685.9 451.1l5.8-1.9-4.9-2.3-5.9 2zM767.5 424.3l5.9-1.9-5-2.2-5.8 1.9zM796.7 414.8l35-11.5-5-2.2-34.9 11.4zM907.5 378.5l5.8-1.9-4.9-2.3-5.8 1.9zM698.4 443.1l5.9-1.9-5-2.2-5.8 1.9zM832.6 399.2l5.8-1.9-4.9-2.3-5.9 1.9zM711 435.2l5.8-2-4.9-2.2-5.8 1.9zM647.7 452l5.9-1.9-5-2.2-5.8 1.9zM729.4 425.3l11.7-3.9-5-2.2-11.7 3.8zM828.5 392.8l5.9-1.9-5-2.3-5.8 1.9zM654.5 446l5.8-1.9-4.9-2.3-5.9 1.9zM823.6 390.5l5.8-1.9-4.9-2.2-5.8 1.9zM737 415.1l5.8-1.9-4.9-2.3-5.8 1.9zM818.7 388.3l11.6-3.8-4.9-2.3-11.7 3.9zM732.1 412.8l5.8-1.9-4.9-2.2-5.9 1.9zM813.7 386.1l11.7-3.9-5-2.2-11.6 3.8zM663 431.6l5.8-1.9-4.9-2.2-5.9 1.9zM808.8 383.8l5.8-1.9-4.9-2.2-5.9 1.9zM663.9 427.5l5.8-2-4.9-2.2-5.9 1.9zM722.2 408.3l5.8-1.9-4.9-2.2-5.8 1.9zM803.8 381.6l5.9-1.9-5-2.3-5.8 2zM903 349.1l5.8-1.9-4.9-2.2-5.9 1.9zM693.9 413.8l5.9-2-5-2.2-5.8 1.9zM798.9 379.4l5.8-2-4.9-2.2-5.8 1.9zM706.5 405.8l5.8-1.9-4.9-2.3-5.9 1.9zM916.4 337l5.9-1.9-5-2.3-5.8 1.9zM736.5 392.1l17.5-5.8-4.9-2.2-17.5 5.7zM765.7 382.5l17.5-5.7-4.9-2.2-17.5 5.7zM690.8 403.2l5.8-1.9-4.9-2.2-5.9 1.9zM743.3 386l23.3-7.6-4.9-2.3-23.4 7.7zM833.4 344.9l5.9-1.9-5-2.2-5.8 1.9zM817.7 342.3l5.9-1.9-5-2.2-5.8 1.9zM618.1 388.5l5.8-1.9-4.9-2.3-5.9 1.9zM781.4 335l5.8-1.9-4.9-2.3-5.9 1.9zM613.1 386.2l5.9-1.9-5-2.2-5.8 1.9zM764.8 336.6l5.8-2-4.9-2.2-5.9 1.9zM608.2 384l5.8-1.9-4.9-2.2-5.8 1.9zM672.3 363l11.7-3.8-4.9-2.3-11.7 3.8zM603.3 381.8l5.8-1.9-4.9-2.3-5.9 1.9z"/>
<path fill="#237884" stroke="#237884" d="M1089.7 438.3l5.9-1.9-5-2.2-5.8 1.9zM917.5 483.2l5.8-1.9-4.9-2.3-5.9 1.9zM1063.3 435.4l5.8-1.9-4.9-2.2-5.9 1.9zM883.4 490.5l5.8-1.9-4.9-2.2-5.9 1.9zM1058.3 433.2l5.9-1.9-5-2.3-5.8 1.9zM1053.4 430.9l5.8-1.9-4.9-2.2-5.9 1.9zM908.5 474.6l5.8-2-4.9-2.2-5.9 1.9zM1048.4 428.7l5.9-1.9-5-2.3-5.8 2zM1043.5 426.5l5.8-2-4.9-2.2-5.8 1.9zM1038.6 424.2l5.8-1.9-4.9-2.2-5.9 1.9zM1033.6 422l5.9-1.9-5-2.3-5.8 1.9zM1045.3 418.2l5.8-2-4.9-2.2-5.8 1.9zM1028.7 419.7l5.8-1.9-4.9-2.2-5.8 1.9zM1040.4 415.9l5.8-1.9-5-2.2-5.8 1.9zM861.4 466.9l5.8-1.9-5-2.3-5.8 1.9zM848.3 451.9l5.9-1.9-5-2.2-5.8 1.9zM1006.7 396.1l5.8-1.9-4.9-2.2-5.9 1.9zM844.3 445.5l5.8-1.9-4.9-2.3-5.9 1.9zM1001.7 393.9l5.9-1.9-5-2.3-5.8 1.9zM862.7 435.6l5.8-1.9-4.9-2.3-5.9 1.9zM835.3 436.8l5.8-1.9-4.9-2.2-5.8 1.9zM858.6 429.2l5.9-1.9-5-2.3-5.8 2zM825.4 432.4l5.9-1.9-5-2.3-5.8 1.9zM866.2 419l5.9-1.9-5-2.3-5.8 1.9zM977.1 382.7l5.8-1.9-4.9-2.3-5.9 1.9zM658.1 479.5l5.8-1.9-4.9-2.3-5.9 1.9zM943.9 385.8l5.8-1.9-5-2.2-5.8 1.9zM664.8 473.4l5.8-1.9-4.9-2.2-5.8 1.9zM798.9 429.5l5.9-1.9-5-2.3-5.8 1.9zM880.6 402.7l5.8-1.9-4.9-2.2-5.8 1.9zM938.9 383.6l5.8-1.9-4.9-2.2-5.8 1.9zM671.5 467.4l5.9-1.9-5-2.3-5.8 1.9zM887.3 396.7l5.9-2-5-2.2-5.8 1.9zM678.3 461.3l5.8-1.9-4.9-2.2-5.9 1.9zM894 390.6l5.9-1.9-5-2.3-5.8 2zM685 455.2l5.8-1.9-4.9-2.2-5.9 1.9zM906.6 382.6l5.8-1.9-4.9-2.2-5.8 1.9zM697.5 447.3l5.9-1.9-5-2.3-5.8 1.9zM710.1 439.3l5.8-1.9-4.9-2.2-5.8 1.9zM756.8 424l5.8-1.9-4.9-2.2-5.9 1.9zM797.6 410.6l23.3-7.6-4.9-2.2-23.4 7.6zM722.7 431.3l5.8-1.9-4.9-2.2-5.9 1.9zM775.1 414.1l5.8-1.9-5-2.2-5.8 1.9zM827.6 396.9l5.9-1.9-5-2.2-5.8 1.9zM746.9 419.5l5.8-1.9-4.9-2.2-5.9 1.9zM655.4 441.8l5.8-1.9-4.9-2.2-5.9 1.9zM908.8 347.2l5.8-1.9-4.9-2.3-5.8 2zM664.8 423.3l5.8-1.9-4.9-2.2-5.9 1.9zM793.1 381.3l5.8-1.9-4.9-2.3-5.9 1.9zM694.8 409.6l11.7-3.8-5-2.3-11.6 3.9zM735.6 396.2l5.9-1.9-5-2.2-5.8 1.9zM788.1 379l5.9-1.9-5-2.2-5.8 1.9zM888.2 342.4l5.8-1.9-4.9-2.3-5.9 2zM917.3 332.8l5.9-1.9-5-2.2-5.8 1.9zM680 402.9l5.8-1.9-4.9-2.3-5.8 2zM664.3 400.3l5.8-1.9-4.9-2.2-5.8 1.9zM648.6 397.8l5.8-2-4.9-2.2-5.8 1.9zM812.8 340.1l5.8-1.9-4.9-2.2-5.9 1.9zM627.9 393l5.9-2-5-2.2-5.8 1.9zM602.4 385.9l5.8-1.9-4.9-2.2-5.9 1.9zM701.5 353.4l11.7-3.8-5-2.2-11.6 3.8zM597.4 383.7l5.9-1.9-5-2.3-5.8 1.9zM632.4 372.2l11.7-3.8-5-2.2-11.6 3.8zM592.5 381.4l5.8-1.9-4.9-2.2-5.9 1.9zM593.4 377.3l5.8-1.9-4.9-2.3-5.9 2z"/>
<path fill="#1e8683" stroke="#1e8683" d="M1095.6 436.4l5.8-1.9-4.9-2.3-5.9 2zM1090.6 434.1l5.9-2-5-2.2-5.8 1.9zM922.4 485.4l5.8-1.9-4.9-2.2-5.8 1.9zM1085.7 431.9l5.8-1.9-4.9-2.2-5.8 1.9zM1080.8 429.7l5.8-1.9-5-2.3-5.8 1.9zM1075.8 427.4l5.8-1.9-4.9-2.2-5.8 1.9zM878.4 488.3l5.9-1.9-5-2.3-5.8 1.9zM913.4 476.8l5.8-1.9-4.9-2.3-5.8 2zM1070.9 425.2l5.8-1.9-4.9-2.3-5.9 2zM1065.9 423l5.9-2-5-2.2-5.8 1.9zM1061 420.7l5.8-1.9-4.9-2.2-5.8 1.9zM869.4 479.6l5.9-1.9-5-2.2-5.8 1.9zM1056.1 418.5l5.8-1.9-4.9-2.3-5.9 1.9zM1051.1 416.2l5.9-1.9-5-2.2-5.8 1.9zM1046.2 414l5.8-1.9-4.9-2.2-5.9 1.9zM1041.2 411.8l5.9-1.9-5-2.3-5.8 1.9zM847.4 456l5.9-1.9-5-2.3-5.8 2zM843.4 449.6l5.8-1.9-4.9-2.2-5.9 1.9zM872.5 440.1l5.9-2-5-2.2-5.8 1.9zM839.3 443.2l5.9-1.9-5-2.2-5.8 1.9zM973.5 399.3l5.8-1.9-4.9-2.3-5.9 1.9zM863.6 431.4l5.8-1.9-4.9-2.2-5.9 1.9zM997.7 387.5l5.8-1.9-4.9-2.3-5.8 1.9zM871.2 421.2l5.8-1.9-4.9-2.2-5.9 1.9zM982.9 380.8l5.8-1.9-4.9-2.3-5.8 1.9zM657.2 483.6l5.8-1.9-4.9-2.2-5.8 1.9zM878.8 411l5.8-1.9-4.9-2.2-5.8 1.9zM663.9 477.6l5.8-1.9-4.9-2.3-5.8 1.9zM803.9 431.7l5.8-1.9-4.9-2.2-5.9 1.9zM885.5 405l5.9-2-5-2.2-5.8 1.9zM670.6 471.5l5.9-1.9-5-2.2-5.8 1.9zM892.3 398.9l5.8-1.9-4.9-2.3-5.9 2zM962.2 376l5.9-1.9-5-2.3-5.8 1.9zM689.9 457.5l5.9-1.9-5-2.3-5.8 1.9zM777.4 428.8l5.8-1.9-4.9-2.2-5.8 1.9zM905.7 386.8l17.5-5.8-4.9-2.2-17.5 5.7zM702.5 449.5l17.5-5.7-5-2.3-17.5 5.8zM715 441.5l5.9-1.9-5-2.2-5.8 1.9zM721.8 435.5l11.6-3.8-4.9-2.3-11.7 3.8zM746 423.7l5.8-1.9-4.9-2.3-5.8 1.9zM922.7 358.1l5.9-2-5-2.2-5.8 1.9zM649.5 443.7l5.9-1.9-5-2.2-5.8 1.9zM917.8 355.8l5.8-1.9-4.9-2.2-5.8 1.9zM741.5 394.3l11.6-3.8-4.9-2.2-11.7 3.8zM776.5 382.9l5.8-1.9-4.9-2.2-5.9 1.9zM939.8 329.3l5.8-1.9-4.9-2.2-5.9 1.9zM660.7 416.9l11.7-3.8-5-2.2-11.6 3.8zM689.9 407.4l5.8-1.9-4.9-2.3-5.9 1.9zM940.7 325.2l5.8-1.9-4.9-2.3-5.9 2zM674.2 404.8l5.8-1.9-4.9-2.2-5.9 1.9zM855 345.6l5.8-2-4.9-2.2-5.9 1.9zM663.4 404.5l5.8-1.9-4.9-2.3-5.8 1.9zM652.6 404.1l5.9-1.9-5-2.2-5.8 1.9zM839.3 343l5.8-1.9-4.9-2.3-5.9 2zM647.7 401.9l5.8-1.9-4.9-2.2-5.8 1.9zM823.6 340.4l5.8-1.9-5-2.2-5.8 1.9zM627.1 397.1l5.8-1.9-5-2.2-5.8 1.9zM622.1 394.9l5.8-1.9-4.9-2.3-5.8 1.9zM759.8 334.3l17.5-5.7-4.9-2.3-17.5 5.8zM667.4 360.7l17.5-5.7-4.9-2.2-17.5 5.7zM580.8 385.3l5.9-1.9-5-2.3-5.8 1.9zM610 375.7l11.6-3.8-4.9-2.3-11.7 3.9zM575.9 383l5.8-1.9-4.9-2.2-5.9 1.9zM576.8 378.9l5.8-1.9-4.9-2.3-5.9 1.9zM594.3 373.1l5.8-1.9-4.9-2.2-5.9 1.9zM577.7 374.7l11.6-3.8-4.9-2.2-11.7 3.8zM621.6 321.8l5.8-1.9-4.9-2.3-5.8 1.9z"/>
<path fill="#1c8f80" stroke="#1c8f80" d="M1101.4 434.5l11.7-3.8-5-2.3-11.6 3.8zM927.3 487.7l5.9-2-5-2.2-5.8 1.9zM1102.3 430.3l5.8-1.9-4.9-2.2-5.8 1.9zM1097.4 428.1l5.8-1.9-5-2.3-5.8 2zM1092.4 425.9l5.8-2-4.9-2.2-5.8 1.9zM877.5 492.4l5.9-1.9-5-2.2-5.8 1.9zM918.4 479l5.8-1.9-5-2.2-5.8 1.9zM1052.5 435.1l5.8-1.9-4.9-2.3-5.8 1.9zM1087.5 423.6l5.8-1.9-4.9-2.2-5.9 1.9zM1047.5 432.8l5.8-1.9-5-2.2-5.8 1.9zM1076.7 423.3l5.8-1.9-4.9-2.3-5.8 1.9zM1042.6 430.6l5.8-1.9-4.9-2.2-5.8 1.9zM1071.8 421l5.8-1.9-4.9-2.2-5.9 1.9zM1037.7 428.4l5.8-1.9-4.9-2.3-5.9 1.9zM1066.8 418.8l5.9-1.9-5-2.2-5.8 1.9zM1032.7 426.1l5.9-1.9-5-2.2-5.8 1.9zM1061.9 416.6l5.8-1.9-4.9-2.3-5.8 1.9zM864.5 477.4l5.8-1.9-4.9-2.3-5.8 2zM1027.8 423.9l5.8-1.9-4.9-2.3-5.8 2zM1057 414.3l5.8-1.9-4.9-2.2-5.9 1.9zM1022.9 421.7l5.8-2-4.9-2.2-5.9 1.9zM1052 412.1l5.9-1.9-5-2.3-5.8 2zM1047.1 409.9l5.8-2-4.9-2.2-5.9 1.9zM855.5 468.8l5.9-1.9-5-2.3-5.8 1.9zM1042.1 407.6l5.9-1.9-5-2.2-5.8 1.9zM1037.2 405.4l5.8-1.9-4.9-2.3-5.8 1.9zM1032.3 403.1l5.8-1.9-4.9-2.2-5.9 1.9zM846.5 460.1l5.9-1.9-5-2.2-5.8 1.9zM1027.3 400.9l5.9-1.9-5-2.2-5.8 1.9zM1022.4 398.7l5.8-1.9-4.9-2.3-5.8 1.9zM1017.5 396.4l5.8-1.9-5-2.2-5.8 1.9zM831.7 453.4l5.9-1.9-5-2.2-5.8 1.9zM878.4 438.1l29.1-9.5-4.9-2.2-29.2 9.5zM1012.5 394.2l5.8-1.9-4.9-2.3-5.8 2zM821 453.1l17.4-5.7-4.9-2.3-17.5 5.8zM890.9 430.2l46.7-15.3-4.9-2.3-46.7 15.3zM810.2 452.8l23.3-7.7-4.9-2.2-23.4 7.6zM880.2 429.8l93.3-30.5-5-2.3-93.3 30.6zM799.4 452.5l23.3-7.7-4.9-2.2-23.3 7.6zM834.4 441l5.8-1.9-4.9-2.3-5.8 1.9zM875.2 427.6l11.7-3.8-4.9-2.2-11.7 3.8zM904.4 418.1l35-11.5-5-2.2-34.9 11.4zM1003.5 385.6l5.9-1.9-5-2.3-5.8 1.9zM788.6 452.1l17.5-5.7-4.9-2.2-17.5 5.7zM876.1 423.5l5.9-1.9-5-2.3-5.8 1.9zM922.8 408.2l23.3-7.7-4.9-2.2-23.4 7.6zM1004.4 381.4l11.7-3.8-4.9-2.2-11.7 3.8zM777.9 451.8l17.5-5.7-5-2.3-17.5 5.8zM877 419.3l5.8-1.9-4.9-2.2-5.8 1.9zM941.2 398.3l11.6-3.8-4.9-2.3-11.7 3.9zM1011.2 375.4l17.4-5.8-4.9-2.2-17.5 5.7zM767.1 451.5l17.5-5.8-4.9-2.2-17.5 5.7zM883.7 413.3l5.9-2-5-2.2-5.8 1.9zM947.9 392.2l5.8-1.9-4.9-2.2-5.8 1.9zM994.6 376.9l5.8-1.9-5-2.2-5.8 1.9zM1023.7 367.4l23.3-7.7-4.9-2.2-23.3 7.7zM756.3 451.1l17.5-5.7-4.9-2.2-17.5 5.7zM808.8 433.9l5.9-1.9-5-2.2-5.8 1.9zM943 390l5.8-1.9-4.9-2.3-5.9 2zM977.9 378.5l5.8-1.9-5-2.2-5.8 1.9zM989.6 374.7l40.8-13.4-4.9-2.2-40.8 13.4zM1036.3 359.4l29.1-9.5-4.9-2.3-29.2 9.6zM669.7 475.7l5.9-1.9-5-2.3-5.8 1.9zM745.6 450.8l17.5-5.7-5-2.3-17.5 5.8zM891.4 403l5.8-1.9-4.9-2.2-5.9 1.9zM1019.7 361l46.6-15.3-4.9-2.2-46.7 15.3zM676.5 469.6l5.8-1.9-4.9-2.2-5.9 1.9zM729 452.4l23.3-7.6-4.9-2.3-23.4 7.7zM898.1 397l5.8-1.9-4.9-2.3-5.8 1.9zM1038.1 351.1l17.5-5.7-5-2.3-17.5 5.8zM689 461.6l11.7-3.8-4.9-2.2-11.7 3.8zM718.2 452.1l5.8-1.9-4.9-2.3-5.8 1.9zM735.7 446.3l5.8-1.9-4.9-2.2-5.8 1.9zM782.3 431.1l5.9-2-5-2.2-5.8 1.9zM904.8 390.9l23.3-7.6-4.9-2.3-23.3 7.7zM707.4 451.7l5.9-1.9-5-2.2-5.8 1.9zM730.8 444.1l5.8-1.9-5-2.2-5.8 1.9zM725.8 441.9l5.8-1.9-4.9-2.3-5.8 1.9zM726.7 437.7l5.8-1.9-4.9-2.2-5.8 1.9zM755.9 428.2l5.8-1.9-4.9-2.3-5.9 1.9zM745.1 427.8l5.8-1.9-4.9-2.2-5.8 1.9zM786.8 410.3l5.8-1.9-4.9-2.2-5.8 1.9zM816 400.8l5.8-2-4.9-2.2-5.9 1.9zM650.4 439.6l5.9-1.9-5-2.3-5.8 1.9zM912.9 353.6l5.8-1.9-4.9-2.3-5.9 1.9zM651.3 435.4l5.8-1.9-4.9-2.2-5.8 1.9zM913.8 349.4l5.8-1.9-5-2.2-5.8 1.9zM926.3 341.5l5.8-1.9-4.9-2.3-5.8 1.9zM945.6 327.4l5.8-1.9-4.9-2.2-5.8 1.9zM650 416.6l5.8-1.9-5-2.3-5.8 2zM667.5 410.9l11.7-3.9-4.9-2.2-11.7 3.8zM865.7 345.9l5.9-1.9-5-2.3-5.8 1.9zM889.1 338.2l35-11.4-5-2.3-35 11.5zM935.7 323l5.9-2-5-2.2-5.8 1.9zM650.8 412.4l17.5-5.7-4.9-2.2-17.5 5.7zM645.9 410.2l5.8-1.9-4.9-2.2-5.8 1.9zM850 343.3l5.9-1.9-5-2.2-5.8 1.9zM641 408l5.8-1.9-4.9-2.3-5.9 1.9zM834.3 340.8l5.9-2-5-2.2-5.8 1.9zM813.7 336l5.8-2-4.9-2.2-5.9 1.9zM611.3 394.5l5.9-1.9-5-2.2-5.8 1.9zM606.4 392.3l5.8-1.9-4.9-2.2-5.8 1.9zM793.9 327l5.9-1.9-5-2.2-5.8 1.9zM590.7 389.7l5.8-1.9-4.9-2.2-5.8 1.9zM789 324.8l5.8-1.9-4.9-2.3-5.9 1.9zM579.9 389.4l5.9-1.9-5-2.2-5.8 1.9zM696.6 351.2l23.3-7.7-4.9-2.2-23.4 7.7zM772.4 326.3l23.3-7.6-4.9-2.2-23.4 7.6zM569.2 389.1l11.6-3.8-4.9-2.3-11.7 3.8zM639.1 366.2l11.7-3.9-4.9-2.2-11.7 3.8zM779.1 320.3l17.5-5.7-4.9-2.3-17.5 5.7zM540.9 394.5l29.2-9.6-5-2.2-29.1 9.6zM780 316.1l11.7-3.8-5-2.2-11.6 3.8zM501 403.7l69.9-22.9-4.9-2.3-70 23zM600.1 371.2l5.8-1.9-4.9-2.2-5.8 1.9zM484.4 405.3l46.6-15.3-4.9-2.2-46.7 15.3zM560.2 380.5l11.6-3.9-4.9-2.2-11.7 3.8zM595.2 369l5.8-1.9-4.9-2.3-5.9 2zM566.9 374.4l5.8-1.9-4.9-2.3-5.8 2zM579.5 366.4l5.8-1.9-4.9-2.2-5.9 1.9zM562.9 368l5.8-1.9-4.9-2.2-5.9 1.9zM574.5 364.2l5.9-1.9-5-2.3-5.8 2zM563.8 363.9l11.6-3.9-4.9-2.2-11.7 3.8zM558.8 361.6l11.7-3.8-5-2.2-11.6 3.8zM553.9 359.4l17.5-5.7-5-2.3-17.5 5.7zM548.9 357.1l17.5-5.7-4.9-2.2-17.5 5.7zM549.8 353l11.7-3.8-4.9-2.3-11.7 3.9zM544.9 350.8l11.7-3.9-5-2.2-11.6 3.8zM540 348.5l11.6-3.8-4.9-2.2-11.7 3.8zM535 346.3l11.7-3.8-5-2.3-11.6 3.8zM593.3 327.2l5.9-1.9-5-2.3-5.8 1.9zM530.1 344l11.6-3.8-4.9-2.2-11.7 3.8zM594.2 323l5.9-1.9-5-2.2-5.8 1.9zM531 339.9l11.6-3.8-4.9-2.3-11.7 3.9z"/>
<path fill="#1d947f" stroke="#1d947f" d="M1113.1 430.7l5.8-2-4.9-2.2-5.9 1.9zM1108.1 428.4l5.9-1.9-5-2.2-5.8 1.9zM1103.2 426.2l5.8-1.9-4.9-2.3-5.9 1.9zM1098.2 423.9l5.9-1.9-5-2.2-5.8 1.9zM1082.5 421.4l5.9-1.9-5-2.3-5.8 1.9zM1077.6 419.1l5.8-1.9-4.9-2.2-5.8 1.9zM868.5 483.8l5.9-1.9-5-2.3-5.8 1.9zM909.4 470.4l5.8-1.9-4.9-2.2-5.9 1.9zM1072.7 416.9l5.8-1.9-4.9-2.2-5.9 1.9zM1067.7 414.7l5.9-1.9-5-2.3-5.8 1.9zM1062.8 412.4l5.8-1.9-4.9-2.2-5.8 1.9zM859.6 475.2l5.8-2-4.9-2.2-5.9 1.9zM900.4 461.8l5.8-1.9-4.9-2.3-5.9 1.9zM1057.9 410.2l5.8-1.9-5-2.3-5.8 1.9zM1052.9 407.9l5.8-1.9-4.9-2.2-5.8 1.9zM850.6 466.5l5.8-1.9-4.9-2.2-5.9 1.9zM845.6 464.3l5.9-1.9-5-2.3-5.8 2zM886.5 450.9l5.8-1.9-4.9-2.2-5.9 1.9zM841.6 457.9l5.8-1.9-4.9-2.2-5.8 1.9zM882.4 444.5l5.9-1.9-5-2.2-5.8 1.9zM836.7 455.7l5.8-1.9-4.9-2.3-5.9 1.9zM883.3 440.4l23.3-7.7-4.9-2.2-23.3 7.6zM825.9 455.3l5.8-1.9-4.9-2.2-5.8 1.9zM907.5 428.6l29.2-9.6-4.9-2.2-29.2 9.6zM815.1 455l5.9-1.9-5-2.2-5.8 1.9zM937.6 414.9l40.8-13.4-4.9-2.2-40.8 13.3zM804.4 454.7l5.8-1.9-5-2.3-5.8 2zM833.5 445.1l5.8-1.9-4.9-2.2-5.8 1.9zM1008.5 387.8l5.8-1.9-4.9-2.2-5.9 1.9zM793.6 454.4l5.8-1.9-4.9-2.3-5.9 1.9zM822.7 444.8l11.7-3.8-4.9-2.3-11.7 3.9zM886.9 423.8l17.5-5.7-4.9-2.3-17.5 5.8zM1009.4 383.7l11.6-3.9-4.9-2.2-11.7 3.8zM782.8 454l5.8-1.9-4.9-2.2-5.8 1.9zM806.1 446.4l11.7-3.8-4.9-2.3-11.7 3.9zM829.5 438.7l5.8-1.9-4.9-2.2-5.9 1.9zM882 421.5l40.8-13.4-5-2.3-40.8 13.4zM1016.1 377.6l17.5-5.7-5-2.3-17.4 5.8zM772 453.7l5.9-1.9-5-2.2-5.8 1.9zM795.4 446.1l5.8-1.9-4.9-2.3-5.9 1.9zM824.5 436.5l5.9-1.9-5-2.2-5.8 1.9zM882.9 417.4l11.7-3.8-4.9-2.3-11.7 3.9zM923.7 404l17.5-5.7-5-2.2-17.5 5.7zM1028.7 369.6l17.5-5.7-4.9-2.2-17.5 5.7zM761.3 453.4l5.8-1.9-4.9-2.3-5.9 1.9zM784.6 445.7l5.8-1.9-4.9-2.2-5.8 1.9zM813.8 436.2l5.8-1.9-4.9-2.3-5.9 1.9zM889.6 411.3l5.8-1.9-4.9-2.2-5.9 1.9zM936.2 396.1l11.7-3.9-4.9-2.2-11.7 3.8zM1047 359.7l17.5-5.7-4.9-2.2-17.5 5.7zM663 481.7l5.9-1.9-5-2.2-5.8 1.9zM750.5 453.1l5.8-2-4.9-2.2-5.8 1.9zM773.8 445.4l5.9-1.9-5-2.2-5.8 1.9zM890.5 407.2l5.8-1.9-4.9-2.3-5.9 2zM937.1 391.9l5.9-1.9-5-2.2-5.8 1.9zM983.8 376.6l5.8-1.9-4.9-2.2-5.9 1.9zM1065.4 349.9l5.9-1.9-5-2.3-5.8 1.9zM675.6 473.8l5.8-2-4.9-2.2-5.9 1.9zM733.9 454.6l11.7-3.8-5-2.2-11.6 3.8zM763.1 445.1l5.8-1.9-4.9-2.3-5.9 1.9zM798.1 433.6l5.8-1.9-5-2.2-5.8 1.9zM897.2 401.1l5.8-1.9-4.9-2.2-5.8 1.9zM932.2 389.7l5.8-1.9-4.9-2.3-5.9 1.9zM973 376.3l5.8-1.9-4.9-2.3-5.8 2zM990.5 370.6l29.2-9.6-5-2.2-29.1 9.5zM682.3 467.7l11.7-3.8-5-2.3-11.6 3.9zM723.1 454.3l5.9-1.9-5-2.2-5.8 1.9zM752.3 444.8l5.8-2-4.9-2.2-5.8 1.9zM903.9 395.1l5.9-1.9-5-2.3-5.8 1.9zM921.4 389.3l11.7-3.8-5-2.2-11.6 3.8zM1020.6 356.9l17.5-5.8-5-2.2-17.5 5.7zM700.7 457.8l17.5-5.7-4.9-2.3-17.5 5.8zM741.5 444.4l5.9-1.9-5-2.2-5.8 1.9zM1039 347l11.6-3.9-4.9-2.2-11.7 3.8zM736.6 442.2l5.8-1.9-4.9-2.3-5.9 2zM771.6 430.7l5.8-1.9-4.9-2.2-5.9 1.9zM731.6 440l5.9-2-5-2.2-5.8 1.9zM953.3 367.3l5.8-1.9-4.9-2.2-5.9 1.9zM732.5 435.8l11.7-3.8-4.9-2.3-11.7 3.9zM948.3 365.1l5.9-1.9-5-2.2-5.8 1.9zM943.4 362.9l5.8-1.9-4.9-2.3-5.9 1.9zM792.6 408.4l23.4-7.6-5-2.3-23.3 7.7zM630.2 457.8l5.9-2-5-2.2-5.8 1.9zM816.9 396.6l5.8-1.9-4.9-2.2-5.9 1.9zM637 451.7l5.8-1.9-4.9-2.3-5.9 2zM643.7 445.6l5.8-1.9-4.9-2.2-5.8 1.9zM647.3 429l5.8-1.9-4.9-2.2-5.9 1.9zM787.2 383.2l5.9-1.9-5-2.3-5.8 1.9zM938.9 333.5l5.8-1.9-4.9-2.3-5.9 2zM648.2 424.9l5.8-1.9-4.9-2.3-5.9 2zM951.4 325.5l5.9-1.9-5-2.2-5.8 1.9zM649.1 420.7l5.8-1.9-4.9-2.2-5.9 1.9zM871.6 344l17.5-5.8-5-2.2-17.5 5.7zM924.1 326.8l11.6-3.8-4.9-2.3-11.7 3.8zM645 414.4l5.8-2-4.9-2.2-5.8 1.9zM845.1 341.1l5.8-1.9-4.9-2.3-5.8 1.9zM636 405.7l5.9-1.9-5-2.2-5.8 1.9zM631.1 403.5l5.8-1.9-4.9-2.3-5.8 2zM829.4 338.5l5.8-1.9-4.9-2.2-5.9 1.9zM626.2 401.3l5.8-2-4.9-2.2-5.9 1.9zM621.2 399l5.9-1.9-5-2.2-5.8 1.9zM616.3 396.8l5.8-1.9-4.9-2.3-5.9 1.9zM808.7 333.7l5.9-1.9-5-2.2-5.8 1.9zM803.8 331.5l5.8-1.9-4.9-2.3-5.8 1.9zM798.9 329.2l5.8-1.9-4.9-2.2-5.9 1.9zM595.6 392l5.9-1.9-5-2.3-5.8 1.9zM584.9 391.6l5.8-1.9-4.9-2.2-5.9 1.9zM794.8 322.9l5.8-2-4.9-2.2-5.8 1.9zM574.1 391.3l5.8-1.9-4.9-2.2-5.8 1.9zM719.9 343.5l52.5-17.2-5-2.2-52.4 17.2zM795.7 318.7l5.8-1.9-4.9-2.2-5.8 1.9zM545.8 396.7l23.4-7.6-5-2.3-23.3 7.7zM650.8 362.3l17.5-5.7-4.9-2.2-17.5 5.7zM773.3 322.2l5.8-1.9-4.9-2.3-5.9 2zM796.6 314.6l5.8-2-4.9-2.2-5.8 1.9zM511.7 404l29.2-9.5-4.9-2.2-29.2 9.5zM610.9 371.6l11.6-3.9-4.9-2.2-11.7 3.8zM774.2 318.1l5.8-1.9-4.9-2.2-5.9 1.9zM489.3 407.5l11.7-3.8-5-2.2-11.6 3.8zM775.1 313.9l5.8-1.9-4.9-2.2-5.9 1.9zM531 390l29.2-9.5-5-2.3-29.1 9.6zM479.4 403.1l35-11.5-4.9-2.2-35 11.4zM555.2 378.2l11.7-3.8-4.9-2.2-11.7 3.8zM590.2 366.8l5.9-2-5-2.2-5.8 1.9zM562 372.2l5.8-2-4.9-2.2-5.9 1.9zM585.3 364.5l5.8-1.9-4.9-2.2-5.8 1.9zM557 369.9l5.9-1.9-5-2.2-5.8 1.9zM580.4 362.3l5.8-1.9-5-2.3-5.8 1.9zM557.9 365.8l5.9-1.9-5-2.3-5.8 1.9zM575.4 360l5.8-1.9-4.9-2.2-5.8 1.9zM553 363.5l5.8-1.9-4.9-2.2-5.9 1.9zM570.5 357.8l5.8-1.9-4.9-2.2-5.9 1.9zM548 361.3l5.9-1.9-5-2.3-5.8 2zM566.4 351.4l5.9-1.9-5-2.2-5.8 1.9zM544 354.9l5.8-1.9-4.9-2.2-5.8 1.9zM561.5 349.2l5.8-1.9-4.9-2.3-5.8 1.9zM539.1 352.7l5.8-1.9-4.9-2.3-5.9 1.9zM556.6 346.9l5.8-1.9-4.9-2.2-5.9 1.9zM534.1 350.4l5.9-1.9-5-2.2-5.8 1.9zM551.6 344.7l5.9-1.9-5-2.2-5.8 1.9zM615.8 323.7l5.8-1.9-4.9-2.3-5.9 1.9zM529.2 348.2l5.8-1.9-4.9-2.3-5.9 2zM546.7 342.5l5.8-1.9-4.9-2.3-5.9 1.9zM541.7 340.2l5.9-1.9-5-2.2-5.8 1.9zM525.1 341.8l5.9-1.9-5-2.2-5.8 1.9zM520.2 339.6l5.8-1.9-4.9-2.3-5.8 1.9z"/>
<path fill="#2d6184" stroke="#2d6184" d="M921.5 489.6l5.8-1.9-4.9-2.3-5.8 1.9zM862.2 462.7l5.9-1.9-5-2.2-5.8 1.9zM1014.8 408.9l5.8-1.9-4.9-2.3-5.9 1.9zM1009.8 406.6l5.9-1.9-5-2.2-5.8 1.9zM1005.8 400.3l5.8-2-4.9-2.2-5.8 1.9zM866.7 442l5.8-1.9-4.9-2.3-5.8 1.9zM1000.9 398l5.8-1.9-5-2.2-5.8 1.9zM848.8 424.7l5.8-1.9-5-2.2-5.8 1.9zM954.6 386.2l5.9-1.9-5-2.3-5.8 1.9zM652.3 481.4l5.8-1.9-5-2.3-5.8 2zM961.3 380.1l5.9-1.9-5-2.2-5.8 1.9zM795.8 418.9l5.8-1.9-4.9-2.2-5.8 1.9zM773.4 422.4l5.8-1.9-4.9-2.2-5.9 1.9zM785 418.6l5.9-1.9-5-2.2-5.8 1.9zM878.3 388l17.5-5.7-4.9-2.2-17.5 5.7zM686.8 446.9l5.8-1.9-4.9-2.2-5.9 1.9zM762.6 422.1l5.8-1.9-4.9-2.2-5.8 1.9zM873.4 385.8l11.7-3.8-5-2.3-11.6 3.9zM699.3 439l5.9-1.9-5-2.3-5.8 1.9zM868.5 383.6l11.6-3.9-4.9-2.2-11.7 3.8zM653.6 450.1l5.8-1.9-4.9-2.2-5.9 1.9zM752.7 417.6l5.8-1.9-4.9-2.2-5.8 1.9zM764.4 413.8l5.8-1.9-4.9-2.2-5.9 1.9zM863.5 381.3l11.7-3.8-5-2.2-11.6 3.8zM660.3 444.1l5.8-2-4.9-2.2-5.8 1.9zM718.6 424.9l11.7-3.8-5-2.2-11.6 3.8zM753.6 413.5l5.8-1.9-4.9-2.3-5.8 1.9zM858.6 379.1l11.6-3.8-4.9-2.3-11.7 3.8zM731.2 417l5.8-1.9-4.9-2.3-5.9 1.9zM748.7 411.2l5.8-1.9-4.9-2.2-5.9 1.9zM853.6 376.8l11.7-3.8-4.9-2.2-11.7 3.8zM667.9 433.8l5.9-1.9-5-2.2-5.8 1.9zM726.2 414.7l5.9-1.9-5-2.2-5.8 1.9zM743.7 409l5.9-1.9-5-2.2-5.8 1.9zM848.7 374.6l11.7-3.8-5-2.3-11.6 3.9zM668.8 429.7l5.8-1.9-4.9-2.3-5.8 2zM715.5 414.4l5.8-1.9-4.9-2.2-5.9 1.9zM738.8 406.8l5.8-1.9-4.9-2.3-5.8 1.9zM843.8 372.4l11.6-3.9-4.9-2.2-11.7 3.8zM693 417.9l23.4-7.6-5-2.3-23.3 7.7zM733.9 404.5l5.8-1.9-4.9-2.2-5.9 1.9zM838.8 370.1l5.9-1.9-5-2.2-5.8 1.9zM891.3 352.9l5.9-1.9-5-2.2-5.8 1.9zM728.9 402.3l5.9-1.9-5-2.3-5.8 1.9zM833.9 367.9l5.8-1.9-4.9-2.3-5.8 2zM823.1 367.6l11.7-3.9-4.9-2.2-11.7 3.8zM881.4 348.5l23.4-7.7-5-2.2-23.3 7.6zM713.2 399.7l5.8-1.9-4.9-2.2-5.8 1.9zM724.9 395.9l5.8-1.9-4.9-2.2-5.9 1.9zM818.2 365.3l5.8-1.9-4.9-2.2-5.9 1.9zM859 351.9l5.8-1.9-4.9-2.2-5.8 1.9zM708.3 397.5l5.8-1.9-4.9-2.3-5.9 1.9zM719.9 393.7l5.9-1.9-5-2.3-5.8 1.9zM813.2 363.1l5.9-1.9-5-2.3-5.8 1.9zM802.5 362.8l11.6-3.9-4.9-2.2-11.7 3.8zM686.7 396.8l5.9-1.9-5-2.2-5.8 1.9zM715.9 387.3l5.8-1.9-4.9-2.3-5.8 1.9zM791.7 362.4l11.7-3.8-5-2.2-11.6 3.8zM676 396.5l17.5-5.7-5-2.3-17.5 5.8zM711 385l5.8-1.9-5-2.2-5.8 1.9zM786.8 360.2l11.6-3.8-4.9-2.3-11.7 3.9zM671 394.3l35-11.5-4.9-2.2-35 11.4zM770.2 361.8l23.3-7.7-4.9-2.2-23.4 7.6zM660.3 393.9l5.8-1.9-4.9-2.2-5.9 1.9zM671.9 390.1l35-11.5-4.9-2.2-35 11.5zM741.9 367.2l40.8-13.4-4.9-2.2-40.8 13.3zM667 387.9l87.5-28.7-5-2.2-87.5 28.6zM806.9 342l5.9-1.9-5-2.2-5.8 1.9zM791.2 339.4l5.9-1.9-5-2.2-5.8 1.9zM628.8 388.8l5.9-1.9-5-2.2-5.8 1.9zM775.5 336.9l5.9-1.9-5-2.3-5.8 1.9zM706.4 355.7l17.5-5.8-4.9-2.2-17.5 5.7zM619.9 380.2l23.3-7.7-5-2.2-23.3 7.6z"/>
<path fill="#86c83e" stroke="#86c83e" d="M991.5 466.6l5.8-1.9-4.9-2.2-5.9 1.9zM1009 460.9l5.8-1.9-4.9-2.2-5.9 1.9zM1171.8 384.4l5.8-1.9-4.9-2.2-5.8 1.9zM1161 384.1l5.9-1.9-5-2.3-5.8 1.9zM777.9 501.9l5.8-1.9-4.9-2.2-5.8 1.9zM756.4 501.3l5.8-2-4.9-2.2-5.9 1.9zM783.7 399.8l11.6-3.8-4.9-2.3-11.7 3.8zM557.5 443l5.9-1.9-5-2.2-5.8 1.9zM558.4 438.9l5.9-1.9-5-2.3-5.8 1.9zM553.5 436.6l5.8-1.9-4.9-2.2-5.8 1.9zM638.2 320.2l5.8-1.9-4.9-2.3-5.8 1.9zM431.8 372.4l11.7-3.8-4.9-2.3-11.7 3.8z"/>
<path fill="#adcf25" stroke="#adcf25" d="M997.3 464.7l11.7-3.8-5-2.2-11.6 3.8zM1170.9 388.6l5.8-1.9-4.9-2.3-5.8 1.9zM767.1 501.6l5.9-1.9-5-2.3-5.8 1.9zM552.6 440.8l5.8-1.9-4.9-2.3-5.8 1.9zM644 318.3l5.9-1.9-5-2.3-5.8 1.9zM426.9 370.1l5.8-1.9-4.9-2.2-5.8 1.9z"/>
<path fill="#227d84" stroke="#227d84" d="M1084.8 436.1l5.8-1.9-4.9-2.3-5.8 1.9zM1079.9 433.8l5.8-1.9-4.9-2.2-5.9 1.9zM1074.9 431.6l5.9-1.9-5-2.3-5.8 1.9zM1070 429.3l5.8-1.9-4.9-2.2-5.9 1.9zM1065 427.1l5.9-1.9-5-2.2-5.8 1.9zM1060.1 424.9l5.8-1.9-4.9-2.3-5.8 1.9zM874.4 481.9l5.8-1.9-4.9-2.3-5.9 1.9zM1055.2 422.6l5.8-1.9-4.9-2.2-5.9 1.9zM1050.2 420.4l5.9-1.9-5-2.3-5.8 2zM899.5 465.9l5.8-1.9-4.9-2.2-5.8 1.9zM890.5 457.3l5.8-1.9-4.9-2.2-5.8 1.9zM852.4 458.2l5.8-1.9-4.9-2.2-5.9 1.9zM1021.5 402.8l5.8-1.9-4.9-2.2-5.8 1.9zM876.6 446.4l5.8-1.9-4.9-2.2-5.8 1.9zM1016.6 400.6l5.8-1.9-4.9-2.3-5.9 1.9zM1011.6 398.3l5.9-1.9-5-2.2-5.8 1.9zM867.6 437.8l5.8-1.9-4.9-2.2-5.8 1.9zM865.4 423.1l5.8-1.9-5-2.2-5.8 1.9zM814.7 432l5.8-1.9-5-2.2-5.8 1.9zM873 412.9l5.8-1.9-4.9-2.2-5.9 1.9zM948.8 388.1l5.8-1.9-4.9-2.3-5.8 1.9zM972.1 380.4l5.9-1.9-5-2.2-5.8 1.9zM879.7 406.9l5.8-1.9-4.9-2.3-5.8 1.9zM923.2 381l5.8-1.9-4.9-2.2-5.8 1.9zM690.8 453.3l5.9-1.9-5-2.2-5.8 1.9zM772.5 426.6l5.8-1.9-4.9-2.3-5.9 1.9zM912.4 380.7l5.9-1.9-5-2.2-5.8 1.9zM947.4 369.2l5.9-1.9-5-2.2-5.8 1.9zM621.7 472.1l5.9-1.9-5-2.2-5.8 1.9zM703.4 445.4l5.8-2-4.9-2.2-5.9 1.9zM628.5 466.1l5.8-2-4.9-2.2-5.9 1.9zM715.9 437.4l5.9-1.9-5-2.3-5.8 2zM635.2 460l5.8-1.9-4.9-2.3-5.9 2zM728.5 429.4l11.7-3.8-5-2.2-11.6 3.8zM641.9 453.9l5.8-1.9-4.9-2.2-5.8 1.9zM770.2 411.9l5.8-1.9-4.9-2.3-5.8 2zM822.7 394.7l5.8-1.9-4.9-2.3-5.8 2zM648.6 447.9l5.9-1.9-5-2.3-5.8 1.9zM817.8 392.5l5.8-2-4.9-2.2-5.9 1.9zM907 355.5l5.9-1.9-5-2.3-5.8 2zM658 429.4l5.9-1.9-5-2.3-5.8 1.9zM798 383.5l5.8-1.9-4.9-2.2-5.8 1.9zM740.6 398.5l5.8-1.9-4.9-2.3-5.9 1.9zM921.4 339.2l5.8-1.9-4.9-2.2-5.9 1.9zM689 411.5l5.8-1.9-4.9-2.2-5.8 1.9zM928.1 333.2l5.8-1.9-4.9-2.3-5.8 1.9zM876.5 346.2l11.7-3.8-5-2.2-11.6 3.8zM923.2 330.9l11.6-3.8-4.9-2.2-11.7 3.8zM859.9 347.8l5.8-1.9-4.9-2.3-5.8 2zM844.2 345.2l5.8-1.9-4.9-2.2-5.8 1.9zM653.5 400l5.9-1.9-5-2.3-5.8 2zM828.5 342.7l5.8-1.9-4.9-2.3-5.8 1.9zM637.8 397.4l5.9-1.9-5-2.2-5.8 1.9zM632.9 395.2l5.8-1.9-4.9-2.3-5.9 2zM792.1 335.3l5.9-1.9-5-2.2-5.8 1.9zM612.2 390.4l5.9-1.9-5-2.3-5.8 2zM607.3 388.2l5.8-2-4.9-2.2-5.8 1.9zM776.4 332.7l5.9-1.9-5-2.2-5.8 1.9zM713.2 349.6l17.5-5.7-5-2.3-17.5 5.8zM644.1 368.4l11.6-3.8-4.9-2.3-11.7 3.9zM604.1 377.6l5.8-1.9-5-2.2-5.8 1.9zM587.5 379.2l5.9-1.9-5-2.2-5.8 1.9z"/>
<path fill="#410755" stroke="#410755" d="M899.1 493.1l5.8-1.9-4.9-2.3-5.9 1.9zM864.9 450.3l5.9-1.9-5-2.3-5.8 1.9zM648.2 475l5.8-1.9-4.9-2.2-5.8 1.9zM638.3 470.5l5.9-1.9-5-2.2-5.8 1.9zM921 366.4l5.8-2-5-2.2-5.8 1.9z"/>
<path fill="#3f014e" stroke="#3f014e" d="M904.9 491.2l11.7-3.9-5-2.2-11.6 3.8zM900 488.9l11.6-3.8-4.9-2.2-11.7 3.8zM895 486.7l11.7-3.8-4.9-2.3-11.7 3.8zM895.9 482.5l11.7-3.8-5-2.2-11.6 3.8zM891 480.3l11.6-3.8-4.9-2.3-11.7 3.9zM886 478.1l11.7-3.9-4.9-2.2-11.7 3.8zM886.9 473.9l11.7-3.8-4.9-2.3-11.7 3.9zM882 471.7l11.7-3.9-5-2.2-11.6 3.8zM882.9 467.5l5.8-1.9-4.9-2.2-5.8 1.9zM878 465.3l11.6-3.8-4.9-2.3-11.7 3.8zM873 463l11.7-3.8-5-2.2-11.6 3.8zM873.9 458.9l5.8-1.9-4.9-2.3-5.8 2zM869 456.7l5.8-2-4.9-2.2-5.9 1.9zM642.4 476.9l5.8-1.9-4.9-2.2-5.9 1.9zM637.4 474.7l17.5-5.8-4.9-2.2-17.5 5.7zM644.2 468.6l11.6-3.8-4.9-2.2-11.7 3.8zM925 372.7l11.7-3.8-5-2.2-11.6 3.8zM914.2 372.4l17.5-5.7-4.9-2.3-17.5 5.8zM909.3 370.2l11.7-3.8-5-2.3-11.7 3.8zM904.3 367.9l11.7-3.8-4.9-2.2-11.7 3.8zM893.6 367.6l17.5-5.7-5-2.3-17.5 5.8zM888.6 365.4l11.7-3.8-4.9-2.3-11.7 3.8zM883.7 363.1l11.7-3.8-5-2.2-11.6 3.8zM872.9 362.8l17.5-5.7-4.9-2.3-17.5 5.8zM868 360.6l11.7-3.8-5-2.3-11.6 3.8zM863.1 358.3l11.6-3.8-4.9-2.2-11.7 3.8z"/>
<path fill="#364c81" stroke="#364c81" d="M916.6 487.3l5.8-1.9-4.9-2.2-5.9 1.9zM854.2 449.9l5.8-1.9-4.9-2.2-5.9 1.9zM856.8 437.5l5.9-1.9-5-2.3-5.8 2zM965.4 386.5l5.8-1.9-4.9-2.3-5.8 2zM960.5 384.3l5.8-2-5-2.2-5.8 1.9zM821.4 426l11.6-3.8-4.9-2.3-11.7 3.8zM653.1 477.2l5.9-1.9-5-2.2-5.8 1.9zM626.7 474.4l5.8-2-4.9-2.2-5.9 1.9zM633.4 468.3l5.8-1.9-4.9-2.3-5.8 2zM675.1 450.8l5.8-1.9-4.9-2.3-5.8 1.9zM892.7 371.8l5.8-1.9-4.9-2.3-5.9 1.9zM672.9 436.1l5.8-1.9-4.9-2.3-5.9 1.9zM696.2 428.4l5.8-1.9-4.9-2.2-5.9 1.9zM877 369.2l5.8-1.9-4.9-2.3-5.9 2zM691.2 426.2l5.9-1.9-5-2.2-5.8 1.9zM872 367l5.9-2-5-2.2-5.8 1.9zM880.6 352.6l5.8-1.9-5-2.2-5.8 1.9zM846.5 359.9l11.6-3.8-4.9-2.2-11.7 3.8zM841.5 357.7l11.7-3.8-5-2.3-11.6 3.8zM836.6 355.4l11.6-3.8-4.9-2.2-11.7 3.8zM715 391.4l5.8-1.9-4.9-2.2-5.8 1.9zM825.8 355.1l11.7-3.8-5-2.2-11.6 3.8zM820.9 352.9l11.6-3.8-4.9-2.3-11.7 3.8zM815.9 350.6l11.7-3.8-4.9-2.2-11.7 3.8zM805.2 350.3l11.6-3.8-4.9-2.2-11.7 3.8zM800.2 348.1l11.7-3.8-5-2.3-11.6 3.8zM795.3 345.8l5.8-1.9-4.9-2.2-5.9 1.9zM784.5 345.5l11.7-3.8-5-2.3-11.6 3.9zM756.2 350.9l29.2-9.5-4.9-2.3-29.2 9.6zM710.5 362.1l70-23-5-2.2-69.9 22.9zM629.7 384.7l93.3-30.6-4.9-2.3-93.3 30.6zM630.6 380.5l11.7-3.8-4.9-2.3-11.7 3.9z"/>
<path fill="#296a84" stroke="#296a84" d="M888.3 492.7l5.8-1.9-4.9-2.2-5.8 1.9zM903.5 472.3l5.9-1.9-5-2.2-5.8 1.9zM894.6 463.7l5.8-1.9-5-2.3-5.8 2zM1034.5 417.8l5.9-1.9-5-2.2-5.8 1.9zM866.3 469.1l5.8-1.9-4.9-2.2-5.8 1.9zM1029.6 415.6l5.8-1.9-4.9-2.3-5.9 2zM1020.6 407l5.8-1.9-4.9-2.3-5.8 1.9zM1015.7 404.7l5.8-1.9-4.9-2.2-5.9 1.9zM853.3 454.1l5.8-1.9-4.9-2.3-5.9 1.9zM840.2 439.1l5.9-1.9-5-2.3-5.8 1.9zM964.5 390.6l5.8-1.9-4.9-2.2-5.8 1.9zM854.6 422.8l5.8-1.9-4.9-2.2-5.9 1.9zM820.5 430.1l5.8-1.9-4.9-2.2-5.9 1.9zM861.3 416.7l5.8-1.9-4.9-2.2-5.8 1.9zM868.9 406.5l5.9-1.9-5-2.2-5.8 1.9zM665.7 469.3l5.8-1.9-4.9-2.3-5.8 1.9zM875.7 400.5l5.8-1.9-4.9-2.3-5.9 1.9zM951.5 375.6l5.8-1.9-4.9-2.2-5.9 1.9zM672.4 463.2l5.9-1.9-5-2.2-5.8 1.9zM812.4 417.4l29.2-9.6-5-2.2-29.1 9.5zM882.4 394.4l5.8-1.9-4.9-2.2-5.9 1.9zM778.3 424.7l5.8-1.9-4.9-2.3-5.8 1.9zM801.6 417l46.7-15.3-5-2.2-46.6 15.3zM889.1 388.4l5.8-2-4.9-2.2-5.8 1.9zM918.3 378.8l5.8-1.9-4.9-2.2-5.9 1.9zM790.9 416.7l5.8-1.9-4.9-2.3-5.9 2zM831.7 403.3l17.5-5.7-5-2.3-17.5 5.8zM901.7 380.4l5.8-1.9-4.9-2.3-5.9 1.9zM780.1 416.4l5.8-1.9-4.9-2.3-5.8 1.9zM838.4 397.3l11.7-3.9-5-2.2-11.6 3.8zM641 458.1l5.8-1.9-4.9-2.3-5.8 1.9zM833.5 395l17.5-5.7-5-2.3-17.5 5.8zM717.7 429.1l11.7-3.8-5-2.3-11.6 3.9zM834.4 390.9l11.6-3.9-4.9-2.2-11.7 3.8zM921.8 362.2l5.9-1.9-5-2.2-5.8 1.9zM736.1 419.2l5.8-1.9-4.9-2.2-5.8 1.9zM759.4 411.6l5.9-1.9-5-2.3-5.8 1.9zM829.4 388.6l11.7-3.8-4.9-2.2-11.7 3.8zM661.2 439.9l5.8-1.9-4.9-2.2-5.8 1.9zM754.5 409.3l5.8-1.9-4.9-2.2-5.8 1.9zM830.3 384.5l5.9-1.9-5-2.3-5.8 1.9zM749.6 407.1l5.8-1.9-4.9-2.3-5.9 2zM825.4 382.2l5.8-1.9-4.9-2.2-5.9 1.9zM901.2 357.4l5.8-1.9-4.9-2.2-5.8 1.9zM744.6 404.9l5.9-2-5-2.2-5.8 1.9zM814.6 381.9l11.7-3.8-5-2.2-11.6 3.8zM669.7 425.5l5.8-1.9-4.9-2.2-5.8 1.9zM739.7 402.6l5.8-1.9-4.9-2.2-5.8 1.9zM809.7 379.7l11.6-3.8-4.9-2.3-11.7 3.8zM897.2 351l5.8-1.9-5-2.2-5.8 1.9zM699.8 411.8l23.3-7.6-4.9-2.2-23.4 7.6zM804.7 377.4l11.7-3.8-4.9-2.2-11.7 3.8zM909.7 343l5.8-1.9-4.9-2.2-5.8 1.9zM794 377.1l11.6-3.8-4.9-2.2-11.7 3.8zM910.6 338.9l5.8-1.9-4.9-2.3-5.8 2zM701.5 403.5l5.9-1.9-5-2.2-5.8 1.9zM730.7 394l5.8-1.9-4.9-2.3-5.8 2zM783.2 376.8l17.5-5.7-4.9-2.3-17.5 5.8zM725.8 391.8l17.5-5.8-5-2.2-17.5 5.7zM766.6 378.4l23.3-7.7-4.9-2.2-23.3 7.6zM854.1 349.7l5.8-1.9-4.9-2.2-5.9 1.9zM685.8 401l5.9-1.9-5-2.3-5.8 1.9zM726.7 387.6l52.5-17.2-5-2.2-52.5 17.2zM727.6 383.5l29.1-9.6-4.9-2.2-29.2 9.5zM670.1 398.4l5.9-1.9-5-2.2-5.8 1.9zM654.4 395.8l5.9-1.9-5-2.2-5.8 1.9zM638.7 393.3l5.8-1.9-4.9-2.3-5.8 1.9zM802 339.8l5.8-1.9-4.9-2.3-5.8 1.9zM786.3 337.2l5.8-1.9-4.9-2.2-5.8 1.9zM741.4 344.2l23.4-7.6-5-2.3-23.3 7.7zM614 382.1l5.9-1.9-5-2.3-5.8 2zM660.7 366.8l11.6-3.8-4.9-2.3-11.7 3.9z"/>
<path fill="#422a73" stroke="#422a73" d="M894.1 490.8l5.9-1.9-5-2.2-5.8 1.9zM872.1 467.2l5.9-1.9-5-2.3-5.8 2zM855.1 445.8l11.6-3.8-4.9-2.3-11.7 3.9zM837.1 428.5l11.7-3.8-5-2.2-11.6 3.8zM632.5 472.4l5.8-1.9-4.9-2.2-5.8 1.9zM662.6 458.7l5.8-1.9-5-2.2-5.8 1.9zM657.6 456.5l5.8-1.9-4.9-2.2-5.8 1.9zM916 364.1l5.8-1.9-4.9-2.2-5.8 1.9zM882.8 367.3l5.8-1.9-4.9-2.3-5.8 1.9zM862.2 362.5l5.8-1.9-4.9-2.3-5.9 1.9zM704.2 391.1l11.7-3.8-4.9-2.3-11.7 3.9z"/>
<path fill="#403579" stroke="#403579" d="M911.6 485.1l5.9-1.9-5-2.3-5.8 2zM885.1 482.2l5.9-1.9-5-2.2-5.8 1.9zM902.6 476.5l5.9-1.9-5-2.3-5.8 1.9zM936.7 368.9l5.8-1.9-4.9-2.2-5.9 1.9zM874.7 354.5l5.9-1.9-5-2.2-5.8 1.9z"/>
<path fill="#6dc24e" stroke="#6dc24e" d="M987.4 460.2l11.7-3.8-4.9-2.2-11.7 3.8zM1164.2 394.6l5.8-1.9-4.9-2.2-5.8 1.9zM1166.9 382.2l5.8-1.9-4.9-2.3-5.9 1.9zM782.9 504.2l5.8-2-5-2.2-5.8 1.9zM783.7 500l5.9-1.9-5-2.2-5.8 1.9zM755.5 505.4l5.8-1.9-4.9-2.2-5.9 1.9zM778.8 497.8l5.8-1.9-4.9-2.3-5.8 1.9zM750.5 503.2l5.9-1.9-5-2.3-5.8 1.9zM757.3 497.1l5.8-1.9-4.9-2.2-5.9 1.9zM563.4 441.1l5.8-1.9-4.9-2.2-5.9 1.9zM914.2 322.3l5.8-1.9-4.9-2.2-5.9 1.9zM548.6 434.4l5.8-1.9-5-2.3-5.8 2zM653.9 322.8l11.7-3.9-5-2.2-11.6 3.8zM443.5 368.6l5.8-1.9-4.9-2.3-5.8 1.9z"/>
<path fill="#394680" stroke="#394680" d="M889.2 488.6l5.8-1.9-4.9-2.3-5.8 2zM867.2 465l5.8-2-4.9-2.2-5.9 1.9zM851.9 435.3l5.8-2-4.9-2.2-5.8 1.9zM847 433l5.8-1.9-4.9-2.2-5.9 1.9zM842 430.8l5.9-1.9-5-2.3-5.8 1.9zM955.5 382l5.8-1.9-4.9-2.2-5.8 1.9zM950.6 379.8l5.8-1.9-4.9-2.3-5.9 1.9zM945.6 377.5l5.9-1.9-5-2.2-5.8 1.9zM934.9 377.2l11.6-3.8-4.9-2.2-11.7 3.8zM667.5 461l5.8-1.9-4.9-2.3-5.8 1.9zM908.4 374.3l5.8-1.9-4.9-2.2-5.8 1.9zM652.7 454.3l5.8-1.9-4.9-2.3-5.9 1.9zM676 446.6l11.7-3.8-5-2.2-11.6 3.8zM763.5 418l5.8-2-4.9-2.2-5.9 1.9zM665.2 446.3l5.9-1.9-5-2.3-5.8 2zM672 440.2l5.8-1.9-4.9-2.2-5.9 1.9zM695.3 432.6l5.8-1.9-4.9-2.3-5.8 1.9zM679.6 430l11.6-3.8-4.9-2.2-11.7 3.8zM890.4 357.1l5.9-1.9-5-2.3-5.8 1.9zM858.1 356.1l11.7-3.8-5-2.3-11.6 3.9zM709.2 393.3l5.8-1.9-4.9-2.2-5.9 1.9z"/>
<path fill="#431763" stroke="#431763" d="M906.7 482.9l5.8-2-4.9-2.2-5.8 1.9zM890.1 484.4l5.8-1.9-4.9-2.2-5.9 1.9zM868.1 460.8l5.8-1.9-4.9-2.2-5.9 1.9zM874.8 454.7l5.8-1.9-4.9-2.2-5.8 1.9zM860 448l5.8-1.9-4.9-2.2-5.8 1.9zM655.8 464.8l5.9-1.9-5-2.3-5.8 2zM929.9 375l5.9-1.9-5-2.3-5.8 1.9zM919.2 374.7l5.8-2-4.9-2.2-5.9 1.9zM898.5 369.9l5.8-2-4.9-2.2-5.8 1.9zM879.7 356.8l5.8-2-4.9-2.2-5.9 1.9z"/>
<path fill="#2b6584" stroke="#2b6584" d="M912.5 480.9l5.9-1.9-5-2.2-5.8 1.9zM875.3 477.7l5.8-1.9-4.9-2.2-5.9 1.9zM1024.6 413.4l5.9-2-5-2.2-5.8 1.9zM1019.7 411.1l5.8-1.9-4.9-2.2-5.8 1.9zM880.6 452.8l5.9-1.9-5-2.2-5.8 1.9zM1010.7 402.5l5.9-1.9-5-2.3-5.8 2zM849.2 447.7l5.9-1.9-5-2.2-5.8 1.9zM852.8 431.1l5.8-1.9-4.9-2.2-5.8 1.9zM959.6 388.4l5.8-1.9-4.9-2.2-5.9 1.9zM849.6 420.6l11.7-3.9-4.9-2.2-11.7 3.8zM838.9 420.2l29.1-9.5-4.9-2.3-29.2 9.6zM659 475.3l5.8-1.9-4.9-2.2-5.9 1.9zM804.8 427.6l5.8-2-4.9-2.2-5.9 1.9zM828.1 419.9l40.8-13.4-4.9-2.2-40.8 13.4zM956.4 377.9l5.8-1.9-4.9-2.3-5.8 1.9zM817.3 419.6l58.4-19.1-5-2.3-58.3 19.2zM789.1 425l5.8-1.9-4.9-2.3-5.9 2zM806.6 419.3l5.8-1.9-4.9-2.3-5.9 1.9zM841.6 407.8l40.8-13.4-5-2.2-40.8 13.4zM929 379.1l5.9-1.9-5-2.2-5.8 1.9zM848.3 401.7l40.8-13.3-4.9-2.3-40.9 13.4zM627.6 470.2l5.8-1.9-4.9-2.2-5.9 1.9zM680 453l5.9-1.9-5-2.2-5.8 1.9zM849.2 397.6l29.1-9.6-4.9-2.2-29.2 9.5zM895.8 382.3l5.9-1.9-5-2.3-5.8 2zM634.3 464.1l5.8-1.9-4.9-2.2-5.8 1.9zM692.6 445l5.8-1.9-4.9-2.2-5.8 1.9zM850.1 393.4l23.3-7.6-4.9-2.2-23.4 7.6zM705.2 437.1l5.8-1.9-4.9-2.3-5.9 1.9zM851 389.3l17.5-5.7-5-2.3-17.5 5.7zM711.9 431l5.8-1.9-4.9-2.2-5.8 1.9zM846 387.1l17.5-5.7-4.9-2.2-17.5 5.7zM730.3 421.1l5.8-1.9-4.9-2.2-5.9 1.9zM747.8 415.4l5.8-1.9-4.9-2.3-5.9 2zM841.1 384.8l17.5-5.7-5-2.3-17.4 5.8zM742.8 413.1l5.9-2-5-2.2-5.8 1.9zM836.2 382.6l17.4-5.8-4.9-2.2-17.5 5.7zM737.9 410.9l5.8-1.9-4.9-2.2-5.8 1.9zM831.2 380.3l17.5-5.7-4.9-2.2-17.5 5.7zM721.3 412.5l5.8-1.9-4.9-2.3-5.8 2zM733 408.7l5.8-1.9-4.9-2.3-5.9 1.9zM826.3 378.1l17.5-5.7-5-2.3-17.5 5.8zM675.5 423.6l17.5-5.7-4.9-2.2-17.5 5.7zM716.4 410.3l5.8-2-4.9-2.2-5.9 1.9zM728 406.4l5.9-1.9-5-2.2-5.8 1.9zM821.3 375.9l17.5-5.8-4.9-2.2-17.5 5.7zM723.1 404.2l5.8-1.9-4.9-2.3-5.8 2zM734.8 400.4l5.8-1.9-5-2.3-5.8 1.9zM816.4 373.6l17.5-5.7-4.9-2.2-17.5 5.7zM903.9 345l5.8-2-4.9-2.2-5.9 1.9zM712.3 403.9l11.7-3.9-5-2.2-11.6 3.8zM729.8 398.1l5.8-1.9-4.9-2.2-5.8 1.9zM805.6 373.3l17.5-5.7-4.9-2.3-17.5 5.8zM869.8 352.3l11.6-3.8-4.9-2.3-11.7 3.8zM904.8 340.8l5.8-1.9-4.9-2.2-5.9 1.9zM707.4 401.6l5.8-1.9-4.9-2.2-5.9 1.9zM800.7 371.1l17.5-5.8-5-2.2-17.4 5.7zM696.6 401.3l11.7-3.8-5-2.3-11.6 3.9zM789.9 370.7l23.3-7.6-4.9-2.3-23.3 7.7zM691.7 399.1l11.6-3.9-4.9-2.2-11.7 3.8zM720.8 389.5l5.9-1.9-5-2.2-5.8 1.9zM779.2 370.4l23.3-7.6-5-2.3-23.3 7.7zM680.9 398.7l5.8-1.9-4.9-2.2-5.8 1.9zM692.6 394.9l5.8-1.9-4.9-2.2-5.9 1.9zM721.7 385.4l5.9-1.9-5-2.3-5.8 1.9zM756.7 373.9l35-11.5-4.9-2.2-35 11.5zM838.4 347.1l5.8-1.9-4.9-2.2-5.9 1.9zM716.8 383.1l70-22.9-5-2.2-70 22.9zM665.2 396.2l5.8-1.9-4.9-2.3-5.8 1.9zM706 382.8l64.2-21-5-2.3-64.1 21.1zM822.7 344.6l5.8-1.9-4.9-2.3-5.9 1.9zM706.9 378.6l35-11.4-4.9-2.3-35 11.5zM649.5 393.6l5.8-1.9-4.9-2.2-5.9 1.9zM633.8 391l5.8-1.9-4.9-2.2-5.9 1.9zM723.9 349.9l17.5-5.7-4.9-2.2-17.5 5.7zM643.2 372.5l17.5-5.7-5-2.2-17.5 5.7z"/>
<path fill="#305b83" stroke="#305b83" d="M884.3 486.4l5.8-2-5-2.2-5.8 1.9zM1004.9 404.4l5.8-1.9-4.9-2.2-5.8 1.9zM1000 402.2l5.8-1.9-4.9-2.3-5.9 1.9zM995 399.9l5.9-1.9-5-2.2-5.8 1.9zM995.9 395.8l5.8-1.9-4.9-2.3-5.8 1.9zM845.2 441.3l5.8-1.9-4.9-2.2-5.9 1.9zM991 393.5l5.8-1.9-4.9-2.2-5.9 1.9zM836.2 432.7l5.8-1.9-4.9-2.3-5.8 2zM847.9 428.9l5.8-1.9-4.9-2.3-5.9 1.9zM831.3 430.5l5.8-2-4.9-2.2-5.9 1.9zM843.8 422.5l5.8-1.9-4.9-2.3-5.8 1.9zM966.3 382.3l5.8-1.9-4.9-2.2-5.9 1.9zM815.5 427.9l5.9-1.9-5-2.3-5.8 1.9zM833 422.2l5.9-2-5-2.2-5.8 1.9zM949.7 383.9l5.8-1.9-4.9-2.2-5.9 1.9zM822.3 421.8l5.8-1.9-4.9-2.2-5.9 1.9zM799.8 425.3l5.9-1.9-5-2.2-5.8 1.9zM673.3 459.1l5.9-1.9-5-2.3-5.8 1.9zM784.1 422.8l11.7-3.9-4.9-2.2-11.7 3.8zM779.2 420.5l5.8-1.9-4.9-2.2-5.8 1.9zM885.1 382l23.3-7.7-4.9-2.2-23.4 7.6zM757.7 419.9l5.8-1.9-5-2.3-5.8 1.9zM880.1 379.7l5.9-1.9-5-2.2-5.8 1.9zM706.1 432.9l5.8-1.9-4.9-2.2-5.9 1.9zM875.2 377.5l5.8-1.9-4.9-2.3-5.9 2zM712.8 426.9l5.8-2-4.9-2.2-5.9 1.9zM870.2 375.3l5.9-2-5-2.2-5.8 1.9zM667 438l5.9-1.9-5-2.3-5.8 2zM719.5 420.8l11.7-3.8-5-2.3-11.6 3.9zM865.3 373l5.8-1.9-4.9-2.2-5.8 1.9zM906.1 359.6l5.9-1.9-5-2.2-5.8 1.9zM708.7 420.5l17.5-5.8-4.9-2.2-17.5 5.7zM860.4 370.8l5.8-1.9-4.9-2.3-5.9 1.9zM703.8 418.2l11.7-3.8-5-2.2-11.6 3.8zM844.7 368.2l5.8-1.9-4.9-2.2-5.9 1.9zM839.7 366l5.9-1.9-5-2.3-5.8 1.9zM898 346.9l5.9-1.9-5-2.3-5.8 1.9zM724 400l5.8-1.9-4.9-2.2-5.9 1.9zM834.8 363.7l5.8-1.9-4.9-2.2-5.8 1.9zM719 397.8l5.9-1.9-5-2.2-5.8 1.9zM824 363.4l5.9-1.9-5-2.2-5.8 1.9zM714.1 395.6l5.8-1.9-4.9-2.3-5.8 1.9zM819.1 361.2l5.8-1.9-4.9-2.3-5.9 1.9zM703.3 395.2l5.9-1.9-5-2.2-5.8 1.9zM814.1 358.9l5.9-1.9-5-2.2-5.8 1.9zM843.3 349.4l5.8-1.9-4.9-2.3-5.8 1.9zM803.4 358.6l5.8-1.9-4.9-2.2-5.9 1.9zM693.5 390.8l5.8-1.9-4.9-2.3-5.9 1.9zM798.4 356.4l5.9-1.9-5-2.3-5.8 1.9zM827.6 346.8l5.8-1.9-4.9-2.2-5.8 1.9zM793.5 354.1l5.8-1.9-4.9-2.2-5.8 1.9zM666.1 392l5.8-1.9-4.9-2.2-5.8 1.9zM782.7 353.8l5.9-1.9-5-2.2-5.8 1.9zM655.3 391.7l11.7-3.8-5-2.3-11.6 3.9zM754.5 359.2l23.3-7.6-4.9-2.3-23.4 7.7zM644.5 391.4l5.9-1.9-5-2.3-5.8 1.9zM656.2 387.6l87.5-28.7-4.9-2.3-87.5 28.7zM623.9 386.6l5.8-1.9-4.9-2.3-5.8 1.9zM619 384.3l5.8-1.9-4.9-2.2-5.9 1.9zM688.9 361.4l17.5-5.7-4.9-2.3-17.5 5.8z"/>
<path fill="#345182" stroke="#345182" d="M907.6 478.7l5.8-1.9-4.9-2.2-5.9 1.9zM880.2 480l5.8-1.9-4.9-2.3-5.8 1.9zM898.6 470.1l5.8-1.9-4.9-2.3-5.8 1.9zM861.8 439.7l5.8-1.9-4.9-2.2-5.9 1.9zM841.1 434.9l5.9-1.9-5-2.2-5.8 1.9zM970.3 388.7l5.9-1.9-5-2.2-5.8 1.9zM826.3 428.2l5.9-1.9-5-2.2-5.8 1.9zM816.4 423.7l5.9-1.9-5-2.2-5.8 1.9zM659.9 471.2l5.8-1.9-4.9-2.3-5.9 1.9zM805.7 423.4l5.8-1.9-4.9-2.2-5.9 1.9zM939.8 379.5l5.8-2-4.9-2.2-5.8 1.9zM941.6 371.2l5.8-2-4.9-2.2-5.8 1.9zM640.1 462.2l5.9-1.9-5-2.2-5.8 1.9zM768.4 420.2l11.7-3.8-4.9-2.3-11.7 3.9zM687.7 442.8l5.8-1.9-4.9-2.3-5.9 2zM891.8 375.9l11.7-3.8-5-2.2-11.6 3.8zM659.4 448.2l5.8-1.9-4.9-2.2-5.8 1.9zM694.4 436.7l5.8-1.9-4.9-2.2-5.8 1.9zM886.9 373.7l5.8-1.9-5-2.3-5.8 1.9zM666.1 442.1l5.9-1.9-5-2.2-5.8 1.9zM701.1 430.7l5.9-1.9-5-2.3-5.8 1.9zM881.9 371.4l5.8-1.9-4.9-2.2-5.8 1.9zM702 426.5l5.8-1.9-4.9-2.2-5.8 1.9zM673.8 431.9l5.8-1.9-5-2.2-5.8 1.9zM697.1 424.3l5.8-1.9-4.9-2.3-5.9 2zM866.2 368.9l5.8-1.9-4.9-2.3-5.8 1.9zM861.3 366.6l5.8-1.9-4.9-2.2-5.9 1.9zM856.3 364.4l5.9-1.9-5-2.3-5.8 2zM851.4 362.2l5.8-2-4.9-2.2-5.8 1.9zM886.4 350.7l5.8-1.9-4.9-2.3-5.9 2zM840.6 361.8l5.9-1.9-5-2.2-5.8 1.9zM835.7 359.6l5.8-1.9-4.9-2.3-5.9 2zM853.2 353.9l5.8-2-4.9-2.2-5.9 1.9zM830.7 357.4l5.9-2-5-2.2-5.8 1.9zM837.5 351.3l5.8-1.9-4.9-2.3-5.9 2zM815 354.8l5.9-1.9-5-2.3-5.8 1.9zM832.5 349.1l5.9-2-5-2.2-5.8 1.9zM699.3 388.9l11.7-3.9-5-2.2-11.6 3.8zM810.1 352.5l5.8-1.9-4.9-2.2-5.8 1.9zM816.8 346.5l5.9-1.9-5-2.3-5.8 2zM794.4 350l5.8-1.9-4.9-2.3-5.8 1.9zM789.5 347.7l5.8-1.9-5-2.2-5.8 1.9zM801.1 343.9l5.8-1.9-4.9-2.2-5.8 1.9zM767 351.2l17.5-5.7-4.9-2.2-17.5 5.7zM645.4 387.2l5.9-1.9-5-2.2-5.8 1.9zM727.1 360.5l29.1-9.6-4.9-2.2-29.1 9.5zM785.4 341.4l5.8-2-4.9-2.2-5.8 1.9zM634.7 386.9l75.8-24.8-4.9-2.3-75.9 24.9zM723 354.1l35-11.5-4.9-2.2-35 11.4zM624.8 382.4l5.8-1.9-4.9-2.2-5.8 1.9zM642.3 376.7l29.2-9.6-5-2.2-29.1 9.5z"/>
<path fill="#a1cd2d" stroke="#a1cd2d" d="M1165.1 390.5l5.8-1.9-4.9-2.3-5.9 1.9zM1160.1 388.2l11.7-3.8-4.9-2.2-11.7 3.8zM772.1 503.8l5.8-1.9-4.9-2.2-5.9 1.9zM761.3 503.5l5.8-1.9-4.9-2.3-5.8 2zM778.7 397.5l11.7-3.8-4.9-2.2-11.7 3.8zM547.7 438.5l5.8-1.9-4.9-2.2-5.9 1.9zM432.7 368.2l5.9-1.9-5-2.2-5.8 1.9z"/>
<path fill="#431d68" stroke="#431d68" d="M897.7 474.2l5.8-1.9-4.9-2.2-5.8 1.9zM888.7 465.6l5.9-1.9-5-2.2-5.8 1.9zM654.9 468.9l5.9-1.9-5-2.2-5.8 1.9zM645.1 464.5l5.8-1.9-4.9-2.3-5.9 1.9zM656.7 460.6l5.9-1.9-5-2.2-5.8 1.9z"/>
<path fill="#43236d" stroke="#43236d" d="M881.1 475.8l5.8-1.9-4.9-2.2-5.8 1.9zM879.7 457l5.9-1.9-5-2.3-5.8 1.9zM855.9 441.6l5.9-1.9-5-2.2-5.8 1.9zM832.1 426.3l11.6-3.8-4.9-2.3-11.7 3.9zM647.3 479.2l5.8-2-4.9-2.2-5.8 1.9zM935.8 373.1l5.8-1.9-4.9-2.3-5.9 1.9z"/>
<path fill="#3e3b7c" stroke="#3e3b7c" d="M876.2 473.6l5.8-1.9-4.9-2.3-5.9 1.9zM893.7 467.8l5.8-1.9-4.9-2.2-5.9 1.9zM884.7 459.2l5.8-1.9-4.9-2.2-5.9 1.9zM863.1 458.6l5.9-1.9-5-2.3-5.8 1.9zM660.8 467l5.8-1.9-4.9-2.2-5.9 1.9zM924.1 376.9l5.8-1.9-4.9-2.3-5.8 2zM646 460.3l5.8-1.9-5-2.2-5.8 1.9zM931.7 366.7l5.9-1.9-5-2.3-5.8 1.9zM676.9 442.5l11.7-3.9-5-2.2-11.6 3.8zM677.8 438.3l11.7-3.8-5-2.2-11.6 3.8zM684.5 432.3l5.9-2-5-2.2-5.8 1.9zM867.1 364.7l5.8-1.9-4.9-2.2-5.8 1.9zM857.2 360.2l5.9-1.9-5-2.2-5.8 1.9z"/>
<path fill="#208183" stroke="#208183" d="M865.4 473.2l5.8-1.9-4.9-2.2-5.8 1.9zM1036.3 409.5l5.8-1.9-4.9-2.2-5.8 1.9zM856.4 464.6l5.8-1.9-4.9-2.2-5.8 1.9zM1031.4 407.3l5.8-1.9-4.9-2.3-5.9 2zM1026.4 405.1l5.9-2-5-2.2-5.8 1.9zM968.5 397l5.9-1.9-5-2.2-5.8 1.9zM864.5 427.3l5.8-1.9-4.9-2.3-5.9 1.9zM963.6 394.8l5.8-1.9-4.9-2.3-5.8 2zM992.8 385.2l5.8-1.9-4.9-2.2-5.9 1.9zM830.4 434.6l5.8-1.9-4.9-2.2-5.9 1.9zM958.7 392.6l5.8-2-4.9-2.2-5.9 1.9zM987.8 383l5.9-1.9-5-2.2-5.8 1.9zM872.1 417.1l5.8-1.9-4.9-2.3-5.9 1.9zM953.7 390.3l5.9-1.9-5-2.2-5.8 1.9zM967.2 378.2l5.8-1.9-4.9-2.2-5.9 1.9zM886.4 400.8l5.9-1.9-5-2.2-5.8 1.9zM677.4 465.5l5.8-2-4.9-2.2-5.9 1.9zM788.2 429.1l5.8-1.9-4.9-2.2-5.9 1.9zM893.2 394.7l5.8-1.9-5-2.2-5.8 1.9zM684.1 459.4l5.8-1.9-4.9-2.3-5.8 2zM899.9 388.7l5.8-1.9-4.9-2.3-5.9 1.9zM696.7 451.4l5.8-1.9-5-2.2-5.8 1.9zM709.2 443.4l5.8-1.9-4.9-2.2-5.8 1.9zM761.7 426.3l5.8-2-4.9-2.2-5.8 1.9zM740.2 425.6l5.8-1.9-4.9-2.3-5.9 2zM932.6 362.5l5.8-1.9-4.9-2.2-5.8 1.9zM765.3 409.7l5.8-2-4.9-2.2-5.9 1.9zM760.3 407.4l5.9-1.9-5-2.2-5.8 1.9zM812.8 390.2l5.9-1.9-5-2.2-5.8 1.9zM656.3 437.7l5.8-1.9-5-2.3-5.8 1.9zM755.4 405.2l5.8-1.9-4.9-2.3-5.8 1.9zM807.9 388l5.8-1.9-4.9-2.3-5.9 1.9zM657.1 433.5l5.9-1.9-5-2.2-5.8 1.9zM750.5 402.9l5.8-1.9-4.9-2.2-5.9 1.9zM802.9 385.7l5.9-1.9-5-2.2-5.8 1.9zM902.1 353.3l5.8-2-4.9-2.2-5.8 1.9zM745.5 400.7l5.9-1.9-5-2.2-5.8 1.9zM914.6 345.3l5.9-1.9-5-2.3-5.8 1.9zM658.9 425.2l5.9-1.9-5-2.2-5.8 1.9zM927.2 337.3l5.8-1.9-4.9-2.2-5.8 1.9zM659.8 421.1l29.2-9.6-4.9-2.2-29.2 9.5zM782.3 380.9l5.8-1.9-4.9-2.2-5.8 1.9zM933.9 331.3l5.9-2-5-2.2-5.8 1.9zM870.7 348.1l5.8-1.9-4.9-2.2-5.9 1.9zM934.8 327.1l5.9-1.9-5-2.2-5.8 1.9zM684.9 405.1l5.9-1.9-5-2.2-5.8 1.9zM669.2 402.6l5.9-1.9-5-2.3-5.8 1.9zM658.5 402.2l5.8-1.9-4.9-2.2-5.9 1.9zM642.8 399.7l5.8-1.9-4.9-2.3-5.9 1.9zM807.8 337.9l5.9-1.9-5-2.3-5.8 1.9zM617.2 392.6l5.8-1.9-4.9-2.2-5.9 1.9zM787.2 333.1l5.8-1.9-4.9-2.3-5.8 1.9zM782.3 330.8l5.8-1.9-4.9-2.2-5.9 1.9zM596.5 387.8l5.9-1.9-5-2.2-5.8 1.9zM730.7 343.9l29.1-9.6-4.9-2.2-29.2 9.5zM591.6 385.6l5.8-1.9-4.9-2.3-5.8 2zM655.7 364.6l11.7-3.9-4.9-2.2-11.7 3.8zM586.7 383.4l5.8-2-5-2.2-5.8 1.9zM581.7 381.1l5.8-1.9-4.9-2.2-5.8 1.9zM599.2 375.4l5.8-1.9-4.9-2.3-5.8 1.9zM582.6 377l11.7-3.9-5-2.2-11.6 3.8zM610.8 321.4l5.9-1.9-5-2.2-5.8 1.9z"/>
<path fill="#325683" stroke="#325683" d="M871.2 471.3l5.9-1.9-5-2.2-5.8 1.9zM889.6 461.5l5.8-2-4.9-2.2-5.8 1.9zM858.2 456.3l5.8-1.9-4.9-2.2-5.8 1.9zM875.7 450.6l5.8-1.9-4.9-2.3-5.8 2zM990.1 397.7l5.8-1.9-4.9-2.3-5.9 1.9zM985.1 395.4l5.9-1.9-5-2.2-5.8 1.9zM980.2 393.2l11.7-3.8-5-2.2-11.6 3.8zM975.3 391l11.6-3.8-4.9-2.3-11.7 3.8zM976.2 386.8l5.8-1.9-4.9-2.2-5.9 1.9zM971.2 384.6l5.9-1.9-5-2.3-5.8 1.9zM810.6 425.6l5.8-1.9-4.9-2.2-5.8 1.9zM944.7 381.7l5.9-1.9-5-2.3-5.8 2zM811.5 421.5l5.8-1.9-4.9-2.2-5.8 1.9zM666.6 465.1l5.8-1.9-4.9-2.2-5.8 1.9zM794.9 423.1l11.7-3.8-5-2.3-11.6 3.8zM674.2 454.9l5.8-1.9-4.9-2.2-5.8 1.9zM913.3 376.6l5.9-1.9-5-2.3-5.8 1.9zM680.9 448.9l5.9-2-5-2.2-5.8 1.9zM646.8 456.2l5.9-1.9-5-2.3-5.8 1.9zM693.5 440.9l5.8-1.9-4.9-2.3-5.8 1.9zM769.3 416l5.9-1.9-5-2.2-5.8 1.9zM886 377.8l5.8-1.9-4.9-2.2-5.9 1.9zM926.8 364.4l5.8-1.9-4.9-2.2-5.9 1.9zM700.2 434.8l5.9-1.9-5-2.2-5.8 1.9zM758.5 415.7l5.9-1.9-5-2.2-5.8 1.9zM881 375.6l5.9-1.9-5-2.3-5.8 1.9zM707 428.8l5.8-1.9-5-2.3-5.8 1.9zM876.1 373.3l5.8-1.9-4.9-2.2-5.9 1.9zM707.8 424.6l11.7-3.8-4.9-2.2-11.7 3.8zM871.1 371.1l5.9-1.9-5-2.2-5.8 1.9zM702.9 422.4l5.8-1.9-4.9-2.3-5.8 1.9zM674.6 427.8l29.2-9.6-4.9-2.2-29.2 9.5zM855.4 368.5l5.9-1.9-5-2.2-5.8 1.9zM850.5 366.3l5.8-1.9-4.9-2.2-5.8 1.9zM885.5 354.8l5.8-1.9-4.9-2.2-5.8 1.9zM845.6 364.1l5.8-1.9-4.9-2.3-5.9 1.9zM892.2 348.8l5.8-1.9-4.9-2.3-5.8 1.9zM829.9 361.5l5.8-1.9-5-2.2-5.8 1.9zM824.9 359.3l5.8-1.9-4.9-2.3-5.8 1.9zM848.2 351.6l5.9-1.9-5-2.2-5.8 1.9zM820 357l5.8-1.9-4.9-2.2-5.9 1.9zM698.4 393l5.8-1.9-4.9-2.2-5.8 1.9zM809.2 356.7l5.8-1.9-4.9-2.3-5.8 2zM804.3 354.5l5.8-2-4.9-2.2-5.9 1.9zM799.3 352.2l5.9-1.9-5-2.2-5.8 1.9zM788.6 351.9l5.8-1.9-4.9-2.3-5.9 2zM811.9 344.3l5.8-2-4.9-2.2-5.9 1.9zM777.8 351.6l11.7-3.9-5-2.2-11.6 3.8zM650.4 389.5l5.8-1.9-4.9-2.3-5.9 1.9zM743.7 358.9l23.3-7.7-4.9-2.2-23.3 7.6zM796.2 341.7l5.8-1.9-4.9-2.3-5.9 1.9zM639.6 389.1l5.8-1.9-4.9-2.2-5.8 1.9zM651.3 385.3l75.8-24.8-4.9-2.3-75.9 24.9zM780.5 339.1l5.8-1.9-4.9-2.2-5.9 1.9zM758 342.6l17.5-5.7-4.9-2.3-17.5 5.8zM671.5 367.1l17.4-5.7-4.9-2.2-17.5 5.7z"/>
<path fill="#420f5c" stroke="#420f5c" d="M877.1 469.4l5.8-1.9-4.9-2.2-5.9 1.9zM864 454.4l11.7-3.8-4.9-2.2-11.7 3.8zM650.9 462.6l5.8-2-4.9-2.2-5.8 1.9zM900.3 361.6l5.8-2-4.9-2.2-5.8 1.9zM877.9 365l5.8-1.9-4.9-2.2-5.9 1.9z"/>
<path fill="#412f76" stroke="#412f76" d="M859.1 452.2l5.8-1.9-4.9-2.3-5.8 1.9zM865.8 446.1l5.9-1.9-5-2.2-5.8 1.9zM851 439.4l5.8-1.9-4.9-2.2-5.8 1.9zM654 473.1l5.9-1.9-5-2.3-5.8 2zM661.7 462.9l5.8-1.9-4.9-2.3-5.9 1.9zM639.2 466.4l5.9-1.9-5-2.3-5.8 1.9zM651.8 458.4l5.8-1.9-4.9-2.2-5.9 1.9zM663.4 454.6l5.9-1.9-5-2.3-5.8 2zM903.5 372.1l5.8-1.9-5-2.3-5.8 2zM895.4 359.3l5.8-1.9-4.9-2.2-5.9 1.9z"/>
<path fill="#3b417e" stroke="#3b417e" d="M870.8 448.4l5.8-2-4.9-2.2-5.9 1.9zM850.1 443.6l5.8-2-4.9-2.2-5.8 1.9zM846.1 437.2l5.8-1.9-4.9-2.3-5.9 1.9zM668.4 456.8l5.8-1.9-4.9-2.2-5.9 1.9zM669.3 452.7l5.8-1.9-4.9-2.3-5.9 1.9zM658.5 452.4l17.5-5.8-4.9-2.2-17.5 5.7zM671.1 444.4l5.8-1.9-4.9-2.3-5.9 1.9zM688.6 438.6l5.8-1.9-4.9-2.2-5.9 1.9zM689.5 434.5l5.8-1.9-4.9-2.3-5.9 2zM887.7 369.5l5.9-1.9-5-2.2-5.8 1.9zM911.1 361.9l5.8-1.9-4.9-2.3-5.9 1.9zM678.7 434.2l5.8-1.9-4.9-2.3-5.8 1.9zM690.4 430.3l5.8-1.9-5-2.2-5.8 1.9z"/></g>
<g><polygon points="420.0,398.7 457.0,414.7 457.0,418.7 420.0,402.7" fill="#45ad62"/><polygon points="457.0,448.0 481.0,457.0 481.0,476.0 457.0,467.0" fill="#1e6468"/><polygon points="457.0,444.0 481.0,453.0 481.0,457.0 457.0,448.0" fill="#2f9c85"/><polygon points="485.0,434.7 501.0,440.0 501.0,443.5 485.0,438.2" fill="#2f9c85"/><polygon points="502.7,449.3 572.0,477.3 572.0,481.3 502.7,453.3" fill="#36a579"/><polygon points="568.0,476.0 575.0,479.0 575.0,500.0 568.0,497.0" fill="#2c9a7e"/><polygon points="489.0,466.0 500.0,470.0 500.0,486.0 489.0,482.0" fill="#1e6468"/><polygon points="489.0,462.7 500.0,466.7 500.0,470.2 489.0,466.2" fill="#2f9c85"/><polygon points="575.0,498.5 599.0,509.5 599.0,513.5 575.0,502.5" fill="#2f9c85"/><polygon points="594.0,508.0 599.5,510.5 599.5,594.0 594.0,591.5" fill="#2a9480"/><polygon points="963.0,496.5 970.0,499.0 970.0,520.0 963.0,517.5" fill="#256b45"/><polygon points="969.8,498.7 1075.5,465.0 1075.5,468.5 969.8,502.2" fill="#3aa87a"/><polygon points="1084.0,481.0 1115.0,471.5 1115.0,500.0 1084.0,509.5" fill="#236a7a"/><polygon points="1077.0,482.7 1114.7,471.0 1114.7,474.5 1077.0,486.2" fill="#2f9c85"/><polygon points="1139.5,457.8 1153.8,453.5 1153.8,456.5 1139.5,460.8" fill="#3aa87a"/></g>
<g stroke="#8b1a1a" stroke-width="3"><line x1="427.0" y1="332.1" x2="427.0" y2="367.6"/><line x1="647.2" y1="273.9" x2="647.2" y2="316.2"/><line x1="604.6" y1="339.5" x2="604.6" y2="381.6"/><line x1="549.0" y1="402.5" x2="549.0" y2="439.5"/><line x1="772.0" y1="302.9" x2="772.0" y2="342.0"/><line x1="921.0" y1="287.9" x2="921.0" y2="319.4"/><line x1="782.4" y1="363.1" x2="782.4" y2="395.6"/><line x1="979.4" y1="357.9" x2="979.4" y2="387.4"/><line x1="838.0" y1="403.1" x2="838.0" y2="443.0"/><line x1="1000.2" y1="425.5" x2="1000.2" y2="462.0"/><line x1="767.5" y1="467.9" x2="767.5" y2="500.5"/><line x1="1167.5" y1="354.5" x2="1167.5" y2="386.5"/></g>
<g><line x1="326.1" y1="522.1" x2="762.4" y2="718.7" class="f"/><line x1="762.4" y1="718.7" x2="1274.1" y2="550.4" class="f"/><line x1="786.1" y1="711.1" x2="791.6" y2="713.6" class="f"/><line x1="980.5" y1="647.4" x2="986.0" y2="649.9" class="f"/><line x1="1174.9" y1="583.7" x2="1180.4" y2="586.2" class="f"/><line x1="741.7" y1="709.5" x2="736.0" y2="711.3" class="f"/><line x1="577.1" y1="634.9" x2="571.4" y2="636.7" class="f"/><line x1="412.5" y1="560.3" x2="406.8" y2="562.1" class="f"/><line x1="326.6" y1="314.8" x2="320.9" y2="316.7" class="f"/><line x1="326.6" y1="367.0" x2="320.9" y2="368.9" class="f"/><line x1="326.6" y1="419.2" x2="320.9" y2="421.1" class="f"/><line x1="326.6" y1="471.4" x2="320.9" y2="473.3" class="f"/></g>
<g><text x="799.4" y="729.2" text-anchor="middle" >0</text><text x="1001.5" y="664.8" text-anchor="middle" >200</text><text x="1195.0" y="601.2" text-anchor="middle" >400</text><text x="728.3" y="727.2" text-anchor="middle" >0</text><text x="554.7" y="652.2" text-anchor="middle" >200</text><text x="389.7" y="578.0" text-anchor="middle" >400</text><text x="311.0" y="326.0" text-anchor="end" >3990</text><text x="311.0" y="377.6" text-anchor="end" >4000</text><text x="311.0" y="429.6" text-anchor="end" >4010</text><text x="311.0" y="481.6" text-anchor="end" >4020</text><text transform="translate(523.5,665.5) rotate(24.3)" text-anchor="middle" y="5">y</text><text transform="translate(1033.5,681.5) rotate(-18.2)" text-anchor="middle" y="5">x</text><text transform="translate(268.5,418.5) rotate(-90)" text-anchor="middle" y="5">z</text></g>
<!-- colorbar -->
<rect x="45.5" y="790.5" width="1496.5" height="12.5" fill="url(#cb)"/>
<path d="M45.5 790.5H1542L1552.6 796.8L1542 803H45.5Z" fill="none" stroke="#222" stroke-width="1"/>
<g class="f"><line x1="326.6" y1="785" x2="326.6" y2="790.5"/><line x1="794" y1="785" x2="794" y2="790.5"/><line x1="1261.4" y1="785" x2="1261.4" y2="790.5"/></g>
<text x="326.6" y="779" text-anchor="middle">0.25</text><text x="794" y="779" text-anchor="middle">0.50</text><text x="1261.4" y="779" text-anchor="middle">0.75</text>
<!-- interval slider -->
<rect x="46" y="821" width="1507.6" height="9.4" rx="4.7" fill="#aec0e6"/>
<circle cx="50.8" cy="825.7" r="4.9" fill="#4c77d2"/><circle cx="1548.9" cy="825.7" r="4.9" fill="#4c77d2"/>
<!-- step slider -->
<rect x="272" y="862" width="963.5" height="9.4" rx="4.7" fill="#f0f0f0"/>
<circle cx="277" cy="866.7" r="5" fill="#4c77d2"/>
<!-- playback icons -->
<g fill="#000">
<path d="M59.9 864.2v8.4l-5.5-4.2zM65.4 864.2v8.4l-5.5-4.2z"/>
<path d="M110.2 862.2v11l-11.1-5.5z"/>
<path d="M143.8 863.6v8.9l5.7-4.45zM150.2 863.6h2v8.9h-2zM153.6 863.6h2.4v8.9h-2.4z"/>
<path d="M189.9 862.2v11l10.4-5.5z"/>
<path d="M235.3 864.2v8.4l5.4-4.2zM240.4 864.2v8.4l5.4-4.2z"/>
</g>
</svg>
<div class="mn" style="left:1254px;width:222px;top:850.4px">Saturations</div>
<div class="mn" style="left:1494px;width:59.6px;top:850.4px">1</div>
<div class="wl" style="left:367.0px;top:315.5px">INJECT1</div><div class="wl" style="left:587.2px;top:257.3px">INJECT2</div><div class="wl" style="left:544.6px;top:322.9px">PROD1</div><div class="wl" style="left:489.0px;top:385.9px">INJECT3</div><div class="wl" style="left:712.0px;top:286.3px">PROD2</div><div class="wl" style="left:861.0px;top:271.3px">INJECT5</div><div class="wl" style="left:722.4px;top:346.5px">INJECT4</div><div class="wl" style="left:919.4px;top:341.3px">PROD4</div><div class="wl" style="left:778.0px;top:386.5px">PROD3</div><div class="wl" style="left:940.2px;top:408.9px">INJECT7</div><div class="wl" style="left:707.5px;top:451.3px">INJECT6</div><div class="wl" style="left:1107.5px;top:337.9px">INJECT8</div>
</body></html>
